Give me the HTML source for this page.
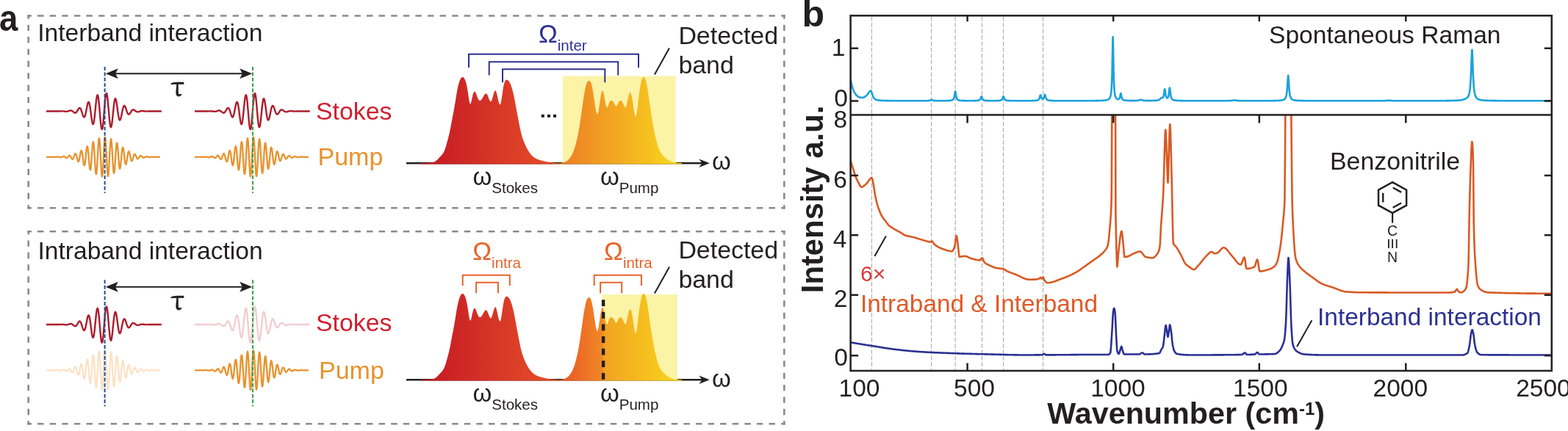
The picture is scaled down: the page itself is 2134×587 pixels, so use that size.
<!DOCTYPE html><html><head><meta charset="utf-8"><title>Figure</title><style>html,body{margin:0;padding:0;background:#fff;overflow:hidden}svg{display:block}text{font-family:'Liberation Sans', Arial, Helvetica, sans-serif}</style></head><body>
<svg width="2134" height="587" viewBox="0 0 2134 587">
<rect width="2134" height="587" fill="#fff"/>
<defs>
<linearGradient id="gRed" gradientUnits="userSpaceOnUse" x1="590" y1="0" x2="740" y2="0"><stop offset="0" stop-color="#c71c25"/><stop offset="1" stop-color="#e34a28"/></linearGradient>
<linearGradient id="gPump" gradientUnits="userSpaceOnUse" x1="770" y1="0" x2="915" y2="0"><stop offset="0" stop-color="#ee8125"/><stop offset="1" stop-color="#f8d31d"/></linearGradient>
<linearGradient id="gPump2" gradientUnits="userSpaceOnUse" x1="770" y1="0" x2="915" y2="0"><stop offset="0" stop-color="#eb5a27"/><stop offset="0.35" stop-color="#f08a25"/><stop offset="0.36" stop-color="#f2a222"/><stop offset="1" stop-color="#f8d11d"/></linearGradient>
<clipPath id="clipTop"><rect x="1157" y="21" width="956" height="135"/></clipPath>
<clipPath id="clipBot"><rect x="1157" y="156.5" width="956" height="349"/></clipPath>
</defs>
<text transform="translate(-1.1 41.7) scale(0.91 1)" font-size="50" font-weight="bold" fill="#231f20">a</text>
<line x1="37.43" y1="21.5" x2="1068.57" y2="21.5" stroke="#8a8a8a" stroke-width="2.55" stroke-dasharray="8.45 8.14" stroke-dashoffset="2.95"/>
<line x1="37.43" y1="283.3" x2="1068.57" y2="283.3" stroke="#8a8a8a" stroke-width="2.55" stroke-dasharray="8.45 8.14" stroke-dashoffset="2.95"/>
<line x1="38.7" y1="20.23" x2="38.7" y2="284.57" stroke="#8a8a8a" stroke-width="2.55" stroke-dasharray="8.33 8.03" stroke-dashoffset="2.83"/>
<line x1="1067.3" y1="20.23" x2="1067.3" y2="284.57" stroke="#8a8a8a" stroke-width="2.55" stroke-dasharray="8.33 8.03" stroke-dashoffset="2.83"/>
<line x1="37.43" y1="315.2" x2="1068.57" y2="315.2" stroke="#8a8a8a" stroke-width="2.55" stroke-dasharray="8.45 8.14" stroke-dashoffset="2.95"/>
<line x1="37.43" y1="577.3" x2="1068.57" y2="577.3" stroke="#8a8a8a" stroke-width="2.55" stroke-dasharray="8.45 8.14" stroke-dashoffset="2.95"/>
<line x1="38.7" y1="313.93" x2="38.7" y2="578.57" stroke="#8a8a8a" stroke-width="2.55" stroke-dasharray="8.34 8.04" stroke-dashoffset="2.84"/>
<line x1="1067.3" y1="313.93" x2="1067.3" y2="578.57" stroke="#8a8a8a" stroke-width="2.55" stroke-dasharray="8.34 8.04" stroke-dashoffset="2.84"/>
<text x="51.2" y="55.9" font-size="33.6" fill="#231f20">Interband interaction</text>
<text x="51.5" y="352.9" font-size="33.6" fill="#231f20">Intraband interaction</text>
<path d="M63 151.5 63.4 151.5 63.8 151.5 64.2 151.5 64.6 151.5 65 151.5 65.4 151.5 65.8 151.5 66.2 151.5 66.6 151.5 67 151.5 67.4 151.5 67.8 151.5 68.2 151.5 68.6 151.5 69 151.5 69.4 151.5 69.8 151.5 70.2 151.5 70.6 151.5 71 151.5 71.4 151.5 71.8 151.5 72.2 151.5 72.6 151.5 73 151.5 73.4 151.5 73.8 151.5 74.2 151.5 74.6 151.5 75 151.5 75.4 151.5 75.8 151.5 76.2 151.5 76.6 151.5 77 151.5 77.4 151.5 77.8 151.5 78.2 151.5 78.6 151.5 79 151.5 79.4 151.5 79.8 151.5 80.2 151.5 80.6 151.5 81 151.5 81.4 151.5 81.8 151.4 82.2 151.4 82.6 151.4 83 151.4 83.4 151.4 83.8 151.4 84.2 151.4 84.6 151.4 85 151.4 85.4 151.4 85.8 151.4 86.2 151.5 86.6 151.5 87 151.6 87.4 151.6 87.8 151.7 88.2 151.7 88.6 151.8 89 151.8 89.4 151.9 89.8 151.9 90.2 151.9 90.6 151.9 91 151.9 91.4 151.8 91.8 151.7 92.2 151.6 92.6 151.5 93 151.4 93.4 151.2 93.8 151.1 94.2 150.9 94.6 150.8 95 150.7 95.4 150.6 95.8 150.5 96.2 150.5 96.6 150.5 97 150.6 97.4 150.7 97.8 150.9 98.2 151.1 98.6 151.4 99 151.7 99.4 152 99.8 152.4 100.2 152.7 100.6 153 101 153.3 101.4 153.5 101.8 153.7 102.2 153.8 102.6 153.7 103 153.6 103.4 153.4 103.8 153 104.2 152.6 104.6 152 105 151.4 105.4 150.7 105.8 150 106.2 149.3 106.6 148.6 107 148 107.4 147.5 107.8 147.2 108.2 147 108.6 147 109 147.2 109.4 147.7 109.8 148.3 110.2 149.1 110.6 150.1 111 151.3 111.4 152.5 111.8 153.8 112.2 155.1 112.6 156.3 113 157.4 113.4 158.4 113.8 159 114.2 159.4 114.6 159.5 115 159.2 115.4 158.5 115.8 157.5 116.2 156.2 116.6 154.5 117 152.6 117.4 150.6 117.8 148.5 118.2 146.3 118.6 144.3 119 142.5 119.4 141 119.8 139.8 120.2 139.1 120.6 138.9 121 139.3 121.4 140.2 121.8 141.6 122.2 143.6 122.6 145.9 123 148.7 123.4 151.7 123.8 154.8 124.2 157.9 124.6 160.9 125 163.6 125.4 165.9 125.8 167.7 126.2 168.8 126.6 169.2 127 168.9 127.4 167.8 127.8 165.9 128.2 163.4 128.6 160.3 129 156.7 129.4 152.8 129.8 148.7 130.2 144.6 130.6 140.6 131 137.1 131.4 134 131.8 131.7 132.2 130.1 132.6 129.4 133 129.6 133.4 130.8 133.8 132.8 134.2 135.7 134.6 139.4 135 143.6 135.4 148.2 135.8 153 136.2 157.8 136.6 162.5 137 166.7 137.4 170.3 137.8 173.2 138.2 175.1 138.6 176.1 139 176.1 139.4 175 139.8 172.9 140.2 169.9 140.6 166.1 141 161.7 141.4 156.9 141.8 151.8 142.2 146.7 142.6 141.9 143 137.4 143.4 133.6 143.8 130.5 144.2 128.3 144.6 127.2 145 127 145.4 127.9 145.8 129.7 146.2 132.5 146.6 136 147 140.1 147.4 144.6 147.8 149.4 148.2 154.2 148.6 158.8 149 163 149.4 166.6 149.8 169.5 150.2 171.7 150.6 172.9 151 173.2 151.4 172.6 151.8 171.2 152.2 168.9 152.6 166 153 162.6 153.4 158.8 153.8 154.8 154.2 150.8 154.6 146.9 155 143.3 155.4 140.3 155.8 137.7 156.2 135.9 156.6 134.7 157 134.3 157.4 134.7 157.8 135.7 158.2 137.3 158.6 139.5 159 142.1 159.4 144.9 159.8 147.9 160.2 150.9 160.6 153.9 161 156.5 161.4 158.9 161.8 160.8 162.2 162.2 162.6 163.2 163 163.6 163.4 163.4 163.8 162.8 164.2 161.7 164.6 160.3 165 158.6 165.4 156.7 165.8 154.7 166.2 152.6 166.6 150.7 167 148.8 167.4 147.3 167.8 145.9 168.2 144.9 168.6 144.3 169 144 169.4 144 169.8 144.3 170.2 144.9 170.6 145.8 171 146.8 171.4 147.9 171.8 149.2 172.2 150.4 172.6 151.6 173 152.7 173.4 153.6 173.8 154.4 174.2 155 174.6 155.5 175 155.7 175.4 155.7 175.8 155.6 176.2 155.2 176.6 154.8 177 154.3 177.4 153.6 177.8 153 178.2 152.3 178.6 151.7 179 151.1 179.4 150.6 179.8 150.1 180.2 149.8 180.6 149.6 181 149.4 181.4 149.4 181.8 149.5 182.2 149.6 182.6 149.8 183 150.1 183.4 150.4 183.8 150.7 184.2 151 184.6 151.3 185 151.6 185.4 151.8 185.8 152.1 186.2 152.2 186.6 152.3 187 152.4 187.4 152.4 187.8 152.4 188.2 152.4 188.6 152.3 189 152.2 189.4 152 189.8 151.9 190.2 151.8 190.6 151.6 191 151.5 191.4 151.4 191.8 151.3 192.2 151.2 192.6 151.2 193 151.1 193.4 151.1 193.8 151.1 194.2 151.2 194.6 151.2 195 151.2 195.4 151.3 195.8 151.3 196.2 151.4 196.6 151.4 197 151.5 197.4 151.5 197.8 151.6 198.2 151.6 198.6 151.6 199 151.6 199.4 151.6 199.8 151.6 200.2 151.6 200.6 151.6 201 151.6 201.4 151.6 201.8 151.6 202.2 151.5 202.6 151.5 203 151.5 203.4 151.5 203.8 151.5 204.2 151.5 204.6 151.5 205 151.5 205.4 151.5 205.8 151.5 206.2 151.5 206.6 151.5 207 151.5 207.4 151.5 207.8 151.5 208.2 151.5 208.6 151.5 209 151.5 209.4 151.5 209.8 151.5 210.2 151.5 210.6 151.5 211 151.5 211.4 151.5 211.8 151.5 212.2 151.5 212.6 151.5 213 151.5 213.4 151.5 213.8 151.5 214.2 151.5 214.6 151.5 215 151.5 215.4 151.5 215.8 151.5 216.2 151.5 216.6 151.5 217 151.5 217.4 151.5 217.8 151.5 218.2 151.5 218.6 151.5 219 151.5 219.4 151.5 219.8 151.5" fill="none" stroke="#ab1c2c" stroke-width="2.4" stroke-linejoin="round"/>
<path d="M63 213.8 63.4 213.8 63.8 213.8 64.2 213.8 64.6 213.8 65 213.8 65.4 213.8 65.8 213.8 66.2 213.8 66.6 213.8 67 213.8 67.4 213.8 67.8 213.8 68.2 213.8 68.6 213.8 69 213.8 69.4 213.7 69.8 213.7 70.2 213.7 70.6 213.7 71 213.7 71.4 213.7 71.8 213.8 72.2 213.8 72.6 213.8 73 213.9 73.4 213.9 73.8 213.9 74.2 213.9 74.6 213.9 75 213.9 75.4 213.9 75.8 213.9 76.2 213.8 76.6 213.7 77 213.7 77.4 213.6 77.8 213.6 78.2 213.5 78.6 213.5 79 213.6 79.4 213.6 79.8 213.7 80.2 213.8 80.6 213.9 81 214 81.4 214.1 81.8 214.2 82.2 214.3 82.6 214.3 83 214.2 83.4 214.1 83.8 214 84.2 213.8 84.6 213.6 85 213.4 85.4 213.3 85.8 213.1 86.2 213 86.6 213 87 213.1 87.4 213.2 87.8 213.4 88.2 213.7 88.6 214 89 214.4 89.4 214.7 89.8 214.9 90.2 215.1 90.6 215.1 91 215 91.4 214.8 91.8 214.5 92.2 214 92.6 213.5 93 213 93.4 212.5 93.8 212.1 94.2 211.8 94.6 211.7 95 211.8 95.4 212.2 95.8 212.7 96.2 213.4 96.6 214.2 97 215 97.4 215.7 97.8 216.4 98.2 216.8 98.6 217 99 216.8 99.4 216.4 99.8 215.6 100.2 214.6 100.6 213.4 101 212.2 101.4 211.1 101.8 210.1 102.2 209.4 102.6 209.2 103 209.3 103.4 210 103.8 211 104.2 212.5 104.6 214.1 105 215.9 105.4 217.5 105.8 218.9 106.2 219.9 106.6 220.3 107 220.1 107.4 219.3 107.8 217.9 108.2 215.9 108.6 213.7 109 211.3 109.4 209 109.8 207 110.2 205.6 110.6 205 111 205.2 111.4 206.2 111.8 208.1 112.2 210.6 112.6 213.6 113 216.8 113.4 219.8 113.8 222.5 114.2 224.4 114.6 225.3 115 225.2 115.4 223.9 115.8 221.6 116.2 218.4 116.6 214.6 117 210.5 117.4 206.6 117.8 203.2 118.2 200.6 118.6 199.3 119 199.4 119.4 200.8 119.8 203.6 120.2 207.6 120.6 212.2 121 217.3 121.4 222.1 121.8 226.4 122.2 229.6 122.6 231.3 123 231.4 123.4 229.8 123.8 226.5 124.2 221.9 124.6 216.4 125 210.4 125.4 204.6 125.8 199.5 126.2 195.6 126.6 193.4 127 193.1 127.4 194.9 127.8 198.5 128.2 203.7 128.6 210 129 216.8 129.4 223.5 129.8 229.5 130.2 234 130.6 236.7 131 237.2 131.4 235.4 131.8 231.6 132.2 225.9 132.6 219 133 211.4 133.4 204 133.8 197.4 134.2 192.2 134.6 189.1 135 188.3 135.4 190 135.8 194 136.2 199.9 136.6 207.3 137 215.3 137.4 223.3 137.8 230.4 138.2 236 138.6 239.5 139 240.5 139.4 239 139.8 235 140.2 229 140.6 221.5 141 213.3 141.4 205.1 141.8 197.7 142.2 191.8 142.6 188.1 143 186.8 143.4 188.1 143.8 191.9 144.2 197.8 144.6 205.1 145 213.3 145.4 221.4 145.8 228.8 146.2 234.7 146.6 238.6 147 240 147.4 239 147.8 235.5 148.2 230 148.6 223.1 149 215.3 149.4 207.5 149.8 200.4 150.2 194.6 150.6 190.8 151 189.2 151.4 190 151.8 193.1 152.2 198 152.6 204.4 153 211.5 153.4 218.7 153.8 225.3 154.2 230.7 154.6 234.3 155 235.9 155.4 235.4 155.8 232.8 156.2 228.5 156.6 222.9 157 216.6 157.4 210.2 157.8 204.3 158.2 199.5 158.6 196.1 159 194.6 159.4 194.9 159.8 197 160.2 200.6 160.6 205.3 161 210.7 161.4 216.2 161.8 221.3 162.2 225.5 162.6 228.4 163 229.9 163.4 229.8 163.8 228.1 164.2 225.2 164.6 221.4 165 216.9 165.4 212.4 165.8 208.2 166.2 204.7 166.6 202.2 167 200.9 167.4 200.8 167.8 202 168.2 204.3 168.6 207.3 169 210.9 169.4 214.5 169.8 217.8 170.2 220.7 170.6 222.7 171 223.8 171.4 223.9 171.8 223.1 172.2 221.4 172.6 219.1 173 216.4 173.4 213.6 173.8 211 174.2 208.8 174.6 207.2 175 206.3 175.4 206.2 175.8 206.8 176.2 208 176.6 209.7 177 211.6 177.4 213.7 177.8 215.6 178.2 217.3 178.6 218.5 179 219.2 179.4 219.3 179.8 218.9 180.2 218.1 180.6 216.9 181 215.5 181.4 214.1 181.8 212.7 182.2 211.5 182.6 210.6 183 210.1 183.4 209.9 183.8 210.2 184.2 210.7 184.6 211.5 185 212.5 185.4 213.5 185.8 214.4 186.2 215.3 186.6 215.9 187 216.3 187.4 216.4 187.8 216.3 188.2 215.9 188.6 215.4 189 214.8 189.4 214.1 189.8 213.4 190.2 212.9 190.6 212.5 191 212.2 191.4 212.1 191.8 212.2 192.2 212.4 192.6 212.7 193 213.1 193.4 213.6 193.8 214 194.2 214.3 194.6 214.6 195 214.8 195.4 214.8 195.8 214.8 196.2 214.7 196.6 214.5 197 214.2 197.4 214 197.8 213.7 198.2 213.5 198.6 213.3 199 213.2 199.4 213.2 199.8 213.2 200.2 213.3 200.6 213.4 201 213.5 201.4 213.7 201.8 213.8 202.2 214 202.6 214.1 203 214.1 203.4 214.2 203.8 214.2 204.2 214.1 204.6 214.1 205 214 205.4 213.9 205.8 213.8 206.2 213.7 206.6 213.7 207 213.6 207.4 213.6 207.8 213.6 208.2 213.6 208.6 213.7 209 213.7 209.4 213.7 209.8 213.8 210.2 213.8 210.6 213.9 211 213.9 211.4 213.9 211.8 213.9 212.2 213.9 212.6 213.9 213 213.9 213.4 213.8 213.8 213.8 214.2 213.8 214.6 213.8 215 213.8 215.4 213.7 215.8 213.7 216.2 213.7 216.6 213.8 217 213.8 217.4 213.8 217.8 213.8" fill="none" stroke="#e8922c" stroke-width="2.3" stroke-linejoin="round"/>
<path d="M265 151.5 265.4 151.5 265.8 151.5 266.2 151.5 266.6 151.5 267 151.5 267.4 151.5 267.8 151.5 268.2 151.5 268.6 151.5 269 151.5 269.4 151.5 269.8 151.5 270.2 151.5 270.6 151.5 271 151.5 271.4 151.5 271.8 151.5 272.2 151.5 272.6 151.5 273 151.5 273.4 151.5 273.8 151.5 274.2 151.5 274.6 151.5 275 151.5 275.4 151.5 275.8 151.5 276.2 151.5 276.6 151.5 277 151.5 277.4 151.5 277.8 151.5 278.2 151.5 278.6 151.5 279 151.5 279.4 151.5 279.8 151.5 280.2 151.5 280.6 151.5 281 151.5 281.4 151.5 281.8 151.5 282.2 151.5 282.6 151.5 283 151.5 283.4 151.5 283.8 151.4 284.2 151.4 284.6 151.4 285 151.4 285.4 151.4 285.8 151.4 286.2 151.4 286.6 151.4 287 151.4 287.4 151.4 287.8 151.4 288.2 151.5 288.6 151.5 289 151.6 289.4 151.6 289.8 151.7 290.2 151.7 290.6 151.8 291 151.8 291.4 151.9 291.8 151.9 292.2 151.9 292.6 151.9 293 151.9 293.4 151.8 293.8 151.7 294.2 151.6 294.6 151.5 295 151.4 295.4 151.2 295.8 151.1 296.2 150.9 296.6 150.8 297 150.7 297.4 150.6 297.8 150.5 298.2 150.5 298.6 150.5 299 150.6 299.4 150.7 299.8 150.9 300.2 151.1 300.6 151.4 301 151.7 301.4 152 301.8 152.4 302.2 152.7 302.6 153 303 153.3 303.4 153.5 303.8 153.7 304.2 153.8 304.6 153.7 305 153.6 305.4 153.4 305.8 153 306.2 152.6 306.6 152 307 151.4 307.4 150.7 307.8 150 308.2 149.3 308.6 148.6 309 148 309.4 147.5 309.8 147.2 310.2 147 310.6 147 311 147.2 311.4 147.7 311.8 148.3 312.2 149.1 312.6 150.1 313 151.3 313.4 152.5 313.8 153.8 314.2 155.1 314.6 156.3 315 157.4 315.4 158.4 315.8 159 316.2 159.4 316.6 159.5 317 159.2 317.4 158.5 317.8 157.5 318.2 156.2 318.6 154.5 319 152.6 319.4 150.6 319.8 148.5 320.2 146.3 320.6 144.3 321 142.5 321.4 141 321.8 139.8 322.2 139.1 322.6 138.9 323 139.3 323.4 140.2 323.8 141.6 324.2 143.6 324.6 145.9 325 148.7 325.4 151.7 325.8 154.8 326.2 157.9 326.6 160.9 327 163.6 327.4 165.9 327.8 167.7 328.2 168.8 328.6 169.2 329 168.9 329.4 167.8 329.8 165.9 330.2 163.4 330.6 160.3 331 156.7 331.4 152.8 331.8 148.7 332.2 144.6 332.6 140.6 333 137.1 333.4 134 333.8 131.7 334.2 130.1 334.6 129.4 335 129.6 335.4 130.8 335.8 132.8 336.2 135.7 336.6 139.4 337 143.6 337.4 148.2 337.8 153 338.2 157.8 338.6 162.5 339 166.7 339.4 170.3 339.8 173.2 340.2 175.1 340.6 176.1 341 176.1 341.4 175 341.8 172.9 342.2 169.9 342.6 166.1 343 161.7 343.4 156.9 343.8 151.8 344.2 146.7 344.6 141.9 345 137.4 345.4 133.6 345.8 130.5 346.2 128.3 346.6 127.2 347 127 347.4 127.9 347.8 129.7 348.2 132.5 348.6 136 349 140.1 349.4 144.6 349.8 149.4 350.2 154.2 350.6 158.8 351 163 351.4 166.6 351.8 169.5 352.2 171.7 352.6 172.9 353 173.2 353.4 172.6 353.8 171.2 354.2 168.9 354.6 166 355 162.6 355.4 158.8 355.8 154.8 356.2 150.8 356.6 146.9 357 143.3 357.4 140.3 357.8 137.7 358.2 135.9 358.6 134.7 359 134.3 359.4 134.7 359.8 135.7 360.2 137.3 360.6 139.5 361 142.1 361.4 144.9 361.8 147.9 362.2 150.9 362.6 153.9 363 156.5 363.4 158.9 363.8 160.8 364.2 162.2 364.6 163.2 365 163.6 365.4 163.4 365.8 162.8 366.2 161.7 366.6 160.3 367 158.6 367.4 156.7 367.8 154.7 368.2 152.6 368.6 150.7 369 148.8 369.4 147.3 369.8 145.9 370.2 144.9 370.6 144.3 371 144 371.4 144 371.8 144.3 372.2 144.9 372.6 145.8 373 146.8 373.4 147.9 373.8 149.2 374.2 150.4 374.6 151.6 375 152.7 375.4 153.6 375.8 154.4 376.2 155 376.6 155.5 377 155.7 377.4 155.7 377.8 155.6 378.2 155.2 378.6 154.8 379 154.3 379.4 153.6 379.8 153 380.2 152.3 380.6 151.7 381 151.1 381.4 150.6 381.8 150.1 382.2 149.8 382.6 149.6 383 149.4 383.4 149.4 383.8 149.5 384.2 149.6 384.6 149.8 385 150.1 385.4 150.4 385.8 150.7 386.2 151 386.6 151.3 387 151.6 387.4 151.8 387.8 152.1 388.2 152.2 388.6 152.3 389 152.4 389.4 152.4 389.8 152.4 390.2 152.4 390.6 152.3 391 152.2 391.4 152 391.8 151.9 392.2 151.8 392.6 151.6 393 151.5 393.4 151.4 393.8 151.3 394.2 151.2 394.6 151.2 395 151.1 395.4 151.1 395.8 151.1 396.2 151.2 396.6 151.2 397 151.2 397.4 151.3 397.8 151.3 398.2 151.4 398.6 151.4 399 151.5 399.4 151.5 399.8 151.6 400.2 151.6 400.6 151.6 401 151.6 401.4 151.6 401.8 151.6 402.2 151.6 402.6 151.6 403 151.6 403.4 151.6 403.8 151.6 404.2 151.5 404.6 151.5 405 151.5 405.4 151.5 405.8 151.5 406.2 151.5 406.6 151.5 407 151.5 407.4 151.5 407.8 151.5 408.2 151.5 408.6 151.5 409 151.5 409.4 151.5 409.8 151.5 410.2 151.5 410.6 151.5 411 151.5 411.4 151.5 411.8 151.5 412.2 151.5 412.6 151.5 413 151.5 413.4 151.5 413.8 151.5 414.2 151.5 414.6 151.5 415 151.5 415.4 151.5 415.8 151.5 416.2 151.5 416.6 151.5 417 151.5 417.4 151.5 417.8 151.5 418.2 151.5 418.6 151.5 419 151.5 419.4 151.5 419.8 151.5 420.2 151.5 420.6 151.5 421 151.5 421.4 151.5 421.8 151.5" fill="none" stroke="#ab1c2c" stroke-width="2.4" stroke-linejoin="round"/>
<path d="M265 213.8 265.4 213.8 265.8 213.8 266.2 213.8 266.6 213.8 267 213.8 267.4 213.8 267.8 213.8 268.2 213.8 268.6 213.8 269 213.8 269.4 213.8 269.8 213.8 270.2 213.8 270.6 213.8 271 213.8 271.4 213.7 271.8 213.7 272.2 213.7 272.6 213.7 273 213.7 273.4 213.7 273.8 213.8 274.2 213.8 274.6 213.8 275 213.9 275.4 213.9 275.8 213.9 276.2 213.9 276.6 213.9 277 213.9 277.4 213.9 277.8 213.9 278.2 213.8 278.6 213.7 279 213.7 279.4 213.6 279.8 213.6 280.2 213.5 280.6 213.5 281 213.6 281.4 213.6 281.8 213.7 282.2 213.8 282.6 213.9 283 214 283.4 214.1 283.8 214.2 284.2 214.3 284.6 214.3 285 214.2 285.4 214.1 285.8 214 286.2 213.8 286.6 213.6 287 213.4 287.4 213.3 287.8 213.1 288.2 213 288.6 213 289 213.1 289.4 213.2 289.8 213.4 290.2 213.7 290.6 214 291 214.4 291.4 214.7 291.8 214.9 292.2 215.1 292.6 215.1 293 215 293.4 214.8 293.8 214.5 294.2 214 294.6 213.5 295 213 295.4 212.5 295.8 212.1 296.2 211.8 296.6 211.7 297 211.8 297.4 212.2 297.8 212.7 298.2 213.4 298.6 214.2 299 215 299.4 215.7 299.8 216.4 300.2 216.8 300.6 217 301 216.8 301.4 216.4 301.8 215.6 302.2 214.6 302.6 213.4 303 212.2 303.4 211.1 303.8 210.1 304.2 209.4 304.6 209.2 305 209.3 305.4 210 305.8 211 306.2 212.5 306.6 214.1 307 215.9 307.4 217.5 307.8 218.9 308.2 219.9 308.6 220.3 309 220.1 309.4 219.3 309.8 217.9 310.2 215.9 310.6 213.7 311 211.3 311.4 209 311.8 207 312.2 205.6 312.6 205 313 205.2 313.4 206.2 313.8 208.1 314.2 210.6 314.6 213.6 315 216.8 315.4 219.8 315.8 222.5 316.2 224.4 316.6 225.3 317 225.2 317.4 223.9 317.8 221.6 318.2 218.4 318.6 214.6 319 210.5 319.4 206.6 319.8 203.2 320.2 200.6 320.6 199.3 321 199.4 321.4 200.8 321.8 203.6 322.2 207.6 322.6 212.2 323 217.3 323.4 222.1 323.8 226.4 324.2 229.6 324.6 231.3 325 231.4 325.4 229.8 325.8 226.5 326.2 221.9 326.6 216.4 327 210.4 327.4 204.6 327.8 199.5 328.2 195.6 328.6 193.4 329 193.1 329.4 194.9 329.8 198.5 330.2 203.7 330.6 210 331 216.8 331.4 223.5 331.8 229.5 332.2 234 332.6 236.7 333 237.2 333.4 235.4 333.8 231.6 334.2 225.9 334.6 219 335 211.4 335.4 204 335.8 197.4 336.2 192.2 336.6 189.1 337 188.3 337.4 190 337.8 194 338.2 199.9 338.6 207.3 339 215.3 339.4 223.3 339.8 230.4 340.2 236 340.6 239.5 341 240.5 341.4 239 341.8 235 342.2 229 342.6 221.5 343 213.3 343.4 205.1 343.8 197.7 344.2 191.8 344.6 188.1 345 186.8 345.4 188.1 345.8 191.9 346.2 197.8 346.6 205.1 347 213.3 347.4 221.4 347.8 228.8 348.2 234.7 348.6 238.6 349 240 349.4 239 349.8 235.5 350.2 230 350.6 223.1 351 215.3 351.4 207.5 351.8 200.4 352.2 194.6 352.6 190.8 353 189.2 353.4 190 353.8 193.1 354.2 198 354.6 204.4 355 211.5 355.4 218.7 355.8 225.3 356.2 230.7 356.6 234.3 357 235.9 357.4 235.4 357.8 232.8 358.2 228.5 358.6 222.9 359 216.6 359.4 210.2 359.8 204.3 360.2 199.5 360.6 196.1 361 194.6 361.4 194.9 361.8 197 362.2 200.6 362.6 205.3 363 210.7 363.4 216.2 363.8 221.3 364.2 225.5 364.6 228.4 365 229.9 365.4 229.8 365.8 228.1 366.2 225.2 366.6 221.4 367 216.9 367.4 212.4 367.8 208.2 368.2 204.7 368.6 202.2 369 200.9 369.4 200.8 369.8 202 370.2 204.3 370.6 207.3 371 210.9 371.4 214.5 371.8 217.8 372.2 220.7 372.6 222.7 373 223.8 373.4 223.9 373.8 223.1 374.2 221.4 374.6 219.1 375 216.4 375.4 213.6 375.8 211 376.2 208.8 376.6 207.2 377 206.3 377.4 206.2 377.8 206.8 378.2 208 378.6 209.7 379 211.6 379.4 213.7 379.8 215.6 380.2 217.3 380.6 218.5 381 219.2 381.4 219.3 381.8 218.9 382.2 218.1 382.6 216.9 383 215.5 383.4 214.1 383.8 212.7 384.2 211.5 384.6 210.6 385 210.1 385.4 209.9 385.8 210.2 386.2 210.7 386.6 211.5 387 212.5 387.4 213.5 387.8 214.4 388.2 215.3 388.6 215.9 389 216.3 389.4 216.4 389.8 216.3 390.2 215.9 390.6 215.4 391 214.8 391.4 214.1 391.8 213.4 392.2 212.9 392.6 212.5 393 212.2 393.4 212.1 393.8 212.2 394.2 212.4 394.6 212.7 395 213.1 395.4 213.6 395.8 214 396.2 214.3 396.6 214.6 397 214.8 397.4 214.8 397.8 214.8 398.2 214.7 398.6 214.5 399 214.2 399.4 214 399.8 213.7 400.2 213.5 400.6 213.3 401 213.2 401.4 213.2 401.8 213.2 402.2 213.3 402.6 213.4 403 213.5 403.4 213.7 403.8 213.8 404.2 214 404.6 214.1 405 214.1 405.4 214.2 405.8 214.2 406.2 214.1 406.6 214.1 407 214 407.4 213.9 407.8 213.8 408.2 213.7 408.6 213.7 409 213.6 409.4 213.6 409.8 213.6 410.2 213.6 410.6 213.7 411 213.7 411.4 213.7 411.8 213.8 412.2 213.8 412.6 213.9 413 213.9 413.4 213.9 413.8 213.9 414.2 213.9 414.6 213.9 415 213.9 415.4 213.8 415.8 213.8 416.2 213.8 416.6 213.8 417 213.8 417.4 213.7 417.8 213.7 418.2 213.7 418.6 213.8 419 213.8 419.4 213.8 419.8 213.8" fill="none" stroke="#e8922c" stroke-width="2.3" stroke-linejoin="round"/>
<line x1="142.6" y1="91" x2="142.6" y2="263" stroke="#1f4b9b" stroke-width="2" stroke-dasharray="5 2.4"/>
<line x1="344" y1="91" x2="344" y2="263" stroke="#3b9e4b" stroke-width="2" stroke-dasharray="5 2.4"/>
<line x1="153.8" y1="100.3" x2="333.2" y2="100.3" stroke="#231f20" stroke-width="2"/>
<polygon points="143.8,100.3 160.8,93.3 157.1,100.3 160.8,107.3" fill="#231f20"/>
<polygon points="343.2,100.3 326.2,93.3 329.9,100.3 326.2,107.3" fill="#231f20"/>
<text x="232.2" y="131.1" font-size="37" fill="#231f20" stroke="#231f20" stroke-width="0.75" style="font-family:'Noto Serif CJK SC', 'Liberation Serif', serif">&#964;</text>
<path d="M63 442 63.4 442 63.8 442 64.2 442 64.6 442 65 442 65.4 442 65.8 442 66.2 442 66.6 442 67 442 67.4 442 67.8 442 68.2 442 68.6 442 69 442 69.4 442 69.8 442 70.2 442 70.6 442 71 442 71.4 442 71.8 442 72.2 442 72.6 442 73 442 73.4 442 73.8 442 74.2 442 74.6 442 75 442 75.4 442 75.8 442 76.2 442 76.6 442 77 442 77.4 442 77.8 442 78.2 442 78.6 442 79 442 79.4 442 79.8 442 80.2 442 80.6 442 81 442 81.4 442 81.8 441.9 82.2 441.9 82.6 441.9 83 441.9 83.4 441.9 83.8 441.9 84.2 441.9 84.6 441.9 85 441.9 85.4 441.9 85.8 441.9 86.2 442 86.6 442 87 442.1 87.4 442.1 87.8 442.2 88.2 442.2 88.6 442.3 89 442.3 89.4 442.4 89.8 442.4 90.2 442.4 90.6 442.4 91 442.4 91.4 442.3 91.8 442.2 92.2 442.1 92.6 442 93 441.9 93.4 441.7 93.8 441.6 94.2 441.4 94.6 441.3 95 441.2 95.4 441.1 95.8 441 96.2 441 96.6 441 97 441.1 97.4 441.2 97.8 441.4 98.2 441.6 98.6 441.9 99 442.2 99.4 442.5 99.8 442.9 100.2 443.2 100.6 443.5 101 443.8 101.4 444 101.8 444.2 102.2 444.3 102.6 444.2 103 444.1 103.4 443.9 103.8 443.5 104.2 443.1 104.6 442.5 105 441.9 105.4 441.2 105.8 440.5 106.2 439.8 106.6 439.1 107 438.5 107.4 438 107.8 437.7 108.2 437.5 108.6 437.5 109 437.7 109.4 438.2 109.8 438.8 110.2 439.6 110.6 440.6 111 441.8 111.4 443 111.8 444.3 112.2 445.6 112.6 446.8 113 447.9 113.4 448.9 113.8 449.5 114.2 449.9 114.6 450 115 449.7 115.4 449 115.8 448 116.2 446.7 116.6 445 117 443.1 117.4 441.1 117.8 439 118.2 436.8 118.6 434.8 119 433 119.4 431.5 119.8 430.3 120.2 429.6 120.6 429.4 121 429.8 121.4 430.7 121.8 432.1 122.2 434.1 122.6 436.4 123 439.2 123.4 442.2 123.8 445.3 124.2 448.4 124.6 451.4 125 454.1 125.4 456.4 125.8 458.2 126.2 459.3 126.6 459.7 127 459.4 127.4 458.3 127.8 456.4 128.2 453.9 128.6 450.8 129 447.2 129.4 443.3 129.8 439.2 130.2 435.1 130.6 431.1 131 427.6 131.4 424.5 131.8 422.2 132.2 420.6 132.6 419.9 133 420.1 133.4 421.3 133.8 423.3 134.2 426.2 134.6 429.9 135 434.1 135.4 438.7 135.8 443.5 136.2 448.3 136.6 453 137 457.2 137.4 460.8 137.8 463.7 138.2 465.6 138.6 466.6 139 466.6 139.4 465.5 139.8 463.4 140.2 460.4 140.6 456.6 141 452.2 141.4 447.4 141.8 442.3 142.2 437.2 142.6 432.4 143 427.9 143.4 424.1 143.8 421 144.2 418.8 144.6 417.7 145 417.5 145.4 418.4 145.8 420.2 146.2 423 146.6 426.5 147 430.6 147.4 435.1 147.8 439.9 148.2 444.7 148.6 449.3 149 453.5 149.4 457.1 149.8 460 150.2 462.2 150.6 463.4 151 463.7 151.4 463.1 151.8 461.7 152.2 459.4 152.6 456.5 153 453.1 153.4 449.3 153.8 445.3 154.2 441.3 154.6 437.4 155 433.8 155.4 430.8 155.8 428.2 156.2 426.4 156.6 425.2 157 424.8 157.4 425.2 157.8 426.2 158.2 427.8 158.6 430 159 432.6 159.4 435.4 159.8 438.4 160.2 441.4 160.6 444.4 161 447 161.4 449.4 161.8 451.3 162.2 452.7 162.6 453.7 163 454.1 163.4 453.9 163.8 453.3 164.2 452.2 164.6 450.8 165 449.1 165.4 447.2 165.8 445.2 166.2 443.1 166.6 441.2 167 439.3 167.4 437.8 167.8 436.4 168.2 435.4 168.6 434.8 169 434.5 169.4 434.5 169.8 434.8 170.2 435.4 170.6 436.3 171 437.3 171.4 438.4 171.8 439.7 172.2 440.9 172.6 442.1 173 443.2 173.4 444.1 173.8 444.9 174.2 445.5 174.6 446 175 446.2 175.4 446.2 175.8 446.1 176.2 445.7 176.6 445.3 177 444.8 177.4 444.1 177.8 443.5 178.2 442.8 178.6 442.2 179 441.6 179.4 441.1 179.8 440.6 180.2 440.3 180.6 440.1 181 439.9 181.4 439.9 181.8 440 182.2 440.1 182.6 440.3 183 440.6 183.4 440.9 183.8 441.2 184.2 441.5 184.6 441.8 185 442.1 185.4 442.3 185.8 442.6 186.2 442.7 186.6 442.8 187 442.9 187.4 442.9 187.8 442.9 188.2 442.9 188.6 442.8 189 442.7 189.4 442.5 189.8 442.4 190.2 442.3 190.6 442.1 191 442 191.4 441.9 191.8 441.8 192.2 441.7 192.6 441.7 193 441.6 193.4 441.6 193.8 441.6 194.2 441.7 194.6 441.7 195 441.7 195.4 441.8 195.8 441.8 196.2 441.9 196.6 441.9 197 442 197.4 442 197.8 442.1 198.2 442.1 198.6 442.1 199 442.1 199.4 442.1 199.8 442.1 200.2 442.1 200.6 442.1 201 442.1 201.4 442.1 201.8 442.1 202.2 442 202.6 442 203 442 203.4 442 203.8 442 204.2 442 204.6 442 205 442 205.4 442 205.8 442 206.2 442 206.6 442 207 442 207.4 442 207.8 442 208.2 442 208.6 442 209 442 209.4 442 209.8 442 210.2 442 210.6 442 211 442 211.4 442 211.8 442 212.2 442 212.6 442 213 442 213.4 442 213.8 442 214.2 442 214.6 442 215 442 215.4 442 215.8 442 216.2 442 216.6 442 217 442 217.4 442 217.8 442 218.2 442 218.6 442 219 442 219.4 442 219.8 442" fill="none" stroke="#ab1c2c" stroke-width="2.4" stroke-linejoin="round"/>
<path d="M63 504.3 63.4 504.3 63.8 504.3 64.2 504.3 64.6 504.3 65 504.3 65.4 504.3 65.8 504.3 66.2 504.3 66.6 504.3 67 504.3 67.4 504.3 67.8 504.3 68.2 504.3 68.6 504.3 69 504.3 69.4 504.2 69.8 504.2 70.2 504.2 70.6 504.2 71 504.2 71.4 504.2 71.8 504.3 72.2 504.3 72.6 504.3 73 504.4 73.4 504.4 73.8 504.4 74.2 504.4 74.6 504.4 75 504.4 75.4 504.4 75.8 504.4 76.2 504.3 76.6 504.2 77 504.2 77.4 504.1 77.8 504.1 78.2 504 78.6 504 79 504.1 79.4 504.1 79.8 504.2 80.2 504.3 80.6 504.4 81 504.5 81.4 504.6 81.8 504.7 82.2 504.8 82.6 504.8 83 504.7 83.4 504.6 83.8 504.5 84.2 504.3 84.6 504.1 85 503.9 85.4 503.8 85.8 503.6 86.2 503.5 86.6 503.5 87 503.6 87.4 503.7 87.8 503.9 88.2 504.2 88.6 504.5 89 504.9 89.4 505.2 89.8 505.4 90.2 505.6 90.6 505.6 91 505.5 91.4 505.3 91.8 505 92.2 504.5 92.6 504 93 503.5 93.4 503 93.8 502.6 94.2 502.3 94.6 502.2 95 502.3 95.4 502.7 95.8 503.2 96.2 503.9 96.6 504.7 97 505.5 97.4 506.2 97.8 506.9 98.2 507.3 98.6 507.5 99 507.3 99.4 506.9 99.8 506.1 100.2 505.1 100.6 503.9 101 502.7 101.4 501.6 101.8 500.6 102.2 499.9 102.6 499.7 103 499.8 103.4 500.5 103.8 501.5 104.2 503 104.6 504.6 105 506.4 105.4 508 105.8 509.4 106.2 510.4 106.6 510.8 107 510.6 107.4 509.8 107.8 508.4 108.2 506.4 108.6 504.2 109 501.8 109.4 499.5 109.8 497.5 110.2 496.1 110.6 495.5 111 495.7 111.4 496.7 111.8 498.6 112.2 501.1 112.6 504.1 113 507.3 113.4 510.3 113.8 513 114.2 514.9 114.6 515.8 115 515.7 115.4 514.4 115.8 512.1 116.2 508.9 116.6 505.1 117 501 117.4 497.1 117.8 493.7 118.2 491.1 118.6 489.8 119 489.9 119.4 491.3 119.8 494.1 120.2 498.1 120.6 502.7 121 507.8 121.4 512.6 121.8 516.9 122.2 520.1 122.6 521.8 123 521.9 123.4 520.3 123.8 517 124.2 512.4 124.6 506.9 125 500.9 125.4 495.1 125.8 490 126.2 486.1 126.6 483.9 127 483.6 127.4 485.4 127.8 489 128.2 494.2 128.6 500.5 129 507.3 129.4 514 129.8 520 130.2 524.5 130.6 527.2 131 527.7 131.4 525.9 131.8 522.1 132.2 516.4 132.6 509.5 133 501.9 133.4 494.5 133.8 487.9 134.2 482.7 134.6 479.6 135 478.8 135.4 480.5 135.8 484.5 136.2 490.4 136.6 497.8 137 505.8 137.4 513.8 137.8 520.9 138.2 526.5 138.6 530 139 531 139.4 529.5 139.8 525.5 140.2 519.5 140.6 512 141 503.8 141.4 495.6 141.8 488.2 142.2 482.3 142.6 478.6 143 477.3 143.4 478.6 143.8 482.4 144.2 488.3 144.6 495.6 145 503.8 145.4 511.9 145.8 519.3 146.2 525.2 146.6 529.1 147 530.5 147.4 529.5 147.8 526 148.2 520.5 148.6 513.6 149 505.8 149.4 498 149.8 490.9 150.2 485.1 150.6 481.3 151 479.7 151.4 480.5 151.8 483.6 152.2 488.5 152.6 494.9 153 502 153.4 509.2 153.8 515.8 154.2 521.2 154.6 524.8 155 526.4 155.4 525.9 155.8 523.3 156.2 519 156.6 513.4 157 507.1 157.4 500.7 157.8 494.8 158.2 490 158.6 486.6 159 485.1 159.4 485.4 159.8 487.5 160.2 491.1 160.6 495.8 161 501.2 161.4 506.7 161.8 511.8 162.2 516 162.6 518.9 163 520.4 163.4 520.3 163.8 518.6 164.2 515.7 164.6 511.9 165 507.4 165.4 502.9 165.8 498.7 166.2 495.2 166.6 492.7 167 491.4 167.4 491.3 167.8 492.5 168.2 494.8 168.6 497.8 169 501.4 169.4 505 169.8 508.3 170.2 511.2 170.6 513.2 171 514.3 171.4 514.4 171.8 513.6 172.2 511.9 172.6 509.6 173 506.9 173.4 504.1 173.8 501.5 174.2 499.3 174.6 497.7 175 496.8 175.4 496.7 175.8 497.3 176.2 498.5 176.6 500.2 177 502.1 177.4 504.2 177.8 506.1 178.2 507.8 178.6 509 179 509.7 179.4 509.8 179.8 509.4 180.2 508.6 180.6 507.4 181 506 181.4 504.6 181.8 503.2 182.2 502 182.6 501.1 183 500.6 183.4 500.4 183.8 500.7 184.2 501.2 184.6 502 185 503 185.4 504 185.8 504.9 186.2 505.8 186.6 506.4 187 506.8 187.4 506.9 187.8 506.8 188.2 506.4 188.6 505.9 189 505.3 189.4 504.6 189.8 503.9 190.2 503.4 190.6 503 191 502.7 191.4 502.6 191.8 502.7 192.2 502.9 192.6 503.2 193 503.6 193.4 504.1 193.8 504.5 194.2 504.8 194.6 505.1 195 505.3 195.4 505.3 195.8 505.3 196.2 505.2 196.6 505 197 504.7 197.4 504.5 197.8 504.2 198.2 504 198.6 503.8 199 503.7 199.4 503.7 199.8 503.7 200.2 503.8 200.6 503.9 201 504 201.4 504.2 201.8 504.3 202.2 504.5 202.6 504.6 203 504.6 203.4 504.7 203.8 504.7 204.2 504.6 204.6 504.6 205 504.5 205.4 504.4 205.8 504.3 206.2 504.2 206.6 504.2 207 504.1 207.4 504.1 207.8 504.1 208.2 504.1 208.6 504.2 209 504.2 209.4 504.2 209.8 504.3 210.2 504.3 210.6 504.4 211 504.4 211.4 504.4 211.8 504.4 212.2 504.4 212.6 504.4 213 504.4 213.4 504.3 213.8 504.3 214.2 504.3 214.6 504.3 215 504.3 215.4 504.2 215.8 504.2 216.2 504.2 216.6 504.3 217 504.3 217.4 504.3 217.8 504.3" fill="none" stroke="#fbe2c5" stroke-width="2.3" stroke-linejoin="round"/>
<path d="M265 442 265.4 442 265.8 442 266.2 442 266.6 442 267 442 267.4 442 267.8 442 268.2 442 268.6 442 269 442 269.4 442 269.8 442 270.2 442 270.6 442 271 442 271.4 442 271.8 442 272.2 442 272.6 442 273 442 273.4 442 273.8 442 274.2 442 274.6 442 275 442 275.4 442 275.8 442 276.2 442 276.6 442 277 442 277.4 442 277.8 442 278.2 442 278.6 442 279 442 279.4 442 279.8 442 280.2 442 280.6 442 281 442 281.4 442 281.8 442 282.2 442 282.6 442 283 442 283.4 442 283.8 441.9 284.2 441.9 284.6 441.9 285 441.9 285.4 441.9 285.8 441.9 286.2 441.9 286.6 441.9 287 441.9 287.4 441.9 287.8 441.9 288.2 442 288.6 442 289 442.1 289.4 442.1 289.8 442.2 290.2 442.2 290.6 442.3 291 442.3 291.4 442.4 291.8 442.4 292.2 442.4 292.6 442.4 293 442.4 293.4 442.3 293.8 442.2 294.2 442.1 294.6 442 295 441.9 295.4 441.7 295.8 441.6 296.2 441.4 296.6 441.3 297 441.2 297.4 441.1 297.8 441 298.2 441 298.6 441 299 441.1 299.4 441.2 299.8 441.4 300.2 441.6 300.6 441.9 301 442.2 301.4 442.5 301.8 442.9 302.2 443.2 302.6 443.5 303 443.8 303.4 444 303.8 444.2 304.2 444.3 304.6 444.2 305 444.1 305.4 443.9 305.8 443.5 306.2 443.1 306.6 442.5 307 441.9 307.4 441.2 307.8 440.5 308.2 439.8 308.6 439.1 309 438.5 309.4 438 309.8 437.7 310.2 437.5 310.6 437.5 311 437.7 311.4 438.2 311.8 438.8 312.2 439.6 312.6 440.6 313 441.8 313.4 443 313.8 444.3 314.2 445.6 314.6 446.8 315 447.9 315.4 448.9 315.8 449.5 316.2 449.9 316.6 450 317 449.7 317.4 449 317.8 448 318.2 446.7 318.6 445 319 443.1 319.4 441.1 319.8 439 320.2 436.8 320.6 434.8 321 433 321.4 431.5 321.8 430.3 322.2 429.6 322.6 429.4 323 429.8 323.4 430.7 323.8 432.1 324.2 434.1 324.6 436.4 325 439.2 325.4 442.2 325.8 445.3 326.2 448.4 326.6 451.4 327 454.1 327.4 456.4 327.8 458.2 328.2 459.3 328.6 459.7 329 459.4 329.4 458.3 329.8 456.4 330.2 453.9 330.6 450.8 331 447.2 331.4 443.3 331.8 439.2 332.2 435.1 332.6 431.1 333 427.6 333.4 424.5 333.8 422.2 334.2 420.6 334.6 419.9 335 420.1 335.4 421.3 335.8 423.3 336.2 426.2 336.6 429.9 337 434.1 337.4 438.7 337.8 443.5 338.2 448.3 338.6 453 339 457.2 339.4 460.8 339.8 463.7 340.2 465.6 340.6 466.6 341 466.6 341.4 465.5 341.8 463.4 342.2 460.4 342.6 456.6 343 452.2 343.4 447.4 343.8 442.3 344.2 437.2 344.6 432.4 345 427.9 345.4 424.1 345.8 421 346.2 418.8 346.6 417.7 347 417.5 347.4 418.4 347.8 420.2 348.2 423 348.6 426.5 349 430.6 349.4 435.1 349.8 439.9 350.2 444.7 350.6 449.3 351 453.5 351.4 457.1 351.8 460 352.2 462.2 352.6 463.4 353 463.7 353.4 463.1 353.8 461.7 354.2 459.4 354.6 456.5 355 453.1 355.4 449.3 355.8 445.3 356.2 441.3 356.6 437.4 357 433.8 357.4 430.8 357.8 428.2 358.2 426.4 358.6 425.2 359 424.8 359.4 425.2 359.8 426.2 360.2 427.8 360.6 430 361 432.6 361.4 435.4 361.8 438.4 362.2 441.4 362.6 444.4 363 447 363.4 449.4 363.8 451.3 364.2 452.7 364.6 453.7 365 454.1 365.4 453.9 365.8 453.3 366.2 452.2 366.6 450.8 367 449.1 367.4 447.2 367.8 445.2 368.2 443.1 368.6 441.2 369 439.3 369.4 437.8 369.8 436.4 370.2 435.4 370.6 434.8 371 434.5 371.4 434.5 371.8 434.8 372.2 435.4 372.6 436.3 373 437.3 373.4 438.4 373.8 439.7 374.2 440.9 374.6 442.1 375 443.2 375.4 444.1 375.8 444.9 376.2 445.5 376.6 446 377 446.2 377.4 446.2 377.8 446.1 378.2 445.7 378.6 445.3 379 444.8 379.4 444.1 379.8 443.5 380.2 442.8 380.6 442.2 381 441.6 381.4 441.1 381.8 440.6 382.2 440.3 382.6 440.1 383 439.9 383.4 439.9 383.8 440 384.2 440.1 384.6 440.3 385 440.6 385.4 440.9 385.8 441.2 386.2 441.5 386.6 441.8 387 442.1 387.4 442.3 387.8 442.6 388.2 442.7 388.6 442.8 389 442.9 389.4 442.9 389.8 442.9 390.2 442.9 390.6 442.8 391 442.7 391.4 442.5 391.8 442.4 392.2 442.3 392.6 442.1 393 442 393.4 441.9 393.8 441.8 394.2 441.7 394.6 441.7 395 441.6 395.4 441.6 395.8 441.6 396.2 441.7 396.6 441.7 397 441.7 397.4 441.8 397.8 441.8 398.2 441.9 398.6 441.9 399 442 399.4 442 399.8 442.1 400.2 442.1 400.6 442.1 401 442.1 401.4 442.1 401.8 442.1 402.2 442.1 402.6 442.1 403 442.1 403.4 442.1 403.8 442.1 404.2 442 404.6 442 405 442 405.4 442 405.8 442 406.2 442 406.6 442 407 442 407.4 442 407.8 442 408.2 442 408.6 442 409 442 409.4 442 409.8 442 410.2 442 410.6 442 411 442 411.4 442 411.8 442 412.2 442 412.6 442 413 442 413.4 442 413.8 442 414.2 442 414.6 442 415 442 415.4 442 415.8 442 416.2 442 416.6 442 417 442 417.4 442 417.8 442 418.2 442 418.6 442 419 442 419.4 442 419.8 442 420.2 442 420.6 442 421 442 421.4 442 421.8 442" fill="none" stroke="#f1cdd1" stroke-width="2.4" stroke-linejoin="round"/>
<path d="M265 504.3 265.4 504.3 265.8 504.3 266.2 504.3 266.6 504.3 267 504.3 267.4 504.3 267.8 504.3 268.2 504.3 268.6 504.3 269 504.3 269.4 504.3 269.8 504.3 270.2 504.3 270.6 504.3 271 504.3 271.4 504.2 271.8 504.2 272.2 504.2 272.6 504.2 273 504.2 273.4 504.2 273.8 504.3 274.2 504.3 274.6 504.3 275 504.4 275.4 504.4 275.8 504.4 276.2 504.4 276.6 504.4 277 504.4 277.4 504.4 277.8 504.4 278.2 504.3 278.6 504.2 279 504.2 279.4 504.1 279.8 504.1 280.2 504 280.6 504 281 504.1 281.4 504.1 281.8 504.2 282.2 504.3 282.6 504.4 283 504.5 283.4 504.6 283.8 504.7 284.2 504.8 284.6 504.8 285 504.7 285.4 504.6 285.8 504.5 286.2 504.3 286.6 504.1 287 503.9 287.4 503.8 287.8 503.6 288.2 503.5 288.6 503.5 289 503.6 289.4 503.7 289.8 503.9 290.2 504.2 290.6 504.5 291 504.9 291.4 505.2 291.8 505.4 292.2 505.6 292.6 505.6 293 505.5 293.4 505.3 293.8 505 294.2 504.5 294.6 504 295 503.5 295.4 503 295.8 502.6 296.2 502.3 296.6 502.2 297 502.3 297.4 502.7 297.8 503.2 298.2 503.9 298.6 504.7 299 505.5 299.4 506.2 299.8 506.9 300.2 507.3 300.6 507.5 301 507.3 301.4 506.9 301.8 506.1 302.2 505.1 302.6 503.9 303 502.7 303.4 501.6 303.8 500.6 304.2 499.9 304.6 499.7 305 499.8 305.4 500.5 305.8 501.5 306.2 503 306.6 504.6 307 506.4 307.4 508 307.8 509.4 308.2 510.4 308.6 510.8 309 510.6 309.4 509.8 309.8 508.4 310.2 506.4 310.6 504.2 311 501.8 311.4 499.5 311.8 497.5 312.2 496.1 312.6 495.5 313 495.7 313.4 496.7 313.8 498.6 314.2 501.1 314.6 504.1 315 507.3 315.4 510.3 315.8 513 316.2 514.9 316.6 515.8 317 515.7 317.4 514.4 317.8 512.1 318.2 508.9 318.6 505.1 319 501 319.4 497.1 319.8 493.7 320.2 491.1 320.6 489.8 321 489.9 321.4 491.3 321.8 494.1 322.2 498.1 322.6 502.7 323 507.8 323.4 512.6 323.8 516.9 324.2 520.1 324.6 521.8 325 521.9 325.4 520.3 325.8 517 326.2 512.4 326.6 506.9 327 500.9 327.4 495.1 327.8 490 328.2 486.1 328.6 483.9 329 483.6 329.4 485.4 329.8 489 330.2 494.2 330.6 500.5 331 507.3 331.4 514 331.8 520 332.2 524.5 332.6 527.2 333 527.7 333.4 525.9 333.8 522.1 334.2 516.4 334.6 509.5 335 501.9 335.4 494.5 335.8 487.9 336.2 482.7 336.6 479.6 337 478.8 337.4 480.5 337.8 484.5 338.2 490.4 338.6 497.8 339 505.8 339.4 513.8 339.8 520.9 340.2 526.5 340.6 530 341 531 341.4 529.5 341.8 525.5 342.2 519.5 342.6 512 343 503.8 343.4 495.6 343.8 488.2 344.2 482.3 344.6 478.6 345 477.3 345.4 478.6 345.8 482.4 346.2 488.3 346.6 495.6 347 503.8 347.4 511.9 347.8 519.3 348.2 525.2 348.6 529.1 349 530.5 349.4 529.5 349.8 526 350.2 520.5 350.6 513.6 351 505.8 351.4 498 351.8 490.9 352.2 485.1 352.6 481.3 353 479.7 353.4 480.5 353.8 483.6 354.2 488.5 354.6 494.9 355 502 355.4 509.2 355.8 515.8 356.2 521.2 356.6 524.8 357 526.4 357.4 525.9 357.8 523.3 358.2 519 358.6 513.4 359 507.1 359.4 500.7 359.8 494.8 360.2 490 360.6 486.6 361 485.1 361.4 485.4 361.8 487.5 362.2 491.1 362.6 495.8 363 501.2 363.4 506.7 363.8 511.8 364.2 516 364.6 518.9 365 520.4 365.4 520.3 365.8 518.6 366.2 515.7 366.6 511.9 367 507.4 367.4 502.9 367.8 498.7 368.2 495.2 368.6 492.7 369 491.4 369.4 491.3 369.8 492.5 370.2 494.8 370.6 497.8 371 501.4 371.4 505 371.8 508.3 372.2 511.2 372.6 513.2 373 514.3 373.4 514.4 373.8 513.6 374.2 511.9 374.6 509.6 375 506.9 375.4 504.1 375.8 501.5 376.2 499.3 376.6 497.7 377 496.8 377.4 496.7 377.8 497.3 378.2 498.5 378.6 500.2 379 502.1 379.4 504.2 379.8 506.1 380.2 507.8 380.6 509 381 509.7 381.4 509.8 381.8 509.4 382.2 508.6 382.6 507.4 383 506 383.4 504.6 383.8 503.2 384.2 502 384.6 501.1 385 500.6 385.4 500.4 385.8 500.7 386.2 501.2 386.6 502 387 503 387.4 504 387.8 504.9 388.2 505.8 388.6 506.4 389 506.8 389.4 506.9 389.8 506.8 390.2 506.4 390.6 505.9 391 505.3 391.4 504.6 391.8 503.9 392.2 503.4 392.6 503 393 502.7 393.4 502.6 393.8 502.7 394.2 502.9 394.6 503.2 395 503.6 395.4 504.1 395.8 504.5 396.2 504.8 396.6 505.1 397 505.3 397.4 505.3 397.8 505.3 398.2 505.2 398.6 505 399 504.7 399.4 504.5 399.8 504.2 400.2 504 400.6 503.8 401 503.7 401.4 503.7 401.8 503.7 402.2 503.8 402.6 503.9 403 504 403.4 504.2 403.8 504.3 404.2 504.5 404.6 504.6 405 504.6 405.4 504.7 405.8 504.7 406.2 504.6 406.6 504.6 407 504.5 407.4 504.4 407.8 504.3 408.2 504.2 408.6 504.2 409 504.1 409.4 504.1 409.8 504.1 410.2 504.1 410.6 504.2 411 504.2 411.4 504.2 411.8 504.3 412.2 504.3 412.6 504.4 413 504.4 413.4 504.4 413.8 504.4 414.2 504.4 414.6 504.4 415 504.4 415.4 504.3 415.8 504.3 416.2 504.3 416.6 504.3 417 504.3 417.4 504.2 417.8 504.2 418.2 504.2 418.6 504.3 419 504.3 419.4 504.3 419.8 504.3" fill="none" stroke="#e8922c" stroke-width="2.3" stroke-linejoin="round"/>
<line x1="142.6" y1="381.3" x2="142.6" y2="553.5" stroke="#1f4b9b" stroke-width="2" stroke-dasharray="5 2.4"/>
<line x1="344" y1="381.3" x2="344" y2="553.5" stroke="#3b9e4b" stroke-width="2" stroke-dasharray="5 2.4"/>
<line x1="153.8" y1="390.8" x2="333.2" y2="390.8" stroke="#231f20" stroke-width="2"/>
<polygon points="143.8,390.8 160.8,383.8 157.1,390.8 160.8,397.8" fill="#231f20"/>
<polygon points="343.2,390.8 326.2,383.8 329.9,390.8 326.2,397.8" fill="#231f20"/>
<text x="232.2" y="421.6" font-size="37" fill="#231f20" stroke="#231f20" stroke-width="0.75" style="font-family:'Noto Serif CJK SC', 'Liberation Serif', serif">&#964;</text>
<text x="430" y="163" font-size="33.8" fill="#d01f2e">Stokes</text>
<text x="432.5" y="225.3" font-size="34" fill="#e8922c">Pump</text>
<text x="430" y="450.9" font-size="33.8" fill="#d01f2e">Stokes</text>
<text x="434" y="515.6" font-size="34" fill="#e8922c">Pump</text>
<line x1="553" y1="222.2" x2="958" y2="222.2" stroke="#231f20" stroke-width="2.4"/>
<polygon points="965.8,222.2 951.2,216.4 955.6,222.2 951.2,228" fill="#231f20"/>
<rect x="766" y="103.6" width="153.6" height="118.8" fill="#fbf3a6"/>
<path d="M572 223.5 572 222.2 572.5 222.2 573 222.2 573.5 222.1 574 222.1 574.5 222.1 575 222.1 575.5 222 576 222 576.5 222 577 222 577.5 222 578 221.9 578.5 221.9 579 221.9 579.5 221.9 580 221.8 580.5 221.8 581 221.8 581.5 221.8 582 221.7 582.5 221.7 583 221.7 583.5 221.7 584 221.6 584.5 221.6 585 221.6 585.5 221.5 586 221.5 586.5 221.4 587 221.4 587.5 221.3 588 221.3 588.5 221.2 589 221 589.5 220.9 590 220.8 590.5 220.6 591 220.4 591.5 220.2 592 219.9 592.5 219.6 593 219.3 593.5 219 594 218.6 594.5 218.1 595 217.7 595.5 217.2 596 216.7 596.5 216.2 597 215.7 597.5 215.1 598 214.6 598.5 214 599 213.5 599.5 212.9 600 212.4 600.5 211.9 601 211.3 601.5 210.7 602 210.1 602.5 209.5 603 208.7 603.5 207.9 604 207 604.5 206 605 204.9 605.5 203.6 606 202.2 606.5 200.6 607 199 607.5 197.2 608 195.4 608.5 193.6 609 191.8 609.5 189.9 610 188 610.5 186.1 611 184 611.5 181.9 612 179.7 612.5 177.3 613 174.8 613.5 172.2 614 169.5 614.5 166.9 615 164.2 615.5 161.5 616 158.9 616.5 156.3 617 153.7 617.5 151.1 618 148.3 618.5 145.5 619 142.6 619.5 139.6 620 136.4 620.5 133.3 621 130.2 621.5 127.2 622 124.3 622.5 121.7 623 119.3 623.5 117.1 624 115.1 624.5 113.3 625 111.7 625.5 110.2 626 109 626.5 107.9 627 107 627.5 106.3 628 105.7 628.5 105.3 629 105.1 629.5 105 630 105 630.5 105.2 631 105.6 631.5 106.1 632 106.9 632.5 107.8 633 108.9 633.5 110.2 634 111.8 634.5 113.6 635 115.7 635.5 118.1 636 120.8 636.5 123.8 637 127.1 637.5 130.5 638 133.9 638.5 136.9 639 139.3 639.5 141 640 141.6 640.5 141.3 641 140.1 641.5 138.3 642 136.1 642.5 133.7 643 131.4 643.5 129.3 644 127.6 644.5 126.3 645 125.4 645.5 124.8 646 124.6 646.5 124.9 647 125.6 647.5 126.5 648 127.7 648.5 129.1 649 130.5 649.5 131.9 650 133.2 650.5 134.3 651 135.2 651.5 136 652 136.5 652.5 136.9 653 137.1 653.5 137.1 654 136.9 654.5 136.5 655 136 655.5 135.3 656 134.6 656.5 133.8 657 132.9 657.5 132 658 131.2 658.5 130.3 659 129.5 659.5 128.8 660 128.2 660.5 127.7 661 127.4 661.5 127.4 662 127.5 662.5 127.9 663 128.6 663.5 129.6 664 130.8 664.5 132 665 133.4 665.5 134.7 666 135.9 666.5 137 667 137.8 667.5 138.3 668 138.4 668.5 138 669 137.1 669.5 135.9 670 134.4 670.5 132.7 671 130.8 671.5 129 672 127.3 672.5 125.8 673 124.5 673.5 123.6 674 123.2 674.5 123.4 675 124.2 675.5 125.5 676 127.3 676.5 129.3 677 131.6 677.5 133.9 678 136.2 678.5 138.3 679 140.1 679.5 141.5 680 142.4 680.5 142.6 681 142.1 681.5 140.6 682 138.4 682.5 135.6 683 132.3 683.5 128.8 684 125.3 684.5 121.9 685 118.8 685.5 116.3 686 114.1 686.5 112.4 687 111.1 687.5 110.1 688 109.4 688.5 108.9 689 108.7 689.5 108.6 690 108.7 690.5 108.9 691 109.1 691.5 109.5 692 110 692.5 110.6 693 111.3 693.5 112.1 694 113 694.5 114.1 695 115.2 695.5 116.5 696 118 696.5 119.5 697 121.2 697.5 123 698 124.9 698.5 127 699 129.1 699.5 131.4 700 133.9 700.5 136.4 701 139 701.5 141.7 702 144.4 702.5 147.1 703 149.8 703.5 152.6 704 155.3 704.5 158 705 160.6 705.5 163.3 706 165.9 706.5 168.5 707 171 707.5 173.5 708 175.8 708.5 178.1 709 180.3 709.5 182.3 710 184.2 710.5 185.9 711 187.5 711.5 189 712 190.5 712.5 191.8 713 193.1 713.5 194.3 714 195.5 714.5 196.6 715 197.8 715.5 198.8 716 199.9 716.5 200.9 717 201.8 717.5 202.7 718 203.6 718.5 204.5 719 205.3 719.5 206.1 720 206.9 720.5 207.6 721 208.3 721.5 209 722 209.6 722.5 210.2 723 210.8 723.5 211.3 724 211.9 724.5 212.4 725 212.8 725.5 213.3 726 213.7 726.5 214.1 727 214.4 727.5 214.8 728 215.1 728.5 215.4 729 215.7 729.5 216 730 216.2 730.5 216.4 731 216.7 731.5 216.9 732 217.1 732.5 217.2 733 217.4 733.5 217.6 734 217.8 734.5 217.9 735 218.1 735.5 218.2 736 218.4 736.5 218.5 737 218.6 737.5 218.8 738 218.9 738.5 219 739 219.2 739.5 219.3 740 219.4 740.5 219.5 741 219.6 741.5 219.7 742 219.9 742.5 220 743 220.1 743.5 220.2 744 220.3 744.5 220.4 745 220.4 745.5 220.5 746 220.6 746.5 220.7 747 220.8 747.5 220.9 748 220.9 748.5 221 749 221.1 749.5 221.2 750 221.2 750.5 221.3 751 221.4 751.5 221.4 752 221.5 752.5 221.6 753 221.6 753.5 221.7 754 221.7 754.5 221.8 755 221.9 755.5 221.9 756 222 756.5 222 757 222.1 757.5 222.1 758 222.2 758 223.5Z" fill="url(#gRed)"/>
<path d="M752 223.5 752 222.2 752.5 222.2 753 222.2 753.5 222.2 754 222.2 754.5 222.2 755 222.2 755.5 222.2 756 222.2 756.5 222.2 757 222.2 757.5 222.2 758 222.2 758.5 222.2 759 222.2 759.5 222.2 760 222.2 760.5 222.2 761 222.2 761.5 222.2 762 222.2 762.5 222.1 763 222 763.5 222 764 221.9 764.5 221.8 765 221.7 765.5 221.6 766 221.5 766.5 221.3 767 221.2 767.5 221 768 220.9 768.5 220.7 769 220.5 769.5 220.3 770 220 770.5 219.8 771 219.5 771.5 219.2 772 218.8 772.5 218.5 773 218 773.5 217.6 774 217.1 774.5 216.6 775 216 775.5 215.4 776 214.7 776.5 214 777 213.2 777.5 212.4 778 211.5 778.5 210.6 779 209.5 779.5 208.4 780 207.3 780.5 206 781 204.7 781.5 203.3 782 201.8 782.5 200.2 783 198.5 783.5 196.7 784 194.8 784.5 192.8 785 190.8 785.5 188.6 786 186.2 786.5 183.8 787 181.3 787.5 178.6 788 175.8 788.5 172.9 789 169.8 789.5 166.6 790 163.3 790.5 159.9 791 156.3 791.5 152.7 792 149.1 792.5 145.5 793 141.9 793.5 138.4 794 135 794.5 131.8 795 128.7 795.5 125.9 796 123.2 796.5 120.8 797 118.6 797.5 116.7 798 115 798.5 113.6 799 112.4 799.5 111.5 800 110.8 800.5 110.3 801 110 801.5 109.9 802 110 802.5 110.3 803 110.7 803.5 111.4 804 112.3 804.5 113.6 805 115.1 805.5 117 806 119.3 806.5 121.8 807 124.7 807.5 127.7 808 131 808.5 134.3 809 137.6 809.5 141 810 144.3 810.5 147.4 811 150.1 811.5 152.5 812 154.3 812.5 155.4 813 155.7 813.5 155.1 814 153.6 814.5 151.2 815 148.3 815.5 145 816 141.5 816.5 138 817 134.7 817.5 131.6 818 128.9 818.5 126.7 819 125 819.5 124 820 123.6 820.5 124.1 821 125.3 821.5 127.2 822 129.5 822.5 132.2 823 135 823.5 137.8 824 140.5 824.5 142.8 825 144.8 825.5 146.2 826 146.8 826.5 146.6 827 145.8 827.5 144.6 828 143 828.5 141.4 829 140 829.5 138.9 830 138 830.5 137.4 831 137.1 831.5 137 832 137 832.5 137.1 833 137.3 833.5 137.6 834 138 834.5 138.6 835 139.2 835.5 140 836 140.9 836.5 141.9 837 142.8 837.5 143.6 838 144.2 838.5 144.5 839 144.5 839.5 144 840 143.2 840.5 142.2 841 141.1 841.5 140 842 139 842.5 138.2 843 137.6 843.5 137.2 844 137 844.5 136.9 845 137.1 845.5 137.3 846 137.8 846.5 138.3 847 139.1 847.5 139.9 848 141 848.5 142.2 849 143.4 849.5 144.6 850 145.6 850.5 146.3 851 146.5 851.5 146.2 852 145.3 852.5 143.8 853 141.9 853.5 139.7 854 137.4 854.5 135 855 132.7 855.5 130.7 856 128.9 856.5 127.5 857 126.5 857.5 126 858 126.1 858.5 126.9 859 128.2 859.5 130 860 132.3 860.5 135 861 138 861.5 141.3 862 144.7 862.5 148.1 863 151.2 863.5 154 864 156.3 864.5 157.8 865 158.5 865.5 158.1 866 156.7 866.5 154.3 867 151.2 867.5 147.5 868 143.5 868.5 139.2 869 135 869.5 130.9 870 127.1 870.5 123.5 871 120.1 871.5 117.1 872 114.4 872.5 112 873 110 873.5 108.3 874 107 874.5 106 875 105.4 875.5 105 876 104.9 876.5 105 877 105.4 877.5 106.1 878 107.1 878.5 108.4 879 109.9 879.5 111.8 880 114 880.5 116.5 881 119.3 881.5 122.4 882 125.6 882.5 129 883 132.5 883.5 136 884 139.6 884.5 143.1 885 146.6 885.5 150 886 153.4 886.5 156.7 887 159.9 887.5 163 888 166 888.5 168.9 889 171.7 889.5 174.4 890 177 890.5 179.5 891 181.9 891.5 184.2 892 186.4 892.5 188.5 893 190.5 893.5 192.4 894 194.3 894.5 196 895 197.6 895.5 199.1 896 200.6 896.5 201.9 897 203.2 897.5 204.3 898 205.4 898.5 206.4 899 207.3 899.5 208.1 900 208.9 900.5 209.6 901 210.3 901.5 210.9 902 211.5 902.5 212 903 212.5 903.5 213 904 213.5 904.5 214 905 214.4 905.5 214.9 906 215.3 906.5 215.7 907 216.2 907.5 216.6 908 217 908.5 217.3 909 217.7 909.5 218 910 218.3 910.5 218.6 911 218.9 911.5 219.1 912 219.4 912.5 219.6 913 219.8 913.5 220 914 220.2 914.5 220.3 915 220.5 915.5 220.6 916 220.8 916.5 220.9 917 221 917.5 221.1 918 221.2 918.5 221.3 919 221.4 919.5 221.5 920 221.6 920.5 221.7 921 221.7 921.5 221.8 922 221.8 922.5 221.9 923 221.9 923.5 222 924 222 924.5 222 925 222.1 925.5 222.1 926 222.1 926.5 222.1 927 222.2 927.5 222.2 928 222.2 928 223.5Z" fill="url(#gPump)"/>
<text x="643.5" y="251.6" font-size="33" fill="#231f20">&#969;<tspan font-size="20.5" dy="11">Stokes</tspan></text>
<text x="817" y="251.6" font-size="33" fill="#231f20">&#969;<tspan font-size="20.5" dy="11">Pump</tspan></text>
<text x="969" y="231" font-size="33" fill="#231f20">&#969;</text>
<text x="923.4" y="59.7" font-size="33.9" fill="#231f20">Detected</text>
<text x="923.4" y="99.9" font-size="33.9" fill="#231f20">band</text>
<line x1="890.9" y1="101.5" x2="910.9" y2="65.4" stroke="#231f20" stroke-width="2"/>
<rect x="736.8" y="155.9" width="4" height="4" fill="#231f20"/>
<rect x="744.9" y="155.9" width="4" height="4" fill="#231f20"/>
<rect x="753" y="155.9" width="4" height="4" fill="#231f20"/>
<polyline points="638,92 638,73.8 869,73.8 869,92" fill="none" stroke="#2e3192" stroke-width="2"/>
<polyline points="665.7,102.4 665.7,84.2 841.2,84.2 841.2,102.4" fill="none" stroke="#2e3192" stroke-width="2"/>
<polyline points="684,112.3 684,94.2 823.3,94.2 823.3,112.3" fill="none" stroke="#2e3192" stroke-width="2"/>
<text x="733" y="57.5" font-size="34.5" fill="#2e3192">&#937;<tspan font-size="20.5" dy="11.4">inter</tspan></text>
<line x1="553" y1="517.3" x2="958" y2="517.3" stroke="#231f20" stroke-width="2.4"/>
<polygon points="965.8,517.3 951.2,511.5 955.6,517.3 951.2,523.1" fill="#231f20"/>
<rect x="819.5" y="401.2" width="102.5" height="116.3" fill="#fbf3a6"/>
<path d="M572 518.6 572 517.3 572.5 517.3 573 517.3 573.5 517.2 574 517.2 574.5 517.2 575 517.2 575.5 517.1 576 517.1 576.5 517.1 577 517.1 577.5 517.1 578 517 578.5 517 579 517 579.5 517 580 516.9 580.5 516.9 581 516.9 581.5 516.9 582 516.8 582.5 516.8 583 516.8 583.5 516.8 584 516.7 584.5 516.7 585 516.7 585.5 516.6 586 516.6 586.5 516.5 587 516.5 587.5 516.4 588 516.4 588.5 516.3 589 516.1 589.5 516 590 515.9 590.5 515.7 591 515.5 591.5 515.3 592 515 592.5 514.7 593 514.4 593.5 514.1 594 513.7 594.5 513.2 595 512.8 595.5 512.3 596 511.8 596.5 511.3 597 510.8 597.5 510.2 598 509.7 598.5 509.1 599 508.6 599.5 508 600 507.5 600.5 507 601 506.4 601.5 505.8 602 505.2 602.5 504.6 603 503.8 603.5 503 604 502.1 604.5 501.1 605 500 605.5 498.7 606 497.3 606.5 495.7 607 494.1 607.5 492.3 608 490.5 608.5 488.7 609 486.9 609.5 485 610 483.1 610.5 481.2 611 479.1 611.5 477 612 474.8 612.5 472.4 613 469.9 613.5 467.3 614 464.6 614.5 462 615 459.3 615.5 456.6 616 454 616.5 451.4 617 448.8 617.5 446.2 618 443.4 618.5 440.6 619 437.7 619.5 434.7 620 431.5 620.5 428.4 621 425.3 621.5 422.3 622 419.4 622.5 416.8 623 414.4 623.5 412.2 624 410.2 624.5 408.4 625 406.8 625.5 405.3 626 404.1 626.5 403 627 402.1 627.5 401.4 628 400.8 628.5 400.4 629 400.2 629.5 400.1 630 400.1 630.5 400.3 631 400.7 631.5 401.2 632 402 632.5 402.9 633 404 633.5 405.3 634 406.9 634.5 408.7 635 410.8 635.5 413.2 636 415.9 636.5 418.9 637 422.2 637.5 425.6 638 429 638.5 432 639 434.4 639.5 436.1 640 436.7 640.5 436.4 641 435.2 641.5 433.4 642 431.2 642.5 428.8 643 426.5 643.5 424.4 644 422.7 644.5 421.4 645 420.5 645.5 419.9 646 419.7 646.5 420 647 420.7 647.5 421.6 648 422.8 648.5 424.2 649 425.6 649.5 427 650 428.3 650.5 429.4 651 430.3 651.5 431.1 652 431.6 652.5 432 653 432.2 653.5 432.2 654 432 654.5 431.6 655 431.1 655.5 430.4 656 429.7 656.5 428.9 657 428 657.5 427.1 658 426.3 658.5 425.4 659 424.6 659.5 423.9 660 423.3 660.5 422.8 661 422.5 661.5 422.5 662 422.6 662.5 423 663 423.7 663.5 424.7 664 425.9 664.5 427.1 665 428.5 665.5 429.8 666 431 666.5 432.1 667 432.9 667.5 433.4 668 433.5 668.5 433.1 669 432.2 669.5 431 670 429.5 670.5 427.8 671 425.9 671.5 424.1 672 422.4 672.5 420.9 673 419.6 673.5 418.7 674 418.3 674.5 418.5 675 419.3 675.5 420.6 676 422.4 676.5 424.4 677 426.7 677.5 429 678 431.3 678.5 433.4 679 435.2 679.5 436.6 680 437.5 680.5 437.7 681 437.2 681.5 435.7 682 433.5 682.5 430.7 683 427.4 683.5 423.9 684 420.4 684.5 417 685 413.9 685.5 411.4 686 409.2 686.5 407.5 687 406.2 687.5 405.2 688 404.5 688.5 404 689 403.8 689.5 403.7 690 403.8 690.5 404 691 404.2 691.5 404.6 692 405.1 692.5 405.7 693 406.4 693.5 407.2 694 408.1 694.5 409.2 695 410.3 695.5 411.6 696 413.1 696.5 414.6 697 416.3 697.5 418.1 698 420 698.5 422.1 699 424.2 699.5 426.5 700 429 700.5 431.5 701 434.1 701.5 436.8 702 439.5 702.5 442.2 703 444.9 703.5 447.7 704 450.4 704.5 453.1 705 455.7 705.5 458.4 706 461 706.5 463.6 707 466.1 707.5 468.6 708 470.9 708.5 473.2 709 475.4 709.5 477.4 710 479.3 710.5 481 711 482.6 711.5 484.1 712 485.6 712.5 486.9 713 488.2 713.5 489.4 714 490.6 714.5 491.7 715 492.9 715.5 493.9 716 495 716.5 496 717 496.9 717.5 497.8 718 498.7 718.5 499.6 719 500.4 719.5 501.2 720 502 720.5 502.7 721 503.4 721.5 504.1 722 504.7 722.5 505.3 723 505.9 723.5 506.4 724 507 724.5 507.5 725 507.9 725.5 508.4 726 508.8 726.5 509.2 727 509.5 727.5 509.9 728 510.2 728.5 510.5 729 510.8 729.5 511.1 730 511.3 730.5 511.5 731 511.8 731.5 512 732 512.2 732.5 512.3 733 512.5 733.5 512.7 734 512.9 734.5 513 735 513.2 735.5 513.3 736 513.5 736.5 513.6 737 513.7 737.5 513.9 738 514 738.5 514.1 739 514.3 739.5 514.4 740 514.5 740.5 514.6 741 514.7 741.5 514.8 742 515 742.5 515.1 743 515.2 743.5 515.3 744 515.4 744.5 515.5 745 515.5 745.5 515.6 746 515.7 746.5 515.8 747 515.9 747.5 516 748 516 748.5 516.1 749 516.2 749.5 516.3 750 516.3 750.5 516.4 751 516.5 751.5 516.5 752 516.6 752.5 516.7 753 516.7 753.5 516.8 754 516.8 754.5 516.9 755 517 755.5 517 756 517.1 756.5 517.1 757 517.2 757.5 517.2 758 517.3 758 518.6Z" fill="url(#gRed)"/>
<path d="M752 518.6 752 517.3 752.5 517.3 753 517.3 753.5 517.3 754 517.3 754.5 517.3 755 517.3 755.5 517.3 756 517.3 756.5 517.3 757 517.3 757.5 517.3 758 517.3 758.5 517.3 759 517.3 759.5 517.3 760 517.3 760.5 517.3 761 517.3 761.5 517.3 762 517.3 762.5 517.2 763 517.1 763.5 517.1 764 517 764.5 516.9 765 516.8 765.5 516.7 766 516.6 766.5 516.4 767 516.3 767.5 516.1 768 516 768.5 515.8 769 515.6 769.5 515.4 770 515.1 770.5 514.9 771 514.6 771.5 514.3 772 513.9 772.5 513.6 773 513.1 773.5 512.7 774 512.2 774.5 511.7 775 511.1 775.5 510.5 776 509.8 776.5 509.1 777 508.3 777.5 507.5 778 506.6 778.5 505.7 779 504.6 779.5 503.5 780 502.4 780.5 501.1 781 499.8 781.5 498.4 782 496.9 782.5 495.3 783 493.6 783.5 491.8 784 489.9 784.5 487.9 785 485.9 785.5 483.7 786 481.3 786.5 478.9 787 476.4 787.5 473.7 788 470.9 788.5 468 789 464.9 789.5 461.7 790 458.4 790.5 455 791 451.4 791.5 447.8 792 444.2 792.5 440.6 793 437 793.5 433.5 794 430.1 794.5 426.9 795 423.8 795.5 421 796 418.3 796.5 415.9 797 413.7 797.5 411.8 798 410.1 798.5 408.7 799 407.5 799.5 406.6 800 405.9 800.5 405.4 801 405.1 801.5 405 802 405.1 802.5 405.4 803 405.8 803.5 406.5 804 407.4 804.5 408.7 805 410.2 805.5 412.1 806 414.4 806.5 416.9 807 419.8 807.5 422.8 808 426.1 808.5 429.4 809 432.7 809.5 436.1 810 439.4 810.5 442.5 811 445.2 811.5 447.6 812 449.4 812.5 450.5 813 450.8 813.5 450.2 814 448.7 814.5 446.3 815 443.4 815.5 440.1 816 436.6 816.5 433.1 817 429.8 817.5 426.7 818 424 818.5 421.8 819 420.1 819.5 419.1 820 418.7 820.5 419.2 821 420.4 821.5 422.3 822 424.6 822.5 427.3 823 430.1 823.5 432.9 824 435.6 824.5 437.9 825 439.9 825.5 441.3 826 441.9 826.5 441.7 827 440.9 827.5 439.7 828 438.1 828.5 436.5 829 435.1 829.5 434 830 433.1 830.5 432.5 831 432.2 831.5 432.1 832 432.1 832.5 432.2 833 432.4 833.5 432.7 834 433.1 834.5 433.7 835 434.3 835.5 435.1 836 436 836.5 437 837 437.9 837.5 438.7 838 439.3 838.5 439.6 839 439.6 839.5 439.1 840 438.3 840.5 437.3 841 436.2 841.5 435.1 842 434.1 842.5 433.3 843 432.7 843.5 432.3 844 432.1 844.5 432 845 432.2 845.5 432.4 846 432.9 846.5 433.4 847 434.2 847.5 435 848 436.1 848.5 437.3 849 438.5 849.5 439.7 850 440.7 850.5 441.4 851 441.6 851.5 441.3 852 440.4 852.5 438.9 853 437 853.5 434.8 854 432.5 854.5 430.1 855 427.8 855.5 425.8 856 424 856.5 422.6 857 421.6 857.5 421.1 858 421.2 858.5 422 859 423.3 859.5 425.1 860 427.4 860.5 430.1 861 433.1 861.5 436.4 862 439.8 862.5 443.2 863 446.3 863.5 449.1 864 451.4 864.5 452.9 865 453.6 865.5 453.2 866 451.8 866.5 449.4 867 446.3 867.5 442.6 868 438.6 868.5 434.3 869 430.1 869.5 426 870 422.2 870.5 418.6 871 415.2 871.5 412.2 872 409.5 872.5 407.1 873 405.1 873.5 403.4 874 402.1 874.5 401.1 875 400.5 875.5 400.1 876 400 876.5 400.1 877 400.5 877.5 401.2 878 402.2 878.5 403.5 879 405 879.5 406.9 880 409.1 880.5 411.6 881 414.4 881.5 417.5 882 420.7 882.5 424.1 883 427.6 883.5 431.1 884 434.7 884.5 438.2 885 441.7 885.5 445.1 886 448.5 886.5 451.8 887 455 887.5 458.1 888 461.1 888.5 464 889 466.8 889.5 469.5 890 472.1 890.5 474.6 891 477 891.5 479.3 892 481.5 892.5 483.6 893 485.6 893.5 487.5 894 489.4 894.5 491.1 895 492.7 895.5 494.2 896 495.7 896.5 497 897 498.3 897.5 499.4 898 500.5 898.5 501.5 899 502.4 899.5 503.2 900 504 900.5 504.7 901 505.4 901.5 506 902 506.6 902.5 507.1 903 507.6 903.5 508.1 904 508.6 904.5 509.1 905 509.5 905.5 510 906 510.4 906.5 510.8 907 511.3 907.5 511.7 908 512.1 908.5 512.4 909 512.8 909.5 513.1 910 513.4 910.5 513.7 911 514 911.5 514.2 912 514.5 912.5 514.7 913 514.9 913.5 515.1 914 515.3 914.5 515.4 915 515.6 915.5 515.7 916 515.9 916.5 516 917 516.1 917.5 516.2 918 516.3 918.5 516.4 919 516.5 919.5 516.6 920 516.7 920.5 516.8 921 516.8 921.5 516.9 922 516.9 922.5 517 923 517 923.5 517.1 924 517.1 924.5 517.1 925 517.2 925.5 517.2 926 517.2 926.5 517.2 927 517.3 927.5 517.3 928 517.3 928 518.6Z" fill="url(#gPump2)"/>
<line x1="821.1" y1="401.2" x2="821.1" y2="517.3" stroke="#231f20" stroke-width="4.4" stroke-dasharray="8.8 7.8" stroke-dashoffset="9.5"/>
<text x="643.5" y="546.7" font-size="33" fill="#231f20">&#969;<tspan font-size="20.5" dy="11">Stokes</tspan></text>
<text x="817" y="546.7" font-size="33" fill="#231f20">&#969;<tspan font-size="20.5" dy="11">Pump</tspan></text>
<text x="969" y="526.6" font-size="33" fill="#231f20">&#969;</text>
<text x="923.4" y="351.6" font-size="33.9" fill="#231f20">Detected</text>
<text x="923.4" y="392.1" font-size="33.9" fill="#231f20">band</text>
<line x1="890.9" y1="399.6" x2="911" y2="363.4" stroke="#231f20" stroke-width="2"/>
<polyline points="629.7,389 629.7,374.8 693.8,374.8 693.8,389" fill="none" stroke="#e8632b" stroke-width="2"/>
<polyline points="648.1,399.2 648.1,384.7 677.9,384.7 677.9,399.2" fill="none" stroke="#e8632b" stroke-width="2"/>
<polyline points="808.7,389 808.7,374.8 872.9,374.8 872.9,389" fill="none" stroke="#e8632b" stroke-width="2"/>
<polyline points="817.1,399.2 817.1,384.7 846.2,384.7 846.2,399.2" fill="none" stroke="#e8632b" stroke-width="2"/>
<text x="643.3" y="353.5" font-size="34.5" fill="#e8632b">&#937;<tspan font-size="20.5" dy="11">intra</tspan></text>
<text x="822.1" y="353.5" font-size="34.5" fill="#e8632b">&#937;<tspan font-size="20.5" dy="11">intra</tspan></text>
<text x="1091.5" y="36" font-size="50" font-weight="bold" fill="#231f20">b</text>
<line x1="1186.4" y1="22.8" x2="1186.4" y2="503.5" stroke="#aaaaaa" stroke-width="1.1" stroke-dasharray="6 2.4"/>
<line x1="1267.6" y1="22.8" x2="1267.6" y2="503.5" stroke="#aaaaaa" stroke-width="1.1" stroke-dasharray="6 2.4"/>
<line x1="1300.1" y1="22.8" x2="1300.1" y2="503.5" stroke="#aaaaaa" stroke-width="1.1" stroke-dasharray="6 2.4"/>
<line x1="1336.4" y1="22.8" x2="1336.4" y2="503.5" stroke="#aaaaaa" stroke-width="1.1" stroke-dasharray="6 2.4"/>
<line x1="1365.6" y1="22.8" x2="1365.6" y2="503.5" stroke="#aaaaaa" stroke-width="1.1" stroke-dasharray="6 2.4"/>
<line x1="1419.6" y1="22.8" x2="1419.6" y2="503.5" stroke="#aaaaaa" stroke-width="1.1" stroke-dasharray="6 2.4"/>
<path d="M1157.6 108.7 1158 110.7 1158.4 112.5 1158.8 114.2 1159.2 115.7 1159.6 117.2 1160 118.5 1160.4 119.7 1160.8 120.9 1161.2 122 1161.6 123 1162 123.9 1162.4 124.7 1162.8 125.5 1163.2 126.3 1163.6 126.9 1164 127.6 1164.4 128.1 1164.8 128.7 1165.2 129.2 1165.6 129.6 1166 130 1166.4 130.4 1166.8 130.8 1167.2 131.1 1167.6 131.4 1168 131.6 1168.4 131.9 1168.8 132.1 1169.2 132.3 1169.6 132.4 1170 132.6 1170.4 132.7 1170.8 132.8 1171.2 132.9 1171.6 132.9 1172 133 1172.4 133 1172.8 133 1173.2 133 1173.6 133 1174 132.9 1174.4 132.8 1174.8 132.7 1175.2 132.6 1175.6 132.5 1176 132.3 1176.4 132.2 1176.8 132 1177.2 131.7 1177.6 131.5 1178 131.2 1178.4 130.8 1178.8 130.5 1179.2 130.1 1179.6 129.7 1180 129.2 1180.4 128.8 1180.8 128.2 1181.2 127.7 1181.6 127.2 1182 126.6 1182.4 126 1182.8 125.5 1183.2 125 1183.6 124.6 1184 124.2 1184.4 123.9 1184.8 123.7 1185.2 123.6 1185.3 123.6 1185.6 123.8 1186 124.6 1186.4 125.8 1186.8 127.2 1187.2 128.6 1187.6 129.9 1188 131 1188.4 131.9 1188.8 132.6 1189.2 133.3 1189.6 133.8 1190 134.2 1190.4 134.6 1190.8 134.9 1191.2 135.2 1191.6 135.4 1192 135.6 1192.4 135.8 1192.8 135.9 1193.2 136 1193.6 136.1 1194 136.2 1194.4 136.3 1194.8 136.4 1195.2 136.5 1195.6 136.5 1196 136.6 1196.4 136.6 1196.8 136.7 1197.2 136.7 1197.6 136.7 1198 136.8 1198.4 136.8 1198.8 136.8 1199.2 136.9 1199.6 136.9 1200 136.9 1200.4 136.9 1200.8 136.9 1201.2 137 1201.6 137 1202 137 1202.4 137 1202.8 137 1203.2 137 1203.6 137 1204 137.1 1204.4 137.1 1204.8 137.1 1205.2 137.1 1205.6 137.1 1206 137.1 1206.4 137.1 1206.8 137.1 1207.2 137.1 1207.6 137.1 1208 137.1 1208.4 137.1 1208.8 137.1 1209.2 137.1 1209.6 137.1 1210 137.2 1210.4 137.2 1210.8 137.2 1211.2 137.2 1211.6 137.2 1212 137.2 1212.4 137.2 1212.8 137.2 1213.2 137.2 1213.6 137.2 1214 137.2 1214.4 137.2 1214.8 137.2 1215.2 137.2 1215.6 137.2 1216 137.2 1216.4 137.2 1216.8 137.2 1217.2 137.2 1217.6 137.2 1218 137.2 1218.4 137.2 1218.8 137.2 1219.2 137.2 1219.6 137.2 1220 137.2 1220.4 137.2 1220.8 137.2 1221.2 137.2 1221.6 137.2 1222 137.2 1222.4 137.2 1222.8 137.2 1223.2 137.2 1223.6 137.2 1224 137.2 1224.4 137.2 1224.8 137.2 1225.2 137.2 1225.6 137.2 1226 137.2 1226.4 137.2 1226.8 137.2 1227.2 137.2 1227.6 137.2 1228 137.2 1228.4 137.2 1228.8 137.2 1229.2 137.2 1229.6 137.2 1230 137.2 1230.4 137.2 1230.8 137.2 1231.2 137.2 1231.6 137.2 1232 137.3 1232.4 137.3 1232.8 137.3 1233.2 137.3 1233.6 137.3 1234 137.3 1234.4 137.3 1234.8 137.3 1235.2 137.3 1235.6 137.3 1236 137.3 1236.4 137.3 1236.8 137.3 1237.2 137.3 1237.6 137.3 1238 137.3 1238.4 137.3 1238.8 137.3 1239.2 137.3 1239.6 137.3 1240 137.3 1240.4 137.3 1240.8 137.3 1241.2 137.3 1241.6 137.3 1242 137.3 1242.4 137.3 1242.8 137.3 1243.2 137.3 1243.6 137.3 1244 137.3 1244.4 137.3 1244.8 137.3 1245.2 137.3 1245.6 137.3 1246 137.3 1246.4 137.3 1246.8 137.3 1247.2 137.3 1247.6 137.3 1248 137.3 1248.4 137.3 1248.8 137.3 1249.2 137.3 1249.6 137.3 1250 137.3 1250.4 137.3 1250.8 137.3 1251.2 137.3 1251.6 137.3 1252 137.3 1252.4 137.3 1252.8 137.3 1253.2 137.3 1253.6 137.3 1254 137.2 1254.4 137.2 1254.8 137.2 1255.2 137.2 1255.6 137.2 1256 137.2 1256.4 137.2 1256.8 137.2 1257.2 137.2 1257.6 137.2 1258 137.2 1258.4 137.2 1258.8 137.2 1259.2 137.2 1259.6 137.2 1260 137.2 1260.4 137.2 1260.8 137.2 1261.2 137.2 1261.6 137.2 1262 137.2 1262.4 137.2 1262.8 137.1 1263.2 137.1 1263.6 137.1 1264 137 1264.4 137 1264.8 136.9 1265.2 136.8 1265.6 136.7 1266 136.6 1266.4 136.3 1266.8 136.1 1267.2 135.9 1267.6 135.8 1267.6 135.8 1268 135.9 1268.4 136.1 1268.8 136.3 1269.2 136.6 1269.6 136.7 1270 136.8 1270.4 136.9 1270.8 137 1271.2 137 1271.6 137.1 1272 137.1 1272.4 137.1 1272.8 137.1 1273.2 137.2 1273.6 137.2 1274 137.2 1274.4 137.2 1274.8 137.2 1275.2 137.2 1275.6 137.2 1276 137.2 1276.4 137.2 1276.8 137.2 1277.2 137.2 1277.6 137.2 1278 137.2 1278.4 137.2 1278.8 137.2 1279.2 137.2 1279.6 137.2 1280 137.2 1280.4 137.2 1280.8 137.2 1281.2 137.2 1281.6 137.2 1282 137.2 1282.4 137.2 1282.8 137.2 1283.2 137.2 1283.6 137.2 1284 137.2 1284.4 137.2 1284.8 137.2 1285.2 137.2 1285.6 137.2 1286 137.2 1286.4 137.2 1286.8 137.2 1287.2 137.2 1287.6 137.2 1288 137.1 1288.4 137.1 1288.8 137.1 1289.2 137.1 1289.6 137.1 1290 137.1 1290.4 137.1 1290.8 137.1 1291.2 137 1291.6 137 1292 137 1292.4 137 1292.8 136.9 1293.2 136.9 1293.6 136.8 1294 136.8 1294.4 136.7 1294.8 136.6 1295.2 136.5 1295.6 136.4 1296 136.2 1296.4 136 1296.8 135.8 1297.2 135.4 1297.6 134.8 1298 134.1 1298.4 133 1298.8 131.3 1299.2 129 1299.6 126.2 1300 124.4 1300.1 124.3 1300.4 125 1300.8 127.6 1301.2 130.2 1301.6 132.2 1302 133.6 1302.4 134.5 1302.8 135.1 1303.2 135.6 1303.6 135.9 1304 136.1 1304.4 136.3 1304.8 136.5 1305.2 136.6 1305.6 136.7 1306 136.8 1306.4 136.8 1306.8 136.9 1307.2 136.9 1307.6 136.9 1308 137 1308.4 137 1308.8 137 1309.2 137 1309.6 137.1 1310 137.1 1310.4 137.1 1310.8 137.1 1311.2 137.1 1311.6 137.1 1312 137.1 1312.4 137.1 1312.8 137.1 1313.2 137.2 1313.6 137.2 1314 137.2 1314.4 137.2 1314.8 137.2 1315.2 137.2 1315.6 137.2 1316 137.2 1316.4 137.2 1316.8 137.2 1317.2 137.2 1317.6 137.2 1318 137.2 1318.4 137.2 1318.8 137.2 1319.2 137.2 1319.6 137.2 1320 137.2 1320.4 137.2 1320.8 137.2 1321.2 137.2 1321.6 137.2 1322 137.2 1322.4 137.2 1322.8 137.2 1323.2 137.2 1323.6 137.2 1324 137.2 1324.4 137.2 1324.8 137.2 1325.2 137.2 1325.6 137.2 1326 137.1 1326.4 137.1 1326.8 137.1 1327.2 137.1 1327.6 137.1 1328 137.1 1328.4 137.1 1328.8 137.1 1329.2 137 1329.6 137 1330 137 1330.4 136.9 1330.8 136.9 1331.2 136.8 1331.6 136.7 1332 136.6 1332.4 136.5 1332.8 136.3 1333.2 136.1 1333.6 135.7 1334 135.2 1334.4 134.5 1334.8 133.5 1335.2 132.3 1335.6 131.4 1335.8 131.3 1336 131.4 1336.4 132.3 1336.8 133.5 1337.2 134.5 1337.6 135.2 1338 135.7 1338.4 136.1 1338.8 136.3 1339.2 136.5 1339.6 136.6 1340 136.7 1340.4 136.8 1340.8 136.9 1341.2 136.9 1341.6 137 1342 137 1342.4 137 1342.8 137.1 1343.2 137.1 1343.6 137.1 1344 137.1 1344.4 137.1 1344.8 137.1 1345.2 137.1 1345.6 137.1 1346 137.2 1346.4 137.2 1346.8 137.2 1347.2 137.2 1347.6 137.2 1348 137.2 1348.4 137.2 1348.8 137.2 1349.2 137.2 1349.6 137.2 1350 137.2 1350.4 137.2 1350.8 137.2 1351.2 137.2 1351.6 137.2 1352 137.2 1352.4 137.2 1352.8 137.2 1353.2 137.2 1353.6 137.2 1354 137.2 1354.4 137.2 1354.8 137.2 1355.2 137.2 1355.6 137.2 1356 137.1 1356.4 137.1 1356.8 137.1 1357.2 137.1 1357.6 137.1 1358 137.1 1358.4 137.1 1358.8 137 1359.2 137 1359.6 137 1360 137 1360.4 136.9 1360.8 136.9 1361.2 136.8 1361.6 136.7 1362 136.6 1362.4 136.4 1362.8 136.2 1363.2 135.9 1363.6 135.5 1364 134.9 1364.4 134 1364.8 132.9 1365.2 131.8 1365.6 131.3 1365.6 131.3 1366 131.8 1366.4 132.9 1366.8 134 1367.2 134.9 1367.6 135.5 1368 135.9 1368.4 136.2 1368.8 136.4 1369.2 136.6 1369.6 136.7 1370 136.8 1370.4 136.9 1370.8 136.9 1371.2 137 1371.6 137 1372 137 1372.4 137.1 1372.8 137.1 1373.2 137.1 1373.6 137.1 1374 137.1 1374.4 137.1 1374.8 137.1 1375.2 137.2 1375.6 137.2 1376 137.2 1376.4 137.2 1376.8 137.2 1377.2 137.2 1377.6 137.2 1378 137.2 1378.4 137.2 1378.8 137.2 1379.2 137.2 1379.6 137.2 1380 137.2 1380.4 137.2 1380.8 137.2 1381.2 137.2 1381.6 137.2 1382 137.2 1382.4 137.2 1382.8 137.2 1383.2 137.2 1383.6 137.2 1384 137.2 1384.4 137.2 1384.8 137.2 1385.2 137.2 1385.6 137.2 1386 137.2 1386.4 137.2 1386.8 137.2 1387.2 137.2 1387.6 137.2 1388 137.2 1388.4 137.2 1388.8 137.2 1389.2 137.2 1389.6 137.2 1390 137.2 1390.4 137.2 1390.8 137.2 1391.2 137.2 1391.6 137.2 1392 137.2 1392.4 137.2 1392.8 137.2 1393.2 137.2 1393.6 137.2 1394 137.2 1394.4 137.2 1394.8 137.2 1395.2 137.2 1395.6 137.2 1396 137.2 1396.4 137.2 1396.8 137.2 1397.2 137.2 1397.6 137.2 1398 137.2 1398.4 137.2 1398.8 137.2 1399.2 137.2 1399.6 137.2 1400 137.2 1400.4 137.2 1400.8 137.2 1401.2 137.2 1401.6 137.2 1402 137.2 1402.4 137.2 1402.8 137.2 1403.2 137.2 1403.6 137.2 1404 137.2 1404.4 137.1 1404.8 137.1 1405.2 137.1 1405.6 137.1 1406 137.1 1406.4 137.1 1406.8 137.1 1407.2 137.1 1407.6 137 1408 137 1408.4 137 1408.8 137 1409.2 136.9 1409.6 136.9 1410 136.9 1410.4 136.8 1410.8 136.7 1411.2 136.7 1411.6 136.6 1412 136.5 1412.4 136.3 1412.8 136.1 1413.2 135.9 1413.6 135.5 1414 135 1414.4 134.3 1414.8 133.3 1415.2 131.9 1415.6 130.4 1416 129.5 1416.1 129.4 1416.4 129.8 1416.8 131 1417.2 132.4 1417.6 133.4 1418 134.2 1418.4 134.6 1418.8 134.8 1419.2 134.8 1419.6 134.7 1420 134.3 1420.4 133.7 1420.8 132.7 1421.2 131.4 1421.6 129.9 1422 129 1422.1 128.9 1422.4 129.4 1422.8 130.8 1423.2 132.4 1423.6 133.6 1424 134.5 1424.4 135.2 1424.8 135.6 1425.2 135.9 1425.6 136.2 1426 136.4 1426.4 136.5 1426.8 136.6 1427.2 136.7 1427.6 136.8 1428 136.8 1428.4 136.9 1428.8 136.9 1429.2 136.9 1429.6 137 1430 137 1430.4 137 1430.8 137 1431.2 137.1 1431.6 137.1 1432 137.1 1432.4 137.1 1432.8 137.1 1433.2 137.1 1433.6 137.1 1434 137.1 1434.4 137.2 1434.8 137.2 1435.2 137.2 1435.6 137.2 1436 137.2 1436.4 137.2 1436.8 137.2 1437.2 137.2 1437.6 137.2 1438 137.2 1438.4 137.2 1438.8 137.2 1439.2 137.2 1439.6 137.2 1440 137.2 1440.4 137.2 1440.8 137.2 1441.2 137.2 1441.6 137.2 1442 137.2 1442.4 137.2 1442.8 137.2 1443.2 137.2 1443.6 137.2 1444 137.2 1444.4 137.2 1444.8 137.2 1445.2 137.2 1445.6 137.2 1446 137.2 1446.4 137.2 1446.8 137.2 1447.2 137.2 1447.6 137.2 1448 137.2 1448.4 137.2 1448.8 137.2 1449.2 137.2 1449.6 137.2 1450 137.2 1450.4 137.2 1450.8 137.2 1451.2 137.2 1451.6 137.2 1452 137.2 1452.4 137.2 1452.8 137.2 1453.2 137.2 1453.6 137.2 1454 137.2 1454.4 137.2 1454.8 137.2 1455.2 137.2 1455.6 137.2 1456 137.2 1456.4 137.2 1456.8 137.2 1457.2 137.2 1457.6 137.2 1458 137.2 1458.4 137.2 1458.8 137.2 1459.2 137.2 1459.6 137.2 1460 137.2 1460.4 137.2 1460.8 137.2 1461.2 137.2 1461.6 137.2 1462 137.2 1462.4 137.2 1462.8 137.2 1463.2 137.2 1463.6 137.2 1464 137.2 1464.4 137.2 1464.8 137.2 1465.2 137.2 1465.6 137.2 1466 137.2 1466.4 137.2 1466.8 137.2 1467.2 137.2 1467.6 137.2 1468 137.2 1468.4 137.2 1468.8 137.2 1469.2 137.2 1469.6 137.2 1470 137.2 1470.4 137.2 1470.8 137.2 1471.2 137.2 1471.6 137.2 1472 137.2 1472.4 137.2 1472.8 137.2 1473.2 137.2 1473.6 137.2 1474 137.2 1474.4 137.2 1474.8 137.2 1475.2 137.2 1475.6 137.2 1476 137.2 1476.4 137.2 1476.8 137.2 1477.2 137.2 1477.6 137.2 1478 137.2 1478.4 137.2 1478.8 137.2 1479.2 137.2 1479.6 137.2 1480 137.2 1480.4 137.2 1480.8 137.2 1481.2 137.2 1481.6 137.2 1482 137.2 1482.4 137.2 1482.8 137.2 1483.2 137.2 1483.6 137.2 1484 137.2 1484.4 137.2 1484.8 137.2 1485.2 137.2 1485.6 137.2 1486 137.2 1486.4 137.2 1486.8 137.2 1487.2 137.2 1487.6 137.2 1488 137.2 1488.4 137.2 1488.8 137.2 1489.2 137.2 1489.6 137.2 1490 137.2 1490.4 137.2 1490.8 137.1 1491.2 137.1 1491.6 137.1 1492 137.1 1492.4 137.1 1492.8 137.1 1493.2 137.1 1493.6 137.1 1494 137.1 1494.4 137.1 1494.8 137.1 1495.2 137.1 1495.6 137.1 1496 137.1 1496.4 137.1 1496.8 137 1497.2 137 1497.6 137 1498 137 1498.4 137 1498.8 137 1499.2 137 1499.6 137 1500 136.9 1500.4 136.9 1500.8 136.9 1501.2 136.9 1501.6 136.8 1502 136.8 1502.4 136.8 1502.8 136.8 1503.2 136.7 1503.6 136.7 1504 136.6 1504.4 136.6 1504.8 136.5 1505.2 136.5 1505.6 136.4 1506 136.3 1506.4 136.2 1506.8 136.1 1507.2 136 1507.6 135.8 1508 135.7 1508.4 135.4 1508.8 135.2 1509.2 134.9 1509.6 134.5 1510 134 1510.4 133.4 1510.8 132.6 1511.2 131.5 1511.6 130 1512 127.9 1512.4 124.7 1512.8 119.8 1513.2 111.8 1513.6 98.3 1514 77 1514.4 54.3 1514.6 50.2 1514.8 54.3 1515.2 76.9 1515.6 98.2 1516 111.7 1516.4 119.7 1516.8 124.7 1517.2 127.8 1517.6 129.9 1518 131.4 1518.4 132.4 1518.8 133.2 1519.2 133.8 1519.6 134.2 1520 134.5 1520.4 134.8 1520.8 135 1521.2 135.1 1521.6 135.1 1522 135.1 1522.4 135 1522.8 134.8 1523.2 134.4 1523.6 133.8 1524 132.9 1524.4 131.3 1524.8 129.3 1525.2 127.5 1525.4 127.2 1525.6 127.5 1526 129.4 1526.4 131.6 1526.8 133.2 1527.2 134.2 1527.6 135 1528 135.4 1528.4 135.8 1528.8 136 1529.2 136.2 1529.6 136.3 1530 136.5 1530.4 136.5 1530.8 136.6 1531.2 136.7 1531.6 136.7 1532 136.8 1532.4 136.8 1532.8 136.8 1533.2 136.9 1533.6 136.9 1534 136.9 1534.4 136.9 1534.8 137 1535.2 137 1535.6 137 1536 137 1536.4 137 1536.8 137 1537.2 137 1537.6 137 1538 137 1538.4 137 1538.8 137.1 1539.2 137.1 1539.6 137.1 1540 137.1 1540.4 137.1 1540.8 137.1 1541.2 137.1 1541.6 137.1 1542 137.1 1542.4 137.1 1542.8 137.1 1543.2 137.1 1543.6 137.1 1544 137.1 1544.4 137.1 1544.8 137.1 1545.2 137.1 1545.6 137 1546 137 1546.4 137 1546.8 137 1547.2 137 1547.6 137 1548 136.9 1548.4 136.9 1548.8 136.8 1549.2 136.8 1549.6 136.7 1550 136.6 1550.4 136.5 1550.8 136.3 1551.2 136.2 1551.6 136 1552 135.8 1552.4 135.7 1552.6 135.7 1552.8 135.7 1553.2 135.8 1553.6 136 1554 136.2 1554.4 136.3 1554.8 136.5 1555.2 136.6 1555.6 136.7 1556 136.8 1556.4 136.9 1556.8 136.9 1557.2 136.9 1557.6 137 1558 137 1558.4 137 1558.8 137 1559.2 137 1559.6 137.1 1560 137.1 1560.4 137.1 1560.8 137.1 1561.2 137.1 1561.6 137.1 1562 137.1 1562.4 137.1 1562.8 137.1 1563.2 137.1 1563.6 137.1 1564 137.1 1564.4 137.1 1564.8 137.1 1565.2 137.1 1565.6 137.1 1566 137.1 1566.4 137.1 1566.8 137.1 1567.2 137.1 1567.6 137.1 1568 137 1568.4 137 1568.8 137 1569.2 137 1569.6 137 1570 137 1570.4 137 1570.8 137 1571.2 137 1571.6 136.9 1572 136.9 1572.4 136.9 1572.8 136.9 1573.2 136.8 1573.6 136.8 1574 136.8 1574.4 136.7 1574.8 136.6 1575.2 136.6 1575.6 136.5 1576 136.4 1576.4 136.3 1576.8 136.2 1577.2 136 1577.6 135.8 1578 135.6 1578.4 135.3 1578.8 134.9 1579.2 134.4 1579.6 134 1580 133.5 1580.4 133.2 1580.5 133.2 1580.8 133.1 1581.2 133.1 1581.6 133.2 1582 133.3 1582.4 133.1 1582.8 132.7 1583.2 131.9 1583.6 130.6 1584 128.6 1584.4 125.8 1584.8 122.8 1585.2 121.3 1585.2 121.3 1585.6 122.8 1586 125.9 1586.4 128.7 1586.8 130.7 1587.2 132 1587.6 132.8 1588 133.3 1588.4 133.5 1588.8 133.4 1589.2 133.1 1589.6 132.5 1590 131.4 1590.4 129.8 1590.8 127.3 1591.2 123.9 1591.6 120.7 1591.9 119.7 1592 119.9 1592.4 122.3 1592.8 126 1593.2 129.1 1593.6 131.3 1594 132.8 1594.4 133.8 1594.8 134.5 1595.2 135 1595.6 135.4 1596 135.7 1596.4 135.9 1596.8 136.1 1597.2 136.3 1597.6 136.4 1598 136.5 1598.4 136.6 1598.8 136.6 1599.2 136.7 1599.6 136.7 1600 136.8 1600.4 136.8 1600.8 136.9 1601.2 136.9 1601.6 136.9 1602 136.9 1602.4 137 1602.8 137 1603.2 137 1603.6 137 1604 137 1604.4 137 1604.8 137.1 1605.2 137.1 1605.6 137.1 1606 137.1 1606.4 137.1 1606.8 137.1 1607.2 137.1 1607.6 137.1 1608 137.1 1608.4 137.1 1608.8 137.1 1609.2 137.1 1609.6 137.2 1610 137.2 1610.4 137.2 1610.8 137.2 1611.2 137.2 1611.6 137.2 1612 137.2 1612.4 137.2 1612.8 137.2 1613.2 137.2 1613.6 137.2 1614 137.2 1614.4 137.2 1614.8 137.2 1615.2 137.2 1615.6 137.2 1616 137.2 1616.4 137.2 1616.8 137.2 1617.2 137.2 1617.6 137.2 1618 137.2 1618.4 137.2 1618.8 137.2 1619.2 137.2 1619.6 137.2 1620 137.2 1620.4 137.2 1620.8 137.2 1621.2 137.2 1621.6 137.2 1622 137.2 1622.4 137.2 1622.8 137.2 1623.2 137.2 1623.6 137.2 1624 137.2 1624.4 137.2 1624.8 137.2 1625.2 137.2 1625.6 137.2 1626 137.2 1626.4 137.2 1626.8 137.2 1627.2 137.2 1627.6 137.2 1628 137.2 1628.4 137.2 1628.8 137.2 1629.2 137.2 1629.6 137.3 1630 137.3 1630.4 137.3 1630.8 137.3 1631.2 137.3 1631.6 137.3 1632 137.3 1632.4 137.3 1632.8 137.3 1633.2 137.3 1633.6 137.3 1634 137.3 1634.4 137.3 1634.8 137.3 1635.2 137.3 1635.6 137.3 1636 137.3 1636.4 137.3 1636.8 137.3 1637.2 137.3 1637.6 137.3 1638 137.3 1638.4 137.3 1638.8 137.3 1639.2 137.3 1639.6 137.3 1640 137.3 1640.4 137.3 1640.8 137.3 1641.2 137.3 1641.6 137.3 1642 137.3 1642.4 137.3 1642.8 137.3 1643.2 137.3 1643.6 137.3 1644 137.3 1644.4 137.3 1644.8 137.3 1645.2 137.3 1645.6 137.3 1646 137.3 1646.4 137.3 1646.8 137.3 1647.2 137.3 1647.6 137.3 1648 137.3 1648.4 137.3 1648.8 137.3 1649.2 137.3 1649.6 137.3 1650 137.3 1650.4 137.3 1650.8 137.3 1651.2 137.3 1651.6 137.3 1652 137.3 1652.4 137.3 1652.8 137.3 1653.2 137.3 1653.6 137.3 1654 137.3 1654.4 137.3 1654.8 137.3 1655.2 137.3 1655.6 137.3 1656 137.3 1656.4 137.3 1656.8 137.3 1657.2 137.3 1657.6 137.3 1658 137.3 1658.4 137.3 1658.8 137.3 1659.2 137.3 1659.6 137.3 1660 137.3 1660.4 137.3 1660.8 137.3 1661.2 137.3 1661.6 137.3 1662 137.3 1662.4 137.3 1662.8 137.3 1663.2 137.3 1663.6 137.2 1664 137.2 1664.4 137.2 1664.8 137.2 1665.2 137.2 1665.6 137.2 1666 137.2 1666.4 137.2 1666.8 137.2 1667.2 137.2 1667.6 137.2 1668 137.2 1668.4 137.2 1668.8 137.2 1669.2 137.2 1669.6 137.2 1670 137.2 1670.4 137.2 1670.8 137.2 1671.2 137.2 1671.6 137.2 1672 137.2 1672.4 137.2 1672.8 137.2 1673.2 137.1 1673.6 137.1 1674 137.1 1674.4 137.1 1674.8 137.1 1675.2 137.1 1675.6 137 1676 137 1676.4 136.9 1676.8 136.9 1677.2 136.8 1677.6 136.8 1678 136.7 1678.4 136.7 1678.8 136.6 1679.2 136.5 1679.6 136.5 1680 136.5 1680 136.5 1680.4 136.5 1680.8 136.5 1681.2 136.6 1681.6 136.7 1682 136.7 1682.4 136.8 1682.8 136.8 1683.2 136.9 1683.6 136.9 1684 137 1684.4 137 1684.8 137.1 1685.2 137.1 1685.6 137.1 1686 137.1 1686.4 137.1 1686.8 137.1 1687.2 137.2 1687.6 137.2 1688 137.2 1688.4 137.2 1688.8 137.2 1689.2 137.2 1689.6 137.2 1690 137.2 1690.4 137.2 1690.8 137.2 1691.2 137.2 1691.6 137.2 1692 137.2 1692.4 137.2 1692.8 137.2 1693.2 137.2 1693.6 137.2 1694 137.2 1694.4 137.2 1694.8 137.2 1695.2 137.2 1695.6 137.2 1696 137.2 1696.4 137.2 1696.8 137.2 1697.2 137.2 1697.6 137.2 1698 137.2 1698.4 137.2 1698.8 137.3 1699.2 137.3 1699.6 137.3 1700 137.3 1700.4 137.3 1700.8 137.3 1701.2 137.3 1701.6 137.3 1702 137.3 1702.4 137.3 1702.8 137.3 1703.2 137.3 1703.6 137.3 1704 137.3 1704.4 137.3 1704.8 137.3 1705.2 137.3 1705.6 137.3 1706 137.3 1706.4 137.3 1706.8 137.3 1707.2 137.3 1707.6 137.3 1708 137.3 1708.4 137.3 1708.8 137.3 1709.2 137.3 1709.6 137.3 1710 137.3 1710.4 137.3 1710.8 137.3 1711.2 137.3 1711.6 137.3 1712 137.2 1712.4 137.2 1712.8 137.2 1713.2 137.2 1713.6 137.2 1714 137.2 1714.4 137.2 1714.8 137.2 1715.2 137.2 1715.6 137.2 1716 137.2 1716.4 137.2 1716.8 137.2 1717.2 137.2 1717.6 137.2 1718 137.2 1718.4 137.2 1718.8 137.2 1719.2 137.2 1719.6 137.2 1720 137.2 1720.4 137.2 1720.8 137.2 1721.2 137.2 1721.6 137.2 1722 137.2 1722.4 137.2 1722.8 137.2 1723.2 137.2 1723.6 137.2 1724 137.2 1724.4 137.2 1724.8 137.2 1725.2 137.2 1725.6 137.2 1726 137.2 1726.4 137.2 1726.8 137.2 1727.2 137.2 1727.6 137.2 1728 137.2 1728.4 137.2 1728.8 137.2 1729.2 137.2 1729.6 137.2 1730 137.2 1730.4 137.2 1730.8 137.2 1731.2 137.2 1731.6 137.2 1732 137.2 1732.4 137.2 1732.8 137.2 1733.2 137.1 1733.6 137.1 1734 137.1 1734.4 137.1 1734.8 137.1 1735.2 137.1 1735.6 137.1 1736 137.1 1736.4 137.1 1736.8 137.1 1737.2 137.1 1737.6 137.1 1738 137 1738.4 137 1738.8 137 1739.2 137 1739.6 137 1740 137 1740.4 136.9 1740.8 136.9 1741.2 136.9 1741.6 136.9 1742 136.8 1742.4 136.8 1742.8 136.8 1743.2 136.7 1743.6 136.7 1744 136.6 1744.4 136.6 1744.8 136.5 1745.2 136.4 1745.6 136.3 1746 136.2 1746.4 136.1 1746.8 135.9 1747.2 135.7 1747.6 135.5 1748 135.3 1748.4 134.9 1748.8 134.5 1749.2 134 1749.6 133.3 1750 132.4 1750.4 131.2 1750.8 129.5 1751.2 127.1 1751.6 123.6 1752 118.7 1752.4 112.3 1752.8 105.9 1753.2 102.9 1753.2 102.9 1753.6 105.9 1754 112.3 1754.4 118.7 1754.8 123.6 1755.2 127.1 1755.6 129.5 1756 131.2 1756.4 132.4 1756.8 133.3 1757.2 134 1757.6 134.5 1758 134.9 1758.4 135.3 1758.8 135.5 1759.2 135.7 1759.6 135.9 1760 136.1 1760.4 136.2 1760.8 136.3 1761.2 136.4 1761.6 136.5 1762 136.6 1762.4 136.6 1762.8 136.7 1763.2 136.7 1763.6 136.8 1764 136.8 1764.4 136.8 1764.8 136.9 1765.2 136.9 1765.6 136.9 1766 136.9 1766.4 137 1766.8 137 1767.2 137 1767.6 137 1768 137 1768.4 137 1768.8 137.1 1769.2 137.1 1769.6 137.1 1770 137.1 1770.4 137.1 1770.8 137.1 1771.2 137.1 1771.6 137.1 1772 137.1 1772.4 137.1 1772.8 137.1 1773.2 137.1 1773.6 137.2 1774 137.2 1774.4 137.2 1774.8 137.2 1775.2 137.2 1775.6 137.2 1776 137.2 1776.4 137.2 1776.8 137.2 1777.2 137.2 1777.6 137.2 1778 137.2 1778.4 137.2 1778.8 137.2 1779.2 137.2 1779.6 137.2 1780 137.2 1780.4 137.2 1780.8 137.2 1781.2 137.2 1781.6 137.2 1782 137.2 1782.4 137.2 1782.8 137.2 1783.2 137.2 1783.6 137.2 1784 137.2 1784.4 137.2 1784.8 137.2 1785.2 137.2 1785.6 137.2 1786 137.2 1786.4 137.2 1786.8 137.2 1787.2 137.2 1787.6 137.2 1788 137.2 1788.4 137.2 1788.8 137.2 1789.2 137.2 1789.6 137.2 1790 137.2 1790.4 137.2 1790.8 137.3 1791.2 137.3 1791.6 137.3 1792 137.3 1792.4 137.3 1792.8 137.3 1793.2 137.3 1793.6 137.3 1794 137.3 1794.4 137.3 1794.8 137.3 1795.2 137.3 1795.6 137.3 1796 137.3 1796.4 137.3 1796.8 137.3 1797.2 137.3 1797.6 137.3 1798 137.3 1798.4 137.3 1798.8 137.3 1799.2 137.3 1799.6 137.3 1800 137.3 1800.4 137.3 1800.8 137.3 1801.2 137.3 1801.6 137.3 1802 137.3 1802.4 137.3 1802.8 137.3 1803.2 137.3 1803.6 137.3 1804 137.3 1804.4 137.3 1804.8 137.3 1805.2 137.3 1805.6 137.3 1806 137.3 1806.4 137.3 1806.8 137.3 1807.2 137.3 1807.6 137.3 1808 137.3 1808.4 137.3 1808.8 137.3 1809.2 137.3 1809.6 137.3 1810 137.3 1810.4 137.3 1810.8 137.3 1811.2 137.3 1811.6 137.3 1812 137.3 1812.4 137.3 1812.8 137.3 1813.2 137.3 1813.6 137.3 1814 137.3 1814.4 137.3 1814.8 137.3 1815.2 137.3 1815.6 137.3 1816 137.3 1816.4 137.3 1816.8 137.3 1817.2 137.3 1817.6 137.3 1818 137.3 1818.4 137.3 1818.8 137.3 1819.2 137.3 1819.6 137.3 1820 137.3 1820.4 137.3 1820.8 137.3 1821.2 137.3 1821.6 137.3 1822 137.3 1822.4 137.3 1822.8 137.3 1823.2 137.3 1823.6 137.3 1824 137.3 1824.4 137.3 1824.8 137.3 1825.2 137.3 1825.6 137.3 1826 137.3 1826.4 137.3 1826.8 137.3 1827.2 137.3 1827.6 137.3 1828 137.3 1828.4 137.3 1828.8 137.3 1829.2 137.3 1829.6 137.3 1830 137.3 1830.4 137.3 1830.8 137.3 1831.2 137.3 1831.6 137.3 1832 137.3 1832.4 137.3 1832.8 137.3 1833.2 137.3 1833.6 137.3 1834 137.3 1834.4 137.3 1834.8 137.3 1835.2 137.3 1835.6 137.3 1836 137.3 1836.4 137.3 1836.8 137.3 1837.2 137.3 1837.6 137.3 1838 137.3 1838.4 137.3 1838.8 137.3 1839.2 137.3 1839.6 137.3 1840 137.3 1840.4 137.3 1840.8 137.3 1841.2 137.3 1841.6 137.3 1842 137.3 1842.4 137.3 1842.8 137.3 1843.2 137.3 1843.6 137.3 1844 137.3 1844.4 137.3 1844.8 137.3 1845.2 137.3 1845.6 137.3 1846 137.3 1846.4 137.3 1846.8 137.3 1847.2 137.3 1847.6 137.3 1848 137.3 1848.4 137.3 1848.8 137.3 1849.2 137.3 1849.6 137.3 1850 137.3 1850.4 137.3 1850.8 137.3 1851.2 137.3 1851.6 137.3 1852 137.3 1852.4 137.3 1852.8 137.3 1853.2 137.3 1853.6 137.3 1854 137.3 1854.4 137.3 1854.8 137.3 1855.2 137.3 1855.6 137.3 1856 137.3 1856.4 137.3 1856.8 137.3 1857.2 137.3 1857.6 137.3 1858 137.3 1858.4 137.3 1858.8 137.3 1859.2 137.3 1859.6 137.3 1860 137.3 1860.4 137.3 1860.8 137.3 1861.2 137.3 1861.6 137.3 1862 137.3 1862.4 137.3 1862.8 137.3 1863.2 137.3 1863.6 137.3 1864 137.3 1864.4 137.3 1864.8 137.3 1865.2 137.3 1865.6 137.3 1866 137.3 1866.4 137.3 1866.8 137.3 1867.2 137.3 1867.6 137.3 1868 137.3 1868.4 137.3 1868.8 137.3 1869.2 137.3 1869.6 137.3 1870 137.3 1870.4 137.3 1870.8 137.3 1871.2 137.3 1871.6 137.3 1872 137.3 1872.4 137.3 1872.8 137.3 1873.2 137.3 1873.6 137.3 1874 137.3 1874.4 137.3 1874.8 137.3 1875.2 137.3 1875.6 137.3 1876 137.3 1876.4 137.3 1876.8 137.3 1877.2 137.3 1877.6 137.3 1878 137.3 1878.4 137.3 1878.8 137.2 1879.2 137.2 1879.6 137.2 1880 137.2 1880.4 137.2 1880.8 137.2 1881.2 137.2 1881.6 137.2 1882 137.2 1882.4 137.2 1882.8 137.2 1883.2 137.2 1883.6 137.2 1884 137.2 1884.4 137.2 1884.8 137.2 1885.2 137.1 1885.6 137.1 1886 137.1 1886.4 137.1 1886.8 137 1887.2 137 1887.6 137 1888 136.9 1888.4 136.9 1888.8 136.9 1889.2 136.8 1889.6 136.8 1890 136.8 1890 136.8 1890.4 136.8 1890.8 136.8 1891.2 136.9 1891.6 136.9 1892 136.9 1892.4 137 1892.8 137 1893.2 137 1893.6 137.1 1894 137.1 1894.4 137.1 1894.8 137.1 1895.2 137.2 1895.6 137.2 1896 137.2 1896.4 137.2 1896.8 137.2 1897.2 137.2 1897.6 137.2 1898 137.2 1898.4 137.2 1898.8 137.2 1899.2 137.2 1899.6 137.2 1900 137.2 1900.4 137.2 1900.8 137.2 1901.2 137.2 1901.6 137.2 1902 137.2 1902.4 137.3 1902.8 137.3 1903.2 137.3 1903.6 137.3 1904 137.3 1904.4 137.3 1904.8 137.3 1905.2 137.3 1905.6 137.3 1906 137.3 1906.4 137.3 1906.8 137.3 1907.2 137.3 1907.6 137.3 1908 137.3 1908.4 137.3 1908.8 137.3 1909.2 137.3 1909.6 137.3 1910 137.3 1910.4 137.3 1910.8 137.3 1911.2 137.3 1911.6 137.3 1912 137.3 1912.4 137.3 1912.8 137.3 1913.2 137.3 1913.6 137.3 1914 137.3 1914.4 137.3 1914.8 137.3 1915.2 137.3 1915.6 137.3 1916 137.3 1916.4 137.3 1916.8 137.3 1917.2 137.3 1917.6 137.3 1918 137.3 1918.4 137.3 1918.8 137.3 1919.2 137.3 1919.6 137.3 1920 137.3 1920.4 137.3 1920.8 137.3 1921.2 137.3 1921.6 137.3 1922 137.3 1922.4 137.3 1922.8 137.3 1923.2 137.3 1923.6 137.3 1924 137.3 1924.4 137.3 1924.8 137.3 1925.2 137.3 1925.6 137.3 1926 137.3 1926.4 137.3 1926.8 137.3 1927.2 137.3 1927.6 137.3 1928 137.3 1928.4 137.3 1928.8 137.3 1929.2 137.3 1929.6 137.3 1930 137.3 1930.4 137.3 1930.8 137.3 1931.2 137.3 1931.6 137.3 1932 137.3 1932.4 137.3 1932.8 137.3 1933.2 137.3 1933.6 137.3 1934 137.3 1934.4 137.3 1934.8 137.3 1935.2 137.3 1935.6 137.3 1936 137.3 1936.4 137.3 1936.8 137.3 1937.2 137.3 1937.6 137.3 1938 137.3 1938.4 137.3 1938.8 137.3 1939.2 137.3 1939.6 137.3 1940 137.3 1940.4 137.3 1940.8 137.2 1941.2 137.2 1941.6 137.2 1942 137.2 1942.4 137.2 1942.8 137.2 1943.2 137.2 1943.6 137.2 1944 137.2 1944.4 137.2 1944.8 137.2 1945.2 137.2 1945.6 137.2 1946 137.2 1946.4 137.2 1946.8 137.2 1947.2 137.2 1947.6 137.2 1948 137.2 1948.4 137.2 1948.8 137.2 1949.2 137.2 1949.6 137.2 1950 137.2 1950.4 137.2 1950.8 137.2 1951.2 137.2 1951.6 137.2 1952 137.2 1952.4 137.2 1952.8 137.2 1953.2 137.2 1953.6 137.2 1954 137.2 1954.4 137.2 1954.8 137.2 1955.2 137.2 1955.6 137.2 1956 137.2 1956.4 137.2 1956.8 137.2 1957.2 137.2 1957.6 137.2 1958 137.2 1958.4 137.2 1958.8 137.2 1959.2 137.2 1959.6 137.2 1960 137.2 1960.4 137.2 1960.8 137.2 1961.2 137.2 1961.6 137.2 1962 137.2 1962.4 137.2 1962.8 137.2 1963.2 137.2 1963.6 137.2 1964 137.2 1964.4 137.2 1964.8 137.2 1965.2 137.2 1965.6 137.2 1966 137.2 1966.4 137.2 1966.8 137.2 1967.2 137.2 1967.6 137.2 1968 137.2 1968.4 137.1 1968.8 137.1 1969.2 137.1 1969.6 137.1 1970 137.1 1970.4 137.1 1970.8 137.1 1971.2 137.1 1971.6 137.1 1972 137.1 1972.4 137.1 1972.8 137.1 1973.2 137.1 1973.6 137.1 1974 137.1 1974.4 137.1 1974.8 137.1 1975.2 137.1 1975.6 137.1 1976 137 1976.4 137 1976.8 137 1977.2 137 1977.6 137 1978 137 1978.4 137 1978.8 137 1979.2 137 1979.6 137 1980 136.9 1980.4 136.9 1980.8 136.9 1981.2 136.9 1981.6 136.9 1982 136.9 1982.4 136.9 1982.8 136.8 1983.2 136.8 1983.6 136.8 1984 136.8 1984.4 136.7 1984.8 136.7 1985.2 136.7 1985.6 136.7 1986 136.6 1986.4 136.6 1986.8 136.5 1987.2 136.5 1987.6 136.5 1988 136.4 1988.4 136.3 1988.8 136.3 1989.2 136.2 1989.6 136.1 1990 136 1990.4 136 1990.8 135.9 1991.2 135.7 1991.6 135.6 1992 135.5 1992.4 135.3 1992.8 135.2 1993.2 135 1993.6 134.8 1994 134.6 1994.4 134.4 1994.8 134.3 1995 134.2 1995.2 134.1 1995.6 133.8 1996 133.6 1996.4 133.4 1996.8 133.1 1997.2 132.7 1997.6 132.2 1998 131.7 1998.4 131 1998.8 130.1 1999.2 129 1999.6 127.5 2000 125.6 2000.4 123.1 2000.8 119.6 2001.2 115 2001.6 108.6 2002 100 2002.4 89 2002.8 77.3 2003.2 68.9 2003.4 67.7 2003.6 68.9 2004 77.3 2004.4 89.1 2004.8 100.1 2005.2 108.7 2005.6 115.1 2006 119.9 2006.4 123.3 2006.8 125.9 2007.2 127.8 2007.6 129.4 2008 130.5 2008.4 131.5 2008.8 132.2 2009.2 132.9 2009.6 133.4 2010 133.8 2010.4 134.2 2010.8 134.5 2011.2 134.8 2011.6 135 2012 135.2 2012.4 135.4 2012.8 135.5 2013.2 135.7 2013.6 135.8 2014 135.9 2014.4 136 2014.8 136.1 2015.2 136.2 2015.6 136.2 2016 136.3 2016.4 136.4 2016.8 136.4 2017.2 136.5 2017.6 136.5 2018 136.5 2018.4 136.6 2018.8 136.6 2019.2 136.7 2019.6 136.7 2020 136.7 2020.4 136.7 2020.8 136.8 2021.2 136.8 2021.6 136.8 2022 136.8 2022.4 136.8 2022.8 136.9 2023.2 136.9 2023.6 136.9 2024 136.9 2024.4 136.9 2024.8 136.9 2025.2 137 2025.6 137 2026 137 2026.4 137 2026.8 137 2027.2 137 2027.6 137 2028 137 2028.4 137 2028.8 137 2029.2 137.1 2029.6 137.1 2030 137.1 2030.4 137.1 2030.8 137.1 2031.2 137.1 2031.6 137.1 2032 137.1 2032.4 137.1 2032.8 137.1 2033.2 137.1 2033.6 137.1 2034 137.1 2034.4 137.1 2034.8 137.1 2035.2 137.1 2035.6 137.1 2036 137.1 2036.4 137.1 2036.8 137.1 2037.2 137.2 2037.6 137.2 2038 137.2 2038.4 137.2 2038.8 137.2 2039.2 137.2 2039.6 137.2 2040 137.2 2040.4 137.2 2040.8 137.2 2041.2 137.2 2041.6 137.2 2042 137.2 2042.4 137.2 2042.8 137.2 2043.2 137.2 2043.6 137.2 2044 137.2 2044.4 137.2 2044.8 137.2 2045.2 137.2 2045.6 137.2 2046 137.2 2046.4 137.2 2046.8 137.2 2047.2 137.2 2047.6 137.2 2048 137.2 2048.4 137.2 2048.8 137.2 2049.2 137.2 2049.6 137.2 2050 137.2 2050.4 137.2 2050.8 137.2 2051.2 137.2 2051.6 137.2 2052 137.2 2052.4 137.2 2052.8 137.2 2053.2 137.2 2053.6 137.2 2054 137.2 2054.4 137.2 2054.8 137.2 2055.2 137.2 2055.6 137.2 2056 137.2 2056.4 137.2 2056.8 137.2 2057.2 137.2 2057.6 137.2 2058 137.2 2058.4 137.2 2058.8 137.2 2059.2 137.2 2059.6 137.2 2060 137.2 2060.4 137.2 2060.8 137.2 2061.2 137.2 2061.6 137.2 2062 137.2 2062.4 137.3 2062.8 137.3 2063.2 137.3 2063.6 137.3 2064 137.3 2064.4 137.3 2064.8 137.3 2065.2 137.3 2065.6 137.3 2066 137.3 2066.4 137.3 2066.8 137.3 2067.2 137.3 2067.6 137.3 2068 137.3 2068.4 137.3 2068.8 137.3 2069.2 137.3 2069.6 137.3 2070 137.3 2070.4 137.3 2070.8 137.3 2071.2 137.3 2071.6 137.3 2072 137.3 2072.4 137.3 2072.8 137.3 2073.2 137.3 2073.6 137.3 2074 137.3 2074.4 137.3 2074.8 137.3 2075.2 137.3 2075.6 137.3 2076 137.3 2076.4 137.3 2076.8 137.3 2077.2 137.3 2077.6 137.3 2078 137.3 2078.4 137.3 2078.8 137.3 2079.2 137.3 2079.6 137.3 2080 137.3 2080.4 137.3 2080.8 137.3 2081.2 137.3 2081.6 137.3 2082 137.3 2082.4 137.3 2082.8 137.3 2083.2 137.3 2083.6 137.3 2084 137.3 2084.4 137.3 2084.8 137.3 2085.2 137.3 2085.6 137.3 2086 137.3 2086.4 137.3 2086.8 137.3 2087.2 137.3 2087.6 137.3 2088 137.3 2088.4 137.3 2088.8 137.3 2089.2 137.3 2089.6 137.3 2090 137.3 2090.4 137.3 2090.8 137.3 2091.2 137.3 2091.6 137.3 2092 137.3 2092.4 137.3 2092.8 137.3 2093.2 137.3 2093.6 137.3 2094 137.3 2094.4 137.3 2094.8 137.3 2095.2 137.3 2095.6 137.3 2096 137.3 2096.4 137.3 2096.8 137.3 2097.2 137.3 2097.6 137.3 2098 137.3 2098.4 137.3 2098.8 137.3 2099.2 137.3 2099.6 137.3 2100 137.3 2100.4 137.3 2100.8 137.3 2101.2 137.3 2101.6 137.3 2102 137.3 2102.4 137.3 2102.8 137.3 2103.2 137.3 2103.6 137.3 2104 137.3 2104.4 137.3 2104.8 137.3 2105.2 137.3 2105.6 137.3 2106 137.3 2106.4 137.3 2106.8 137.3 2107.2 137.3 2107.6 137.3 2108 137.3 2108.4 137.3 2108.8 137.3 2109.2 137.3 2109.6 137.3 2110 137.3 2110.4 137.3 2110.8 137.3 2111.2 137.3 2111.6 137.3" fill="none" stroke="#1ba1de" stroke-width="2.6" stroke-linejoin="round" clip-path="url(#clipTop)"/>
<path d="M1157.3 218.1 1157.7 219.3 1158.1 220.6 1158.5 221.8 1158.9 223 1159.3 224.3 1159.7 225.5 1160.1 226.8 1160.5 228 1160.9 229.3 1161.3 230.6 1161.7 231.9 1162.1 233.3 1162.5 234.6 1162.9 235.9 1163.3 237.1 1163.7 238.3 1164.1 239.4 1164.5 240.5 1164.9 241.5 1165.3 242.4 1165.7 243.3 1166.1 244.2 1166.5 245.1 1166.9 245.9 1167.3 246.7 1167.7 247.4 1168 248 1168.5 249 1168.9 249.8 1169.3 250.6 1169.7 251.4 1170.1 252.2 1170.5 252.9 1170.9 253.6 1171.3 254.1 1171.7 254.5 1172.1 254.8 1172.5 254.9 1172.9 254.9 1173.3 254.7 1173.7 254.6 1174.1 254.3 1174.5 254.1 1174.9 253.8 1175.3 253.5 1175.7 253.2 1176 253 1176.5 252.6 1176.9 252.3 1177.3 252 1177.7 251.6 1178.1 251.2 1178.5 250.8 1178.9 250.4 1179.3 250 1179.7 249.6 1180.1 249.1 1180.3 248.9 1180.5 248.7 1180.9 248.1 1181.3 247.6 1181.7 247 1182.1 246.4 1182.5 245.8 1182.9 245.2 1183.3 244.7 1183.5 244.5 1183.7 244.3 1184.1 243.8 1184.5 243.3 1184.9 242.9 1185.3 242.5 1185.7 242.2 1186.1 242 1186.3 242 1186.5 242.1 1186.9 242.9 1187.3 244.3 1187.7 246.1 1188.1 248.1 1188.5 250 1188.9 252.1 1189.3 254.6 1189.7 257.3 1190.1 260 1190.5 262.7 1190.9 265 1191.3 267.1 1191.7 269.1 1192.1 271.1 1192.5 272.9 1192.9 274.6 1193.3 276.3 1193.5 277 1193.7 277.7 1194.1 279.1 1194.5 280.4 1194.9 281.6 1195.3 282.7 1195.7 283.8 1196.1 284.9 1196.4 285.7 1196.9 287 1197.3 288 1197.7 289 1198.1 290 1198.5 290.9 1198.9 291.8 1199.3 292.7 1199.7 293.5 1200 294 1200.5 294.9 1200.9 295.5 1201.3 296.1 1201.7 296.7 1202.1 297.3 1202.5 297.8 1202.9 298.4 1203.3 298.9 1203.7 299.4 1204.1 299.9 1204.5 300.4 1204.9 300.9 1205.3 301.4 1205.6 301.8 1206.1 302.5 1206.5 303 1206.9 303.5 1207.3 304.1 1207.7 304.6 1208.1 305.1 1208.5 305.6 1208.9 306.1 1209.3 306.5 1209.7 306.9 1210 307.2 1210.5 307.6 1210.9 308 1211.3 308.3 1211.7 308.6 1212.1 308.9 1212.5 309.2 1212.9 309.4 1213.3 309.7 1213.7 309.9 1214.1 310.2 1214.5 310.4 1214.9 310.7 1215.3 310.9 1215.7 311.2 1216.1 311.4 1216.5 311.6 1216.9 311.9 1217.1 312 1217.3 312.1 1217.7 312.4 1218.1 312.6 1218.5 312.8 1218.9 313.1 1219.3 313.3 1219.7 313.5 1220.1 313.7 1220.5 313.9 1220.9 314.1 1221.3 314.3 1221.7 314.6 1222.1 314.8 1222.5 315 1222.9 315.2 1223.3 315.4 1223.7 315.6 1224.1 315.8 1224.5 316.1 1224.9 316.3 1225.3 316.5 1225.7 316.7 1226.1 317 1226.5 317.2 1226.9 317.5 1227.3 317.7 1227.7 318 1228.1 318.3 1228.5 318.6 1228.9 318.9 1229.3 319.2 1229.7 319.4 1230.1 319.7 1230.5 319.9 1230.9 320.1 1231.3 320.3 1231.7 320.4 1232.1 320.6 1232.5 320.7 1232.9 320.8 1233.3 320.9 1233.7 321.1 1234.1 321.2 1234.5 321.3 1234.9 321.4 1235.3 321.5 1235.7 321.5 1236.1 321.6 1236.5 321.7 1236.9 321.8 1237.3 321.9 1237.7 321.9 1238.1 322 1238.5 322.1 1238.9 322.2 1239.3 322.3 1239.7 322.3 1240.1 322.4 1240.5 322.5 1240.9 322.6 1241.3 322.7 1241.7 322.7 1242.1 322.8 1242.5 322.9 1242.9 323 1243.2 323.1 1243.7 323.2 1244.1 323.3 1244.5 323.5 1244.9 323.6 1245.3 323.7 1245.7 323.8 1246.1 323.9 1246.5 324 1246.9 324.2 1247.3 324.3 1247.7 324.4 1248.1 324.5 1248.5 324.6 1248.9 324.8 1249.3 324.9 1249.7 325 1250.1 325.2 1250.5 325.3 1250.9 325.4 1251.3 325.5 1251.7 325.7 1252.1 325.8 1252.5 325.9 1252.9 326 1253.3 326.2 1253.7 326.3 1254.1 326.4 1254.5 326.5 1254.9 326.7 1255.3 326.8 1255.7 326.9 1256.1 327 1256.5 327.2 1256.9 327.3 1257.3 327.4 1257.7 327.5 1258.1 327.6 1258.5 327.7 1258.9 327.8 1259.3 327.9 1259.7 328 1259.9 328.1 1260.1 328.2 1260.5 328.3 1260.9 328.4 1261.3 328.5 1261.7 328.6 1262.1 328.7 1262.5 328.9 1262.9 329 1263.3 329.1 1263.7 329.2 1264.1 329.3 1264.5 329.4 1264.9 329.4 1265.3 329.5 1265.7 329.5 1266 329.5 1266.5 329.4 1266.9 329.1 1267.3 328.9 1267.7 328.6 1268.1 328.5 1268.5 328.6 1268.9 328.8 1269.3 329.3 1269.7 329.9 1270.1 330.5 1270.5 331.2 1270.9 331.8 1271.3 332.4 1271.7 332.8 1272.1 333.1 1272.5 333.4 1272.9 333.8 1273.3 334 1273.7 334.3 1274.1 334.6 1274.5 334.9 1274.9 335.1 1275.3 335.4 1275.7 335.6 1276.1 335.9 1276.5 336.1 1276.9 336.3 1277.3 336.6 1277.7 336.8 1278.1 337 1278.5 337.2 1278.9 337.4 1279.3 337.6 1279.7 337.7 1280.1 337.9 1280.5 338.1 1280.9 338.3 1281.3 338.4 1281.7 338.6 1282.1 338.7 1282.5 338.9 1282.9 339 1283.3 339.2 1283.7 339.3 1284.1 339.4 1284.5 339.6 1284.9 339.7 1285.3 339.8 1285.7 340 1286.1 340.1 1286.5 340.3 1286.9 340.4 1287.3 340.5 1287.7 340.7 1288.1 340.8 1288.5 340.9 1288.9 341 1289.3 341.1 1289.7 341.3 1290.1 341.4 1290.5 341.5 1290.9 341.6 1291.3 341.7 1291.7 341.8 1292.1 341.8 1292.5 341.9 1292.9 342 1293.3 342 1293.7 342.1 1294.1 342.1 1294.5 342.2 1294.9 342.2 1295.3 342.2 1295.6 342.2 1296.1 342 1296.5 341.7 1296.9 341.2 1297.3 340.5 1297.7 339.7 1298.1 338.7 1298.5 337.7 1298.9 336.6 1299.2 335.8 1299.7 333.2 1300.1 330.1 1300.5 326.7 1300.9 323.6 1301.3 321.5 1301.6 321 1302.1 322.1 1302.5 324.3 1302.9 327.2 1303.3 330.4 1303.7 333.7 1304 336 1304.5 340.6 1304.9 344.8 1305.3 348.2 1305.7 349.6 1306.1 349.6 1306.5 349.6 1306.9 349.6 1307.3 349.5 1307.7 349.5 1308.1 349.4 1308.5 349.4 1308.9 349.3 1309.3 349.3 1309.7 349.2 1310.1 349.2 1310.5 349.1 1310.9 349.1 1311.3 349 1311.7 349 1312.1 349 1312.5 348.9 1312.9 348.9 1313.3 348.9 1313.5 348.9 1313.7 348.9 1314.1 348.9 1314.5 349 1314.9 349.1 1315.3 349.2 1315.7 349.3 1316.1 349.5 1316.5 349.6 1316.9 349.8 1317.3 350 1317.7 350.2 1318.1 350.4 1318.5 350.6 1318.9 350.8 1319.3 351 1319.7 351.2 1320.1 351.3 1320.5 351.5 1320.9 351.7 1321.3 351.8 1321.7 351.9 1321.9 352 1322.1 352.1 1322.5 352.2 1322.9 352.3 1323.3 352.4 1323.7 352.5 1324.1 352.6 1324.5 352.7 1324.9 352.8 1325.3 352.9 1325.7 353 1326.1 353.2 1326.5 353.3 1326.9 353.4 1327.3 353.5 1327.7 353.6 1328.1 353.7 1328.5 353.7 1328.9 353.8 1329.3 353.9 1329.7 354 1330.1 354.1 1330.5 354.1 1330.9 354.2 1331.3 354.2 1331.7 354.3 1332.1 354.3 1332.5 354.4 1332.9 354.4 1333.3 354.4 1333.7 354.4 1334.1 354.3 1334.5 353.9 1334.9 353.3 1335.3 352.7 1335.7 352.1 1336.1 351.6 1336.5 351.3 1336.9 351.4 1337.3 351.9 1337.7 352.8 1338.1 353.7 1338.5 354.8 1338.9 355.8 1339.3 356.6 1339.7 357.2 1340.1 357.6 1340.5 357.9 1340.9 358.2 1341.3 358.5 1341.7 358.8 1342.1 359.1 1342.5 359.3 1342.9 359.6 1343.3 359.8 1343.7 360 1344.1 360.2 1344.5 360.4 1344.9 360.6 1345.3 360.8 1345.7 360.9 1346.1 361.1 1346.5 361.3 1346.9 361.5 1347.3 361.6 1347.7 361.8 1348.1 362 1348.5 362.2 1348.9 362.4 1349.3 362.6 1349.7 362.8 1350.1 363 1350.5 363.1 1350.9 363.3 1351.3 363.5 1351.7 363.7 1352.1 363.8 1352.5 364 1352.9 364.2 1353.3 364.3 1353.7 364.4 1354.1 364.6 1354.5 364.7 1354.9 364.8 1355.3 364.9 1355.7 364.9 1356.1 365 1356.5 365.1 1356.9 365.2 1357.3 365.2 1357.7 365.3 1358.1 365.3 1358.5 365.4 1358.9 365.4 1359.3 365.5 1359.7 365.5 1360.1 365.5 1360.5 365.6 1360.9 365.6 1361.3 365.7 1361.7 365.7 1362.1 365.8 1362.5 365.8 1362.9 365.9 1363.3 365.9 1363.7 366 1364.1 366.1 1364.5 366.1 1364.9 366.2 1365.3 366.3 1365.7 366.4 1366.1 366.5 1366.5 366.6 1366.9 366.8 1367.3 367.1 1367.7 367.4 1368.1 367.7 1368.5 368 1368.9 368.3 1369.3 368.6 1369.7 368.8 1370 369 1370.5 369.2 1370.9 369.4 1371.3 369.6 1371.7 369.8 1372.1 370 1372.5 370.2 1372.9 370.3 1373.3 370.5 1373.7 370.7 1374.1 370.8 1374.5 371 1374.9 371.1 1375.3 371.3 1375.7 371.4 1376.1 371.6 1376.5 371.7 1376.9 371.9 1377.3 372 1377.7 372.2 1378.1 372.3 1378.5 372.5 1378.9 372.6 1379.3 372.7 1379.7 372.9 1380.1 373 1380.5 373.2 1380.9 373.3 1381.3 373.5 1381.7 373.6 1382.1 373.8 1382.5 373.9 1382.9 374.1 1383.3 374.2 1383.7 374.4 1384.1 374.6 1384.5 374.8 1384.9 375 1385.3 375.1 1385.7 375.3 1386.1 375.5 1386.5 375.7 1386.9 375.9 1387.3 376.1 1387.7 376.3 1388.1 376.5 1388.5 376.7 1388.9 376.9 1389.3 377.1 1389.7 377.3 1390.1 377.5 1390.5 377.7 1390.9 377.9 1391.3 378.1 1391.7 378.3 1392.1 378.5 1392.5 378.6 1392.9 378.8 1393.3 379 1393.7 379.1 1394.1 379.3 1394.5 379.4 1394.9 379.6 1395.3 379.7 1395.7 379.9 1396.1 380 1396.5 380.1 1396.9 380.2 1397.3 380.3 1397.7 380.4 1398.1 380.5 1398.5 380.5 1398.9 380.6 1399.3 380.6 1399.7 380.7 1400.1 380.7 1400.5 380.7 1400.9 380.7 1401.3 380.7 1401.7 380.7 1402.1 380.7 1402.5 380.7 1402.9 380.7 1403.3 380.7 1403.7 380.7 1404.1 380.7 1404.5 380.7 1404.9 380.7 1405.3 380.7 1405.7 380.6 1406.1 380.6 1406.5 380.6 1406.9 380.6 1407.3 380.6 1407.7 380.6 1408.1 380.6 1408.5 380.6 1408.9 380.5 1409.3 380.5 1409.7 380.5 1410 380.5 1410.5 380.5 1410.9 380.4 1411.3 380.4 1411.7 380.3 1412.1 380.2 1412.5 380.1 1412.9 380 1413.3 379.9 1413.7 379.7 1414.1 379.6 1414.3 379.5 1414.5 379.4 1414.9 379 1415.3 378.5 1415.7 378.1 1416 378 1416.5 378.2 1416.9 378.6 1417.3 379.1 1417.7 379.4 1418 379.5 1418.5 379 1418.9 378.2 1419.3 377.6 1419.5 377.5 1419.7 377.6 1420.1 378.3 1420.5 379.4 1420.9 380.7 1421.3 381.7 1421.5 382 1421.7 382.2 1422.1 382.7 1422.5 383.2 1422.9 383.6 1423.3 384 1423.7 384.3 1424.1 384.7 1424.5 384.9 1424.9 385.1 1425.3 385.2 1425.7 385.3 1426.1 385.3 1426.5 385.3 1426.9 385.3 1427.3 385.2 1427.7 385.2 1428.1 385.1 1428.5 385 1428.9 385 1429.3 384.9 1429.7 384.8 1430.1 384.7 1430.5 384.6 1430.9 384.5 1431.3 384.4 1431.7 384.3 1432.1 384.2 1432.5 384.1 1432.9 384 1433.3 383.9 1433.7 383.8 1434.1 383.7 1434.5 383.6 1434.9 383.5 1435.3 383.3 1435.7 383.2 1436.1 383 1436.5 382.9 1436.9 382.7 1437.3 382.6 1437.7 382.4 1438.1 382.2 1438.5 382.1 1438.9 381.9 1439.3 381.7 1439.7 381.6 1440.1 381.4 1440.5 381.2 1440.9 381.1 1441.3 380.9 1441.7 380.8 1441.9 380.7 1442.1 380.6 1442.5 380.5 1442.9 380.3 1443.3 380.2 1443.7 380 1444.1 379.9 1444.5 379.7 1444.9 379.6 1445.3 379.5 1445.7 379.3 1446.1 379.2 1446.5 379 1446.9 378.9 1447.3 378.7 1447.7 378.6 1448.1 378.4 1448.5 378.3 1448.9 378.1 1449.3 378 1449.7 377.8 1450.1 377.7 1450.5 377.5 1450.9 377.4 1451.3 377.2 1451.7 377 1452.1 376.9 1452.5 376.7 1452.9 376.5 1453.3 376.4 1453.7 376.2 1454.1 376 1454.5 375.8 1454.9 375.7 1455.3 375.5 1455.7 375.3 1456.1 375.1 1456.5 374.9 1456.9 374.8 1457.3 374.6 1457.7 374.4 1458.1 374.2 1458.5 374 1458.9 373.8 1459.3 373.6 1459.7 373.4 1460.1 373.2 1460.5 373 1460.9 372.8 1461.3 372.6 1461.7 372.4 1462.1 372.2 1462.5 371.9 1462.9 371.7 1463.3 371.5 1463.7 371.3 1464.1 371.1 1464.5 370.8 1464.9 370.6 1465.3 370.4 1465.7 370.1 1466.1 369.9 1466.5 369.6 1466.9 369.4 1467.3 369.1 1467.7 368.9 1468.1 368.6 1468.5 368.3 1468.9 368.1 1469.3 367.8 1469.7 367.5 1470.1 367.2 1470.5 366.9 1470.9 366.7 1471.3 366.4 1471.7 366.1 1472.1 365.8 1472.5 365.5 1472.9 365.2 1473.3 364.9 1473.7 364.6 1474.1 364.3 1474.5 364.1 1474.9 363.8 1475.3 363.5 1475.7 363.2 1476 363 1476.5 362.6 1476.9 362.4 1477.3 362.1 1477.7 361.8 1478.1 361.5 1478.5 361.2 1478.9 361 1479.3 360.7 1479.7 360.4 1480.1 360.1 1480.5 359.8 1480.9 359.5 1481.3 359.2 1481.7 359 1482.1 358.7 1482.5 358.4 1482.9 358.1 1483.3 357.8 1483.7 357.5 1484.1 357.2 1484.5 356.9 1484.9 356.7 1485.3 356.4 1485.7 356.1 1486.1 355.8 1486.5 355.5 1486.9 355.2 1487.3 354.9 1487.7 354.6 1487.9 354.5 1488.1 354.4 1488.5 354.1 1488.9 353.8 1489.3 353.5 1489.7 353.3 1490.1 353 1490.5 352.7 1490.9 352.4 1491.3 352.2 1491.7 351.9 1492.1 351.6 1492.5 351.4 1492.9 351.1 1493.3 350.8 1493.7 350.5 1494.1 350.2 1494.5 350 1494.9 349.7 1495.3 349.4 1495.7 349.1 1496.1 348.7 1496.5 348.4 1496.9 348.1 1497.3 347.7 1497.7 347.4 1498.1 347.1 1498.5 346.7 1498.9 346.4 1499.3 346 1499.7 345.7 1500.1 345.3 1500.5 344.9 1500.9 344.5 1501.3 344.1 1501.7 343.7 1502.1 343.3 1502.5 342.8 1502.9 342.3 1503.3 341.8 1503.7 341.3 1504.1 340.8 1504.5 340.3 1504.9 339.7 1505.3 339.2 1505.7 338.6 1506.1 337.9 1506.5 337.1 1506.9 336.2 1507.3 335.2 1507.7 334 1508.1 332.4 1508.5 329.6 1508.9 326.2 1509.3 322.3 1509.7 318.3 1510.1 314.3 1510.5 310 1510.9 305.2 1511.2 301 1511.7 294.2 1512.1 287.5 1512.5 277.5 1512.7 270.4 1512.9 245.6 1513.3 158.9 1513.5 140 1513.7 140 1514.1 140 1514.5 140 1514.9 140 1515.3 140 1515.7 140 1516.1 140 1516.5 140 1516.9 140 1517.3 140 1517.7 140 1518 140 1518.4 290.8 1518.9 317.7 1519.3 333.6 1519.7 349.2 1520.1 360.3 1520.4 363.3 1520.9 360.7 1521.3 356 1521.7 350.3 1522.1 344.9 1522.4 341.8 1522.9 337.5 1523.3 333.9 1523.7 330.3 1524.1 326.9 1524.5 323.7 1524.9 320.8 1525.3 318.4 1525.7 316.5 1526.1 315.3 1526.5 314.9 1526.9 316 1527.3 318.7 1527.7 322.5 1528.1 326.7 1528.5 330.7 1528.9 334.6 1529.3 339.3 1529.7 344.1 1530.1 347.9 1530.5 349.9 1530.9 350 1531.3 350 1531.7 349.9 1532.1 349.9 1532.5 349.8 1532.9 349.7 1533.3 349.7 1533.7 349.6 1534.1 349.5 1534.5 349.4 1534.9 349.3 1535.3 349.1 1535.7 349 1536.1 348.8 1536.5 348.6 1536.9 348.4 1537.3 348.2 1537.7 348 1538.1 347.8 1538.5 347.6 1538.9 347.4 1539.3 347.2 1539.7 346.9 1540.1 346.7 1540.5 346.5 1540.9 346.3 1541.3 346.1 1541.7 345.9 1542.1 345.7 1542.5 345.5 1542.9 345.3 1543.3 345.2 1543.7 345 1544.1 344.9 1544.5 344.7 1544.9 344.5 1545.3 344.3 1545.7 344.1 1546.1 344 1546.5 343.8 1546.9 343.6 1547.3 343.5 1547.7 343.3 1548.1 343.2 1548.5 343 1548.9 342.9 1549.3 342.8 1549.7 342.7 1550.1 342.6 1550.5 342.6 1550.9 342.5 1551.3 342.5 1551.5 342.5 1551.7 342.5 1552.1 342.6 1552.5 342.8 1552.9 343.1 1553.3 343.4 1553.7 343.8 1554.1 344.3 1554.5 344.8 1554.9 345.3 1555.3 345.9 1555.7 346.4 1556.1 347 1556.5 347.5 1556.9 348 1557.3 348.5 1557.7 348.9 1558.1 349.3 1558.5 349.6 1558.9 349.8 1559.2 349.9 1559.7 350 1560.1 350.1 1560.5 350.2 1560.9 350.3 1561.3 350.4 1561.7 350.5 1562.1 350.6 1562.5 350.7 1562.9 350.8 1563.3 350.8 1563.7 350.9 1564.1 351 1564.5 351 1564.9 351.1 1565.3 351.1 1565.7 351.2 1566.1 351.2 1566.5 351.2 1566.9 351.3 1567.3 351.3 1567.7 351.3 1568.1 351.3 1568.4 351.3 1568.9 351.3 1569.3 351.2 1569.7 351 1570.1 350.8 1570.5 350.6 1570.9 350.3 1571.3 350 1571.7 349.7 1572.1 349.3 1572.5 348.9 1572.9 348.4 1573.3 348 1573.7 347.5 1574.1 347 1574.5 346.4 1574.9 345.9 1575.3 345.3 1575.7 344.7 1576.1 344 1576.5 343.2 1576.9 342.2 1577.3 341 1577.7 339.6 1578.1 337.9 1578.5 335.8 1578.9 331 1579.3 323 1579.7 314.4 1579.9 310.8 1580.1 307.7 1580.5 301.9 1580.9 296.6 1581.3 291.5 1581.7 286.4 1582.1 281 1582.5 275.1 1582.9 268.5 1583.1 264.9 1583.3 260.6 1583.7 249.3 1584.1 235.5 1584.5 220.7 1584.9 206.1 1585.3 193.1 1585.7 183.1 1586.1 177.5 1586.3 176.7 1586.5 177.7 1586.9 184.6 1587.3 195.4 1587.7 207.3 1588 215 1588.5 228.8 1588.9 240.1 1589.3 247.7 1589.5 248.8 1589.7 247.1 1590.1 235.5 1590.5 218.7 1590.9 203 1591.3 191 1591.7 178.8 1592.1 170.5 1592.3 169.3 1592.5 170.3 1592.9 177.5 1593.3 190 1593.7 205.6 1594.1 222.4 1594.5 238.3 1594.9 253.9 1595.3 273.2 1595.7 293.5 1596.1 312 1596.5 325.6 1596.9 331.5 1597.3 332.4 1597.7 333.1 1598.1 333.7 1598.5 334.1 1598.9 334.5 1599.3 334.8 1599.7 335.1 1600.1 335.5 1600.5 336 1600.9 336.5 1601.3 337.1 1601.7 337.7 1602.1 338.3 1602.5 339 1602.9 339.6 1603.3 340.3 1603.7 341 1604.1 341.7 1604.5 342.4 1604.9 343.1 1605.3 343.8 1605.7 344.5 1606.1 345.2 1606.5 346 1606.9 346.7 1607.3 347.4 1607.7 348.2 1608.1 349 1608.5 349.8 1608.9 350.7 1609.3 351.5 1609.7 352.4 1610.1 353.3 1610.5 354.2 1610.9 355.1 1611.3 355.9 1611.7 356.7 1612.1 357.4 1612.5 358 1612.9 358.6 1613.2 359 1613.7 359.6 1614.1 360 1614.5 360.4 1614.9 360.7 1615.3 361.1 1615.7 361.4 1616.1 361.7 1616.5 362 1616.9 362.3 1617.3 362.6 1617.7 362.9 1618.1 363.2 1618.5 363.4 1618.9 363.7 1619.3 364 1619.7 364.3 1620.1 364.6 1620.5 364.9 1620.9 365.2 1621.3 365.5 1621.7 365.8 1622.1 366.1 1622.5 366.3 1622.9 366.6 1623.3 366.7 1623.7 366.9 1624.1 367 1624.5 367.1 1624.8 367.1 1625.3 367 1625.7 366.9 1626.1 366.7 1626.5 366.4 1626.9 366 1627.3 365.7 1627.7 365.2 1628.1 364.8 1628.5 364.3 1628.9 363.8 1629.3 363.4 1629.7 362.9 1630.1 362.4 1630.5 362 1630.9 361.6 1631.3 361.2 1631.7 360.7 1632.1 360.3 1632.5 359.8 1632.9 359.3 1633.3 358.9 1633.7 358.4 1634.1 357.9 1634.5 357.4 1634.9 356.8 1635.3 356.3 1635.7 355.8 1636.1 355.3 1636.5 354.8 1636.9 354.3 1637.3 353.8 1637.7 353.2 1638.1 352.7 1638.5 352.2 1638.9 351.8 1639.3 351.3 1639.7 350.8 1640.1 350.4 1640.5 349.9 1640.9 349.5 1641.3 349.1 1641.7 348.7 1641.9 348.5 1642.1 348.3 1642.5 347.9 1642.9 347.5 1643.3 347.1 1643.7 346.6 1644.1 346.2 1644.5 345.8 1644.9 345.4 1645.3 345 1645.7 344.6 1646.1 344.3 1646.5 343.9 1646.9 343.7 1647.3 343.4 1647.7 343.2 1648.1 343.1 1648.5 343 1648.8 343 1649.3 343.1 1649.7 343.2 1650.1 343.4 1650.5 343.7 1650.9 344 1651.3 344.3 1651.7 344.6 1652.1 344.9 1652.5 345.1 1652.9 345.2 1653.3 345.3 1653.7 345.3 1654.1 345.2 1654.5 345.2 1654.9 345.1 1655.3 345 1655.7 344.8 1656.1 344.7 1656.5 344.6 1656.7 344.5 1656.9 344.4 1657.3 344.2 1657.7 344 1658.1 343.6 1658.5 343.3 1658.9 342.9 1659.3 342.5 1659.7 342 1660.1 341.5 1660.5 341.1 1660.9 340.6 1661.3 340.1 1661.7 339.7 1662.1 339.2 1662.5 338.8 1662.9 338.4 1663.3 338.1 1663.7 337.8 1664.1 337.5 1664.5 337.4 1664.9 337.2 1665.3 337.2 1665.7 337.2 1666.1 337.3 1666.5 337.4 1666.9 337.6 1667.3 337.8 1667.7 338.1 1668.1 338.4 1668.5 338.7 1668.9 339.1 1669.3 339.5 1669.7 339.9 1670.1 340.4 1670.5 340.8 1670.9 341.3 1671.3 341.8 1671.7 342.3 1672.1 342.8 1672.5 343.4 1672.9 343.9 1673.3 344.4 1673.7 345 1674.1 345.5 1674.5 346 1674.9 346.5 1675.3 347 1675.7 347.5 1676.1 347.9 1676.5 348.4 1676.9 348.8 1677.3 349.2 1677.7 349.7 1678.1 350.1 1678.5 350.6 1678.9 351.1 1679.3 351.6 1679.7 352.1 1680.1 352.6 1680.5 353.2 1680.9 353.7 1681.3 354.2 1681.7 354.8 1682.1 355.3 1682.5 355.8 1682.9 356.3 1683.3 356.8 1683.7 357.2 1684.1 357.7 1684.5 358.1 1684.9 358.5 1685.3 358.9 1685.7 359.2 1686.1 359.5 1686.5 359.8 1686.9 360 1687.3 360.2 1687.7 360.3 1688.1 360.4 1688.5 360.4 1688.9 360.2 1689.3 359.7 1689.7 359 1690.1 358.1 1690.5 357 1690.9 355.9 1691.3 354.7 1691.7 353.6 1692.1 352.6 1692.5 351.7 1692.9 351 1693.3 350.6 1693.6 350.5 1694.1 351.7 1694.5 354.1 1694.9 357.1 1695.3 360.2 1695.7 363.1 1696.1 365.2 1696.5 366 1696.9 366 1697.3 366 1697.7 366 1698.1 365.9 1698.5 365.9 1698.9 365.9 1699.3 365.8 1699.7 365.8 1700.1 365.7 1700.5 365.7 1700.9 365.6 1701.3 365.5 1701.7 365.4 1702.1 365.3 1702.5 365.2 1702.9 365.1 1703.3 365 1703.7 364.8 1704.1 364.7 1704.5 364.6 1704.9 364.4 1705.3 364.2 1705.7 364.1 1706.1 363.9 1706.5 363.7 1706.9 363.5 1707.3 363.3 1707.7 362.8 1708.1 361.9 1708.5 360.7 1708.9 359.3 1709.3 357.8 1709.7 356.3 1710.1 355.1 1710.5 354.1 1710.9 353.6 1711.1 353.5 1711.3 353.7 1711.7 354.7 1712.1 356.7 1712.5 359.1 1712.9 361.8 1713.3 364.5 1713.7 366.9 1714.1 368.6 1714.5 369.5 1714.9 369.5 1715.3 369.5 1715.7 369.5 1716.1 369.4 1716.5 369.4 1716.9 369.4 1717.3 369.3 1717.7 369.3 1718.1 369.2 1718.5 369.1 1718.9 369.1 1719.3 369 1719.7 368.9 1720.1 368.8 1720.5 368.7 1720.9 368.6 1721.3 368.5 1721.7 368.4 1722.1 368.3 1722.5 368.2 1722.9 368.1 1723.3 368 1723.7 367.9 1724.1 367.7 1724.5 367.6 1724.9 367.5 1725.3 367.4 1725.7 367.3 1726.1 367.1 1726.5 367 1726.9 366.9 1727.3 366.7 1727.7 366.6 1728.1 366.5 1728.5 366.3 1728.9 366.2 1729.3 366 1729.7 365.8 1730.1 365.6 1730.5 365.4 1730.9 365.2 1731.3 365 1731.7 364.8 1732.1 364.5 1732.5 364.3 1732.9 364 1733.3 363.7 1733.7 363.4 1734.1 363.1 1734.5 362.8 1734.9 362.4 1735.3 362 1735.7 361.5 1736.1 360.9 1736.5 360.2 1736.9 359.5 1737.3 358.6 1737.7 357.7 1738 357 1738.5 355.6 1738.9 354.3 1739.3 352.8 1739.7 351.1 1740.1 349.3 1740.5 347.3 1740.9 345.3 1741.3 343.1 1741.7 340.8 1742.1 338.4 1742.5 335.9 1742.9 333.1 1743.3 330.1 1743.7 326.8 1744.1 323.3 1744.5 319.6 1744.9 315.8 1745.3 311.7 1745.7 307.5 1746.1 303.2 1746.3 301 1746.5 298.9 1746.9 295.1 1747.3 291.2 1747.7 286.2 1748.1 279.3 1748.4 272.4 1748.9 218.2 1749.3 159.2 1749.6 140 1750.1 140 1750.5 140 1750.9 140 1751.3 140 1751.7 140 1752.1 140 1752.5 140 1752.9 140 1753.3 140 1753.7 140 1754.1 140 1754.5 140 1754.9 140 1755.3 140 1755.7 140 1756.1 140 1756.5 140 1756.9 140 1757.3 155.8 1757.7 192.7 1758.1 235 1758.5 267.3 1758.9 282.5 1759.3 294.4 1759.7 304.1 1760.1 312.3 1760.5 319.3 1760.9 325.9 1761.3 332.1 1761.7 337.8 1762.1 342.7 1762.5 346.7 1762.9 349.5 1763.3 351.3 1763.7 352.8 1764.1 354.2 1764.5 355.4 1764.9 356.5 1765.3 357.4 1765.7 358.3 1766.1 359.1 1766.5 359.8 1766.9 360.4 1767.3 361 1767.6 361.5 1768.1 362.2 1768.5 362.8 1768.9 363.3 1769.3 363.8 1769.7 364.3 1770.1 364.7 1770.5 365.2 1770.9 365.6 1771.3 366 1771.7 366.4 1772.1 366.7 1772.5 367.1 1772.9 367.5 1773.3 367.8 1773.7 368.1 1774.1 368.5 1774.5 368.8 1774.9 369.1 1775.3 369.5 1775.7 369.8 1776.1 370.1 1776.5 370.4 1776.8 370.7 1777.3 371.1 1777.7 371.5 1778.1 371.8 1778.5 372.1 1778.9 372.4 1779.3 372.7 1779.7 373 1780.1 373.4 1780.5 373.7 1780.9 374 1781.3 374.2 1781.7 374.5 1782.1 374.8 1782.5 375.1 1782.9 375.4 1783.3 375.7 1783.7 376 1784.1 376.3 1784.5 376.5 1784.9 376.8 1785.3 377.1 1785.7 377.4 1786 377.6 1786.5 378 1786.9 378.2 1787.3 378.5 1787.7 378.8 1788.1 379.1 1788.5 379.4 1788.9 379.7 1789.3 380 1789.7 380.3 1790.1 380.6 1790.5 380.9 1790.9 381.2 1791.3 381.5 1791.7 381.8 1792.1 382.1 1792.5 382.4 1792.9 382.7 1793.3 382.9 1793.7 383.2 1794.1 383.5 1794.5 383.8 1794.9 384 1795.3 384.3 1795.7 384.6 1796.1 384.8 1796.5 385 1796.9 385.3 1797.3 385.5 1797.7 385.7 1798.1 386 1798.5 386.2 1798.9 386.4 1799.3 386.6 1799.7 386.8 1800.1 386.9 1800.5 387.1 1800.9 387.3 1801.3 387.4 1801.7 387.6 1802.1 387.7 1802.5 387.9 1802.9 388 1803.3 388.2 1803.7 388.3 1804.1 388.5 1804.5 388.6 1804.9 388.7 1805.3 388.9 1805.7 389 1806.1 389.1 1806.5 389.2 1806.9 389.4 1807.3 389.5 1807.7 389.6 1808.1 389.7 1808.5 389.8 1808.9 390 1809.3 390.1 1809.7 390.2 1810.1 390.3 1810.5 390.4 1810.9 390.6 1811.3 390.7 1811.7 390.8 1812.1 390.9 1812.5 391 1812.9 391.2 1813.3 391.3 1813.6 391.4 1814.1 391.6 1814.5 391.7 1814.9 391.8 1815.3 392 1815.7 392.1 1816.1 392.3 1816.5 392.5 1816.9 392.6 1817.3 392.8 1817.7 392.9 1818.1 393.1 1818.5 393.3 1818.9 393.4 1819.3 393.6 1819.7 393.7 1820.1 393.9 1820.5 394.1 1820.9 394.2 1821.3 394.4 1821.7 394.6 1822.1 394.7 1822.5 394.9 1822.9 395 1823.3 395.2 1823.7 395.3 1824.1 395.5 1824.5 395.6 1824.9 395.8 1825.3 395.9 1825.7 396 1826.1 396.2 1826.5 396.3 1826.9 396.4 1827.3 396.5 1827.7 396.6 1828.1 396.7 1828.5 396.8 1828.9 396.9 1829.3 397 1829.7 397.1 1830.1 397.2 1830.5 397.2 1830.9 397.3 1831.3 397.3 1831.7 397.4 1832 397.4 1832.5 397.4 1832.9 397.5 1833.3 397.5 1833.7 397.5 1834.1 397.5 1834.5 397.6 1834.9 397.6 1835.3 397.6 1835.7 397.6 1836.1 397.7 1836.5 397.7 1836.9 397.7 1837.3 397.7 1837.7 397.8 1838.1 397.8 1838.5 397.8 1838.9 397.8 1839.3 397.8 1839.7 397.9 1840.1 397.9 1840.5 397.9 1840.9 397.9 1841.3 397.9 1841.7 398 1842.1 398 1842.5 398 1842.9 398 1843.3 398 1843.7 398 1844.1 398.1 1844.5 398.1 1844.9 398.1 1845.3 398.1 1845.7 398.1 1846.1 398.1 1846.5 398.1 1846.9 398.2 1847.3 398.2 1847.7 398.2 1848.1 398.2 1848.5 398.2 1848.9 398.2 1849.3 398.2 1849.7 398.2 1850.1 398.2 1850.5 398.2 1850.9 398.3 1851.3 398.3 1851.7 398.3 1852.1 398.3 1852.5 398.3 1852.9 398.3 1853.3 398.3 1853.7 398.3 1854.1 398.3 1854.5 398.3 1854.9 398.3 1855.3 398.3 1855.7 398.3 1856.1 398.3 1856.5 398.3 1856.9 398.3 1857.3 398.3 1857.7 398.3 1858.1 398.3 1858.5 398.3 1858.9 398.3 1859.3 398.3 1859.7 398.3 1860.1 398.3 1860.5 398.3 1860.9 398.3 1861.3 398.3 1861.7 398.3 1862.1 398.3 1862.5 398.3 1862.9 398.3 1863.3 398.3 1863.7 398.4 1864.1 398.4 1864.5 398.4 1864.9 398.4 1865.3 398.4 1865.7 398.4 1866.1 398.4 1866.5 398.4 1866.9 398.4 1867.3 398.4 1867.7 398.4 1868.1 398.4 1868.5 398.4 1868.9 398.4 1869.3 398.4 1869.7 398.4 1870.1 398.4 1870.5 398.4 1870.9 398.4 1871.3 398.4 1871.7 398.4 1872.1 398.4 1872.5 398.4 1872.9 398.4 1873.3 398.4 1873.7 398.4 1874.1 398.4 1874.5 398.4 1874.9 398.4 1875.3 398.4 1875.7 398.4 1876.1 398.4 1876.5 398.4 1876.9 398.4 1877.3 398.4 1877.7 398.4 1878.1 398.4 1878.5 398.4 1878.9 398.4 1879.3 398.4 1879.7 398.4 1880.1 398.4 1880.5 398.4 1880.9 398.4 1881.3 398.4 1881.7 398.4 1882.1 398.4 1882.5 398.4 1882.9 398.4 1883.3 398.4 1883.7 398.4 1884.1 398.4 1884.5 398.4 1884.9 398.4 1885.3 398.4 1885.7 398.4 1886.1 398.4 1886.5 398.4 1886.9 398.4 1887.3 398.4 1887.7 398.4 1888.1 398.5 1888.5 398.5 1888.9 398.5 1889.3 398.5 1889.7 398.5 1890.1 398.5 1890.5 398.5 1890.9 398.5 1891.3 398.5 1891.7 398.5 1892.1 398.5 1892.5 398.5 1892.9 398.5 1893.3 398.5 1893.7 398.5 1894.1 398.5 1894.5 398.5 1894.9 398.5 1895.3 398.5 1895.7 398.5 1896.1 398.5 1896.5 398.5 1896.9 398.5 1897.3 398.5 1897.7 398.5 1898.1 398.5 1898.5 398.5 1898.9 398.5 1899.3 398.5 1899.7 398.5 1900.1 398.5 1900.5 398.5 1900.9 398.5 1901.3 398.5 1901.7 398.5 1902.1 398.5 1902.5 398.5 1902.9 398.5 1903.3 398.5 1903.7 398.5 1904.1 398.5 1904.5 398.5 1904.9 398.5 1905.3 398.5 1905.7 398.5 1906.1 398.5 1906.5 398.5 1906.9 398.5 1907.3 398.5 1907.7 398.5 1908.1 398.5 1908.5 398.5 1908.9 398.5 1909.3 398.5 1909.7 398.5 1910.1 398.5 1910.5 398.5 1910.9 398.5 1911.3 398.5 1911.7 398.5 1912.1 398.5 1912.5 398.5 1912.9 398.5 1913.3 398.5 1913.7 398.5 1914.1 398.5 1914.5 398.5 1914.9 398.5 1915.3 398.5 1915.7 398.5 1916.1 398.5 1916.5 398.5 1916.9 398.5 1917.3 398.5 1917.7 398.5 1918.1 398.5 1918.5 398.5 1918.9 398.5 1919.3 398.5 1919.7 398.5 1920.1 398.5 1920.5 398.5 1920.9 398.5 1921.3 398.5 1921.7 398.5 1922.1 398.5 1922.5 398.5 1922.9 398.5 1923.3 398.5 1923.7 398.5 1923.9 398.5 1924.1 398.5 1924.5 398.5 1924.9 398.5 1925.3 398.5 1925.7 398.5 1926.1 398.5 1926.5 398.5 1926.9 398.5 1927.3 398.5 1927.7 398.5 1928.1 398.5 1928.5 398.5 1928.9 398.5 1929.3 398.5 1929.7 398.5 1930.1 398.5 1930.5 398.5 1930.9 398.5 1931.3 398.5 1931.7 398.5 1932.1 398.5 1932.5 398.5 1932.9 398.5 1933.3 398.5 1933.7 398.5 1934.1 398.5 1934.5 398.5 1934.9 398.5 1935.3 398.5 1935.7 398.5 1936.1 398.5 1936.5 398.5 1936.9 398.5 1937.3 398.5 1937.7 398.5 1938.1 398.5 1938.5 398.5 1938.9 398.5 1939.3 398.5 1939.7 398.5 1940.1 398.5 1940.5 398.5 1940.9 398.5 1941.3 398.5 1941.7 398.5 1942.1 398.5 1942.5 398.5 1942.9 398.5 1943.3 398.5 1943.7 398.5 1944.1 398.5 1944.5 398.5 1944.9 398.5 1945.3 398.5 1945.7 398.5 1946.1 398.5 1946.5 398.5 1946.9 398.5 1947.3 398.5 1947.7 398.5 1948.1 398.5 1948.5 398.5 1948.9 398.5 1949.3 398.5 1949.7 398.5 1950.1 398.5 1950.5 398.5 1950.9 398.5 1951.3 398.5 1951.7 398.5 1952.1 398.5 1952.5 398.5 1952.9 398.5 1953.3 398.5 1953.7 398.5 1954.1 398.5 1954.5 398.5 1954.9 398.5 1955.3 398.5 1955.7 398.5 1956.1 398.5 1956.5 398.5 1956.9 398.5 1957.3 398.5 1957.7 398.5 1958.1 398.5 1958.5 398.5 1958.9 398.5 1959.3 398.5 1959.7 398.5 1960.1 398.5 1960.5 398.5 1960.9 398.5 1961.3 398.5 1961.7 398.5 1962.1 398.5 1962.5 398.5 1962.9 398.5 1963.3 398.5 1963.7 398.5 1964.1 398.5 1964.5 398.5 1964.9 398.5 1965.3 398.5 1965.7 398.5 1966.1 398.5 1966.5 398.5 1966.9 398.5 1967.3 398.5 1967.7 398.5 1968.1 398.5 1968.5 398.5 1968.9 398.5 1969.3 398.5 1969.7 398.5 1969.9 398.5 1970.1 398.5 1970.5 398.5 1970.9 398.5 1971.3 398.5 1971.7 398.5 1972.1 398.5 1972.5 398.4 1972.9 398.4 1973.3 398.4 1973.7 398.4 1974.1 398.4 1974.5 398.3 1974.9 398.3 1975.3 398.2 1975.7 398.2 1976.1 398.2 1976.5 398.1 1976.9 398.1 1977.3 398 1977.7 397.9 1978.1 397.9 1978.5 397.8 1978.9 397.7 1979.3 397.6 1979.7 397.6 1980 397.5 1980.5 397.1 1980.9 396.5 1981.3 395.7 1981.7 394.9 1982.1 394.3 1982.5 393.8 1982.8 393.7 1983.3 394 1983.7 394.6 1984.1 395.3 1984.5 396.1 1984.9 396.8 1985.3 397.4 1985.5 397.5 1985.7 397.6 1986.1 397.8 1986.5 397.9 1986.9 398.1 1987.3 398.2 1987.7 398.3 1988.1 398.3 1988.3 398.3 1988.5 398.3 1988.9 398.3 1989.3 398.2 1989.7 398.1 1990.1 397.9 1990.5 397.7 1990.9 397.5 1991.3 397.3 1991.7 397 1992.1 396.6 1992.5 396.2 1992.9 395.8 1993.3 395.4 1993.7 394.9 1994.1 394.3 1994.5 393.8 1994.9 393.2 1995.3 392.3 1995.7 390.9 1996.1 388.7 1996.5 385.9 1996.9 382.3 1997.3 377.9 1997.7 372.8 1998.1 366.8 1998.5 360 1998.9 343.9 1999.3 317.6 1999.7 292.6 2000.1 275.5 2000.5 260.4 2000.9 247 2001.3 235.2 2001.5 230 2001.7 224.8 2002.1 214.2 2002.5 204.3 2002.9 196.7 2003.3 193 2003.7 193.8 2004.1 198.2 2004.5 205.9 2004.9 216.8 2005.3 251.2 2005.7 300 2006.1 317.1 2006.5 330.5 2006.9 341 2007.3 349.2 2007.7 355.8 2008 360 2008.5 366.5 2008.9 371.4 2009.3 375.8 2009.7 379.7 2010.1 383 2010.5 385.7 2010.9 387.8 2011.3 389.1 2011.7 390 2012.1 390.8 2012.5 391.4 2012.9 392.1 2013.3 392.6 2013.7 393.1 2014.1 393.5 2014.5 393.9 2014.9 394.2 2015.3 394.5 2015.7 394.8 2016 395 2016.5 395.3 2016.9 395.5 2017.3 395.8 2017.7 396 2018.1 396.2 2018.5 396.4 2018.9 396.6 2019.3 396.8 2019.7 397 2020.1 397.1 2020.5 397.3 2020.9 397.4 2021.3 397.6 2021.7 397.7 2022.1 397.8 2022.5 397.9 2022.9 398 2023.3 398.1 2023.7 398.2 2024.1 398.2 2024.5 398.3 2024.9 398.3 2025.3 398.3 2025.7 398.3 2026.1 398.3 2026.5 398.4 2026.9 398.4 2027.3 398.4 2027.7 398.4 2028.1 398.4 2028.5 398.4 2028.9 398.5 2029.3 398.5 2029.7 398.5 2030.1 398.5 2030.5 398.5 2030.9 398.5 2031.3 398.5 2031.7 398.6 2032.1 398.6 2032.5 398.6 2032.9 398.6 2033.3 398.6 2033.7 398.6 2034.1 398.6 2034.5 398.7 2034.9 398.7 2035.3 398.7 2035.7 398.7 2036.1 398.7 2036.5 398.7 2036.9 398.7 2037.3 398.7 2037.7 398.8 2038.1 398.8 2038.5 398.8 2038.9 398.8 2039.3 398.8 2039.7 398.8 2040.1 398.8 2040.5 398.8 2040.9 398.9 2041.3 398.9 2041.7 398.9 2042.1 398.9 2042.5 398.9 2042.9 398.9 2043.3 398.9 2043.7 398.9 2044.1 399 2044.5 399 2044.9 399 2045.3 399 2045.7 399 2046.1 399 2046.5 399 2046.9 399 2047.3 399 2047.7 399 2048.1 399.1 2048.5 399.1 2048.9 399.1 2049.3 399.1 2049.7 399.1 2050.1 399.1 2050.5 399.1 2050.9 399.1 2051.3 399.1 2051.7 399.1 2052.1 399.2 2052.5 399.2 2052.9 399.2 2053.3 399.2 2053.7 399.2 2054.1 399.2 2054.5 399.2 2054.9 399.2 2055.3 399.2 2055.7 399.2 2056.1 399.2 2056.5 399.2 2056.9 399.3 2057.3 399.3 2057.7 399.3 2058.1 399.3 2058.5 399.3 2058.9 399.3 2059.3 399.3 2059.7 399.3 2060.1 399.3 2060.5 399.3 2060.9 399.3 2061.3 399.3 2061.7 399.3 2062.1 399.3 2062.5 399.4 2062.9 399.4 2063.3 399.4 2063.7 399.4 2064.1 399.4 2064.5 399.4 2064.9 399.4 2065.3 399.4 2065.7 399.4 2066.1 399.4 2066.5 399.4 2066.9 399.4 2067.3 399.4 2067.7 399.4 2068.1 399.4 2068.5 399.4 2068.9 399.5 2069.3 399.5 2069.7 399.5 2070.1 399.5 2070.5 399.5 2070.9 399.5 2071.3 399.5 2071.7 399.5 2072.1 399.5 2072.5 399.5 2072.9 399.5 2073.3 399.5 2073.7 399.5 2074.1 399.5 2074.5 399.5 2074.9 399.5 2075.3 399.5 2075.7 399.5 2076.1 399.5 2076.5 399.5 2076.9 399.5 2077.3 399.6 2077.7 399.6 2078.1 399.6 2078.5 399.6 2078.9 399.6 2079.3 399.6 2079.7 399.6 2080.1 399.6 2080.5 399.6 2080.9 399.6 2081.3 399.6 2081.7 399.6 2082.1 399.6 2082.5 399.6 2082.9 399.6 2083.3 399.6 2083.7 399.6 2084.1 399.6 2084.5 399.6 2084.9 399.6 2085.3 399.6 2085.7 399.6 2086.1 399.6 2086.5 399.6 2086.9 399.6 2087.3 399.6 2087.7 399.6 2088.1 399.6 2088.5 399.6 2088.9 399.6 2089.3 399.6 2089.7 399.6 2090.1 399.6 2090.5 399.7 2090.9 399.7 2091.3 399.7 2091.7 399.7 2092.1 399.7 2092.5 399.7 2092.9 399.7 2093.3 399.7 2093.7 399.7 2094.1 399.7 2094.5 399.7 2094.9 399.7 2095.3 399.7 2095.7 399.7 2096.1 399.7 2096.5 399.7 2096.9 399.7 2097.3 399.7 2097.7 399.7 2098.1 399.7 2098.5 399.7 2098.9 399.7 2099.3 399.7 2099.7 399.7 2100.1 399.7 2100.5 399.7 2100.9 399.7 2101.3 399.7 2101.7 399.7 2102.1 399.7 2102.5 399.7 2102.9 399.7 2103.3 399.7 2103.7 399.7 2104.1 399.7 2104.5 399.7 2104.9 399.7 2105.3 399.7 2105.7 399.7 2106.1 399.7 2106.5 399.7 2106.9 399.7 2107.3 399.7 2107.7 399.7 2108.1 399.7 2108.5 399.7 2108.9 399.7 2109.3 399.7 2109.7 399.7 2110.1 399.7 2110.5 399.7 2110.9 399.7 2111.3 399.7 2111.7 399.7" fill="none" stroke="#d85a24" stroke-width="2.6" stroke-linejoin="round" clip-path="url(#clipBot)"/>
<path d="M1157.4 466.3 1157.8 466.4 1158.2 466.4 1158.6 466.5 1159 466.6 1159.4 466.6 1159.8 466.7 1160.2 466.8 1160.6 466.8 1161 466.9 1161.4 467 1161.8 467 1162.2 467.1 1162.6 467.2 1163 467.2 1163.4 467.3 1163.8 467.4 1164.2 467.4 1164.6 467.5 1165 467.6 1165.4 467.6 1165.8 467.7 1166.2 467.8 1166.6 467.8 1167 467.9 1167.4 468 1167.8 468 1168.2 468.1 1168.6 468.2 1169 468.2 1169.4 468.3 1169.8 468.4 1170.2 468.4 1170.6 468.5 1171 468.6 1171.4 468.6 1171.8 468.7 1172.2 468.8 1172.6 468.8 1173 468.9 1173.4 468.9 1173.8 469 1174.2 469.1 1174.6 469.1 1175 469.2 1175.4 469.3 1175.8 469.3 1176.2 469.4 1176.6 469.5 1177 469.5 1177.4 469.6 1177.8 469.7 1178.2 469.7 1178.6 469.8 1179 469.8 1179.4 469.9 1179.8 470 1180.2 470 1180.6 470.1 1181 470.2 1181.4 470.2 1181.8 470.3 1182.2 470.4 1182.6 470.4 1183 470.5 1183.4 470.5 1183.8 470.6 1184.2 470.7 1184.6 470.7 1185 470.8 1185.4 470.9 1185.8 470.9 1186.2 471 1186.6 471.1 1186.9 471.1 1187.4 471.2 1187.8 471.2 1188.2 471.3 1188.6 471.4 1189 471.4 1189.4 471.5 1189.8 471.6 1190.2 471.6 1190.6 471.7 1191 471.8 1191.4 471.8 1191.8 471.9 1192.2 471.9 1192.6 472 1193 472.1 1193.4 472.1 1193.8 472.2 1194.2 472.3 1194.6 472.3 1195 472.4 1195.4 472.5 1195.8 472.5 1196.2 472.6 1196.6 472.7 1197 472.7 1197.4 472.8 1197.8 472.9 1198.2 472.9 1198.6 473 1199 473 1199.4 473.1 1199.8 473.2 1200.2 473.2 1200.6 473.3 1201 473.4 1201.4 473.4 1201.8 473.5 1202.2 473.6 1202.6 473.6 1203 473.7 1203.4 473.7 1203.8 473.8 1204.2 473.9 1204.6 473.9 1205 474 1205.4 474.1 1205.8 474.1 1206.2 474.2 1206.6 474.2 1207 474.3 1207.4 474.4 1207.8 474.4 1208.2 474.5 1208.6 474.5 1209 474.6 1209.4 474.7 1209.8 474.7 1210.2 474.8 1210.6 474.8 1211 474.9 1211.4 474.9 1211.8 475 1212.2 475.1 1212.6 475.1 1213 475.2 1213.4 475.2 1213.8 475.3 1214.2 475.3 1214.6 475.4 1215 475.4 1215.4 475.5 1215.8 475.5 1216.2 475.6 1216.6 475.6 1217 475.7 1217.4 475.7 1217.8 475.8 1218.2 475.8 1218.6 475.9 1219 475.9 1219.4 476 1219.8 476 1220.2 476.1 1220.6 476.1 1221 476.2 1221.4 476.2 1221.8 476.3 1222.2 476.3 1222.6 476.4 1223 476.4 1223.4 476.4 1223.8 476.5 1224.2 476.5 1224.6 476.6 1225 476.6 1225.4 476.7 1225.8 476.7 1226.2 476.8 1226.6 476.8 1227 476.9 1227.4 476.9 1227.8 476.9 1228.2 477 1228.6 477 1229 477.1 1229.4 477.1 1229.8 477.2 1230.2 477.2 1230.6 477.2 1231 477.3 1231.4 477.3 1231.8 477.4 1232.2 477.4 1232.6 477.5 1233 477.5 1233.4 477.5 1233.8 477.6 1234.2 477.6 1234.6 477.7 1235 477.7 1235.4 477.7 1235.8 477.8 1236.2 477.8 1236.6 477.8 1237 477.9 1237.4 477.9 1237.8 478 1238.2 478 1238.6 478 1239 478.1 1239.4 478.1 1239.8 478.1 1240.2 478.2 1240.6 478.2 1241 478.3 1241.4 478.3 1241.8 478.3 1242.2 478.4 1242.6 478.4 1243 478.4 1243.4 478.5 1243.8 478.5 1244.2 478.5 1244.6 478.6 1245 478.6 1245.4 478.6 1245.8 478.7 1246.2 478.7 1246.6 478.7 1247 478.7 1247.4 478.8 1247.8 478.8 1248.2 478.8 1248.6 478.9 1249 478.9 1249.4 478.9 1249.8 478.9 1250.2 479 1250.6 479 1251 479 1251.4 479.1 1251.8 479.1 1252.2 479.1 1252.6 479.1 1253 479.2 1253.4 479.2 1253.8 479.2 1254.2 479.2 1254.6 479.3 1255 479.3 1255.4 479.3 1255.8 479.3 1256.2 479.3 1256.6 479.4 1257 479.4 1257.4 479.4 1257.8 479.4 1258.2 479.5 1258.6 479.5 1259 479.5 1259.4 479.5 1259.8 479.6 1260.2 479.6 1260.6 479.6 1261 479.6 1261.4 479.6 1261.8 479.7 1262.2 479.7 1262.6 479.7 1263 479.7 1263.4 479.7 1263.8 479.8 1264.2 479.8 1264.6 479.8 1265 479.8 1265.4 479.8 1265.8 479.9 1266.2 479.9 1266.6 479.9 1267 479.9 1267.4 479.9 1267.8 480 1268.2 480 1268.6 480 1269 480 1269.4 480 1269.8 480.1 1270.2 480.1 1270.6 480.1 1271 480.1 1271.4 480.1 1271.8 480.1 1272.2 480.2 1272.6 480.2 1273 480.2 1273.4 480.2 1273.8 480.2 1274.2 480.3 1274.6 480.3 1275 480.3 1275.4 480.3 1275.8 480.3 1276.2 480.3 1276.6 480.4 1277 480.4 1277.4 480.4 1277.8 480.4 1278.2 480.4 1278.6 480.4 1279 480.5 1279.4 480.5 1279.8 480.5 1280.2 480.5 1280.6 480.5 1281 480.5 1281.4 480.6 1281.8 480.6 1282.2 480.6 1282.5 480.6 1283 480.6 1283.4 480.6 1283.8 480.7 1284.2 480.7 1284.6 480.7 1285 480.7 1285.4 480.7 1285.8 480.7 1286.2 480.7 1286.6 480.8 1287 480.8 1287.4 480.8 1287.8 480.8 1288.2 480.8 1288.6 480.8 1289 480.9 1289.4 480.9 1289.8 480.9 1290.2 480.9 1290.6 480.9 1291 480.9 1291.4 480.9 1291.8 481 1292.2 481 1292.6 481 1293 481 1293.4 481 1293.8 481 1294.2 481 1294.6 481.1 1295 481.1 1295.4 481.1 1295.8 481.1 1296.2 481.1 1296.6 481.1 1297 481.1 1297.4 481.2 1297.8 481.2 1298.2 481.2 1298.6 481.2 1299 481.2 1299.4 481.2 1299.8 481.2 1300.2 481.3 1300.6 481.3 1301 481.3 1301.4 481.3 1301.8 481.3 1302.2 481.3 1302.6 481.3 1303 481.4 1303.4 481.4 1303.8 481.4 1304.2 481.4 1304.6 481.4 1305 481.4 1305.4 481.4 1305.8 481.4 1306.2 481.5 1306.6 481.5 1307 481.5 1307.4 481.5 1307.8 481.5 1308.2 481.5 1308.6 481.5 1309 481.5 1309.4 481.6 1309.8 481.6 1310.2 481.6 1310.6 481.6 1311 481.6 1311.4 481.6 1311.8 481.6 1312.2 481.6 1312.6 481.7 1313 481.7 1313.4 481.7 1313.8 481.7 1314.2 481.7 1314.6 481.7 1315 481.7 1315.4 481.7 1315.8 481.7 1316.2 481.8 1316.6 481.8 1317 481.8 1317.4 481.8 1317.8 481.8 1318.2 481.8 1318.6 481.8 1319 481.8 1319.4 481.8 1319.8 481.9 1320.2 481.9 1320.6 481.9 1321 481.9 1321.4 481.9 1321.8 481.9 1322.2 481.9 1322.6 481.9 1323 481.9 1323.4 482 1323.8 482 1324.2 482 1324.6 482 1325 482 1325.4 482 1325.8 482 1326.2 482 1326.6 482 1327 482 1327.4 482.1 1327.8 482.1 1328.2 482.1 1328.6 482.1 1329 482.1 1329.4 482.1 1329.8 482.1 1330.2 482.1 1330.6 482.1 1331 482.1 1331.4 482.2 1331.8 482.2 1332.2 482.2 1332.6 482.2 1333 482.2 1333.4 482.2 1333.8 482.2 1334.2 482.2 1334.6 482.2 1335 482.2 1335.4 482.2 1335.8 482.3 1336.2 482.3 1336.6 482.3 1337 482.3 1337.4 482.3 1337.8 482.3 1338.2 482.3 1338.6 482.3 1339 482.3 1339.4 482.3 1339.8 482.4 1340.2 482.4 1340.6 482.4 1341 482.4 1341.4 482.4 1341.8 482.4 1342.2 482.4 1342.6 482.4 1343 482.4 1343.4 482.4 1343.8 482.4 1344.2 482.5 1344.6 482.5 1345 482.5 1345.4 482.5 1345.8 482.5 1346.2 482.5 1346.6 482.5 1347 482.5 1347.4 482.5 1347.8 482.5 1348.2 482.5 1348.6 482.6 1349 482.6 1349.4 482.6 1349.8 482.6 1350.2 482.6 1350.6 482.6 1351 482.6 1351.4 482.6 1351.8 482.6 1352.2 482.6 1352.6 482.7 1353 482.7 1353.4 482.7 1353.8 482.7 1354.2 482.7 1354.6 482.7 1355 482.7 1355.4 482.7 1355.8 482.7 1356.2 482.8 1356.6 482.8 1357 482.8 1357.4 482.8 1357.8 482.8 1358.2 482.8 1358.6 482.8 1359 482.8 1359.4 482.8 1359.8 482.9 1360.2 482.9 1360.6 482.9 1361 482.9 1361.4 482.9 1361.8 482.9 1362.2 482.9 1362.6 482.9 1363 482.9 1363.4 483 1363.8 483 1364.2 483 1364.6 483 1365 483 1365.4 483 1365.8 483 1366.2 483 1366.6 483 1367 483.1 1367.4 483.1 1367.8 483.1 1368.2 483.1 1368.6 483.1 1369 483.1 1369.4 483.1 1369.8 483.1 1370.2 483.1 1370.6 483.1 1371 483.2 1371.4 483.2 1371.8 483.2 1372.2 483.2 1372.6 483.2 1373 483.2 1373.4 483.2 1373.8 483.2 1374.2 483.2 1374.6 483.2 1375 483.3 1375.4 483.3 1375.8 483.3 1376.2 483.3 1376.6 483.3 1377 483.3 1377.4 483.3 1377.8 483.3 1378.2 483.3 1378.6 483.3 1379 483.3 1379.4 483.3 1379.8 483.4 1380.2 483.4 1380.6 483.4 1381 483.4 1381.4 483.4 1381.8 483.4 1382.2 483.4 1382.6 483.4 1383 483.4 1383.4 483.4 1383.8 483.4 1384.2 483.4 1384.6 483.4 1385 483.4 1385.4 483.4 1385.8 483.4 1386.2 483.5 1386.6 483.5 1387 483.5 1387.4 483.5 1387.8 483.5 1388.2 483.5 1388.6 483.5 1389 483.5 1389.4 483.5 1389.8 483.5 1390.2 483.5 1390.6 483.5 1391 483.5 1391.4 483.5 1391.8 483.5 1392.2 483.5 1392.6 483.5 1393 483.5 1393.4 483.5 1393.8 483.5 1394 483.5 1394.2 483.5 1394.6 483.5 1395 483.5 1395.4 483.5 1395.8 483.5 1396.2 483.5 1396.6 483.5 1397 483.5 1397.4 483.5 1397.8 483.5 1398.2 483.5 1398.6 483.5 1399 483.5 1399.4 483.5 1399.8 483.5 1400.2 483.5 1400.6 483.5 1401 483.5 1401.4 483.5 1401.8 483.5 1402.2 483.5 1402.6 483.5 1403 483.5 1403.4 483.5 1403.8 483.5 1404.2 483.5 1404.6 483.5 1405 483.5 1405.4 483.5 1405.8 483.5 1406.2 483.5 1406.6 483.5 1407 483.5 1407.4 483.5 1407.8 483.5 1408.2 483.4 1408.6 483.4 1409 483.4 1409.4 483.4 1409.8 483.4 1410.2 483.4 1410.6 483.4 1411 483.4 1411.4 483.4 1411.8 483.4 1412.2 483.4 1412.6 483.4 1413 483.4 1413.4 483.4 1413.8 483.4 1414.2 483.4 1414.6 483.4 1415 483.4 1415.4 483.4 1415.8 483.3 1416.2 483.3 1416.6 483.3 1417 483.3 1417.4 483.3 1417.8 483.3 1418 483.3 1418.2 483.3 1418.6 483.2 1419 483 1419.4 482.7 1419.8 482.5 1420.2 482.2 1420.6 482.1 1421 482 1421.4 482.1 1421.8 482.2 1422.2 482.5 1422.6 482.8 1423 483 1423.4 483.3 1423.8 483.4 1424 483.4 1424.2 483.4 1424.6 483.4 1425 483.4 1425.4 483.4 1425.8 483.4 1426.2 483.4 1426.6 483.4 1427 483.4 1427.4 483.4 1427.8 483.4 1428.2 483.4 1428.6 483.4 1429 483.4 1429.4 483.4 1429.8 483.4 1430.2 483.4 1430.6 483.4 1431 483.4 1431.4 483.4 1431.8 483.4 1432.2 483.4 1432.6 483.4 1433 483.4 1433.4 483.4 1433.8 483.4 1434.2 483.4 1434.6 483.4 1435 483.4 1435.4 483.4 1435.8 483.4 1436.2 483.4 1436.6 483.3 1437 483.3 1437.4 483.3 1437.8 483.3 1438.2 483.3 1438.6 483.3 1439 483.3 1439.4 483.3 1439.8 483.3 1440.2 483.3 1440.6 483.3 1441 483.3 1441.4 483.3 1441.8 483.3 1442.2 483.3 1442.6 483.3 1443 483.3 1443.4 483.3 1443.8 483.3 1444.2 483.3 1444.6 483.3 1445 483.3 1445.4 483.3 1445.8 483.3 1446.2 483.3 1446.6 483.3 1447 483.3 1447.4 483.2 1447.8 483.2 1448.2 483.2 1448.6 483.2 1449 483.2 1449.4 483.2 1449.8 483.2 1450.2 483.2 1450.6 483.2 1451 483.2 1451.4 483.2 1451.8 483.2 1452.2 483.2 1452.6 483.2 1453 483.2 1453.4 483.2 1453.8 483.2 1454.2 483.2 1454.6 483.2 1455 483.2 1455.4 483.2 1455.8 483.2 1456.2 483.2 1456.6 483.2 1457 483.1 1457.4 483.1 1457.8 483.1 1458.2 483.1 1458.6 483.1 1459 483.1 1459.4 483.1 1459.8 483.1 1460.2 483.1 1460.6 483.1 1461 483.1 1461.4 483.1 1461.8 483.1 1462.2 483.1 1462.6 483.1 1463 483.1 1463.4 483.1 1463.8 483.1 1464.2 483.1 1464.6 483.1 1465 483.1 1465.4 483.1 1465.8 483.1 1466.2 483.1 1466.6 483.1 1467 483.1 1467.4 483.1 1467.8 483 1468.2 483 1468.6 483 1469 483 1469.4 483 1469.8 483 1470.2 483 1470.6 483 1471 483 1471.4 483 1471.8 483 1472.2 483 1472.6 483 1473 483 1473.4 483 1473.8 483 1474.2 483 1474.6 483 1475 483 1475.4 483 1475.8 483 1476.2 483 1476.6 483 1477 483 1477.4 483 1477.8 483 1478.2 483 1478.6 483 1479 483 1479.4 483 1479.8 483 1480 483 1480.2 483 1480.6 483 1481 483 1481.4 483 1481.8 483 1482.2 483 1482.6 483 1483 483 1483.4 483 1483.8 483 1484.2 483 1484.6 483 1485 483 1485.4 483 1485.8 483 1486.2 483 1486.6 483 1487 483 1487.4 483 1487.8 483 1488.2 483 1488.6 483 1489 483 1489.4 483 1489.8 483 1490.2 483 1490.6 483 1491 483 1491.4 483 1491.8 483 1492.2 483 1492.6 483 1493 483 1493.4 483 1493.8 483 1494.2 483 1494.6 483 1495 483 1495.4 483 1495.8 483 1496.2 483 1496.6 483 1497 483 1497.4 483 1497.8 483 1498.2 483 1498.6 483 1499 483 1499.4 483 1499.8 483 1500.2 483 1500.6 483 1501 483 1501.4 483 1501.8 483 1502.2 483 1502.6 483 1503 483 1503.4 483 1503.8 483 1504.2 483 1504.6 483 1505 483 1505.4 483 1505.8 483 1506.2 483 1506.6 483 1507 483 1507.4 483 1507.8 483 1508 483 1508.2 483 1508.6 482.9 1509 482.8 1509.4 482.6 1509.8 482.3 1510.2 481.9 1510.6 481.5 1511 481 1511.4 479.3 1511.8 475.5 1512.2 470.3 1512.6 464.2 1513 457.7 1513.4 451.5 1513.8 445 1514.2 437.1 1514.6 429.7 1515 425 1515.4 422.5 1515.8 420.5 1516.2 419.8 1516.6 420.4 1517 422 1517.4 424.4 1517.8 428.5 1518.2 436.8 1518.6 446.5 1519 455 1519.4 462.5 1519.8 469.9 1520.2 475.7 1520.5 478 1521 479.7 1521.4 480.7 1521.8 481.5 1522.2 481.9 1522.5 482 1523 481.5 1523.4 480.5 1523.8 479.2 1524.2 477.9 1524.5 477 1525 475.3 1525.4 473.9 1525.8 472.6 1526.2 471.9 1526.6 472.3 1527 473.7 1527.4 475.6 1527.8 477.3 1528 478 1528.2 478.6 1528.6 479.8 1529 480.9 1529.4 481.9 1529.8 482.4 1530 482.5 1530.2 482.5 1530.6 482.5 1531 482.5 1531.4 482.5 1531.8 482.5 1532.2 482.5 1532.6 482.5 1533 482.5 1533.4 482.5 1533.8 482.5 1534.2 482.5 1534.6 482.5 1535 482.5 1535.4 482.5 1535.8 482.5 1536.2 482.5 1536.6 482.5 1537 482.5 1537.4 482.5 1537.8 482.5 1538.2 482.5 1538.6 482.5 1539 482.5 1539.4 482.5 1539.8 482.5 1540.2 482.5 1540.6 482.5 1541 482.5 1541.4 482.5 1541.8 482.5 1542.2 482.5 1542.6 482.5 1543 482.5 1543.4 482.5 1543.8 482.5 1544.2 482.5 1544.6 482.5 1545 482.5 1545.4 482.5 1545.8 482.5 1546.2 482.5 1546.6 482.5 1547 482.5 1547.4 482.5 1547.8 482.5 1548.2 482.5 1548.6 482.5 1549 482.5 1549.4 482.5 1549.8 482.5 1550 482.5 1550.2 482.5 1550.6 482.4 1551 482.3 1551.4 482.1 1551.8 481.8 1552.2 481.6 1552.6 481.3 1553 481.1 1553.4 480.9 1553.8 480.7 1554.2 480.6 1554.6 480.5 1555 480.5 1555.4 480.7 1555.8 481 1556.2 481.4 1556.6 481.7 1557 482.1 1557.4 482.3 1557.8 482.5 1558 482.5 1558.2 482.5 1558.6 482.5 1559 482.5 1559.4 482.5 1559.8 482.5 1560.2 482.5 1560.6 482.5 1561 482.5 1561.4 482.5 1561.8 482.5 1562.2 482.5 1562.6 482.5 1563 482.4 1563.4 482.4 1563.8 482.4 1564.2 482.4 1564.6 482.4 1565 482.4 1565.4 482.4 1565.8 482.4 1566.2 482.3 1566.6 482.3 1567 482.3 1567.4 482.3 1567.8 482.2 1568.2 482.2 1568.6 482.2 1569 482.2 1569.4 482.1 1569.8 482.1 1570.2 482.1 1570.6 482 1571 482 1571.4 482 1571.8 481.9 1572.2 481.9 1572.6 481.8 1573 481.8 1573.4 481.7 1573.8 481.7 1574.2 481.6 1574.6 481.6 1575 481.5 1575.4 481.5 1575.8 481.4 1576.2 481.3 1576.6 481.3 1577 481.2 1577.4 481.1 1577.8 481 1578 481 1578.2 480.9 1578.6 480.3 1579 479.4 1579.4 478.4 1579.8 477.4 1580 477 1580.2 476.6 1580.6 476 1581 475.4 1581.4 474.8 1581.8 474.2 1582.2 473.4 1582.6 472.5 1582.8 471.9 1583 471.1 1583.4 468.8 1583.8 465.6 1584.2 462 1584.6 458.3 1585 455 1585.4 451.4 1585.8 447.5 1586.2 444.3 1586.6 443 1587 443.9 1587.4 446.2 1587.8 448.8 1588 450 1588.2 451.2 1588.6 454.3 1589 457.2 1589.4 458.8 1589.8 458.3 1590.2 456 1590.6 452.9 1591 450 1591.4 446.7 1591.8 443.4 1592.1 442.4 1592.6 443.4 1593 445.4 1593.4 447.9 1593.8 450.7 1594 452 1594.2 453.5 1594.6 457.2 1595 461.4 1595.4 465.5 1595.8 468.8 1596 470 1596.2 471 1596.6 472.8 1597 474.4 1597.4 475.9 1597.8 477.1 1598.2 478.1 1598.6 478.8 1599 479.4 1599.4 480 1599.8 480.4 1600.2 480.9 1600.6 481.2 1601 481.6 1601.4 481.8 1601.8 482 1602 482 1602.2 482 1602.6 482.1 1603 482.2 1603.4 482.3 1603.8 482.3 1604.2 482.4 1604.6 482.4 1605 482.5 1605.4 482.6 1605.8 482.6 1606.2 482.7 1606.6 482.7 1607 482.8 1607.4 482.8 1607.8 482.9 1608.2 482.9 1608.6 483 1609 483 1609.4 483 1609.8 483.1 1610.2 483.1 1610.6 483.1 1611 483.2 1611.4 483.2 1611.8 483.2 1612.2 483.3 1612.6 483.3 1613 483.3 1613.4 483.3 1613.8 483.4 1614.2 483.4 1614.6 483.4 1615 483.4 1615.4 483.4 1615.8 483.4 1616.2 483.4 1616.6 483.5 1617 483.5 1617.4 483.5 1617.8 483.5 1618.2 483.5 1618.6 483.5 1619 483.5 1619.4 483.5 1619.8 483.5 1620 483.5 1620.2 483.5 1620.6 483.5 1621 483.5 1621.4 483.5 1621.8 483.5 1622.2 483.5 1622.6 483.5 1623 483.5 1623.4 483.5 1623.8 483.5 1624.2 483.5 1624.6 483.5 1625 483.5 1625.4 483.5 1625.8 483.5 1626.2 483.5 1626.6 483.5 1627 483.5 1627.4 483.5 1627.8 483.5 1628.2 483.5 1628.6 483.5 1629 483.5 1629.4 483.5 1629.8 483.5 1630.2 483.5 1630.6 483.5 1631 483.5 1631.4 483.5 1631.8 483.5 1632.2 483.5 1632.6 483.5 1633 483.5 1633.4 483.5 1633.8 483.5 1634.2 483.5 1634.6 483.5 1635 483.5 1635.4 483.5 1635.8 483.5 1636.2 483.5 1636.6 483.5 1637 483.5 1637.4 483.5 1637.8 483.5 1638.2 483.5 1638.6 483.5 1639 483.5 1639.4 483.5 1639.8 483.5 1640.2 483.5 1640.6 483.5 1641 483.5 1641.4 483.5 1641.8 483.5 1642.2 483.5 1642.6 483.5 1643 483.5 1643.4 483.5 1643.8 483.5 1644.2 483.5 1644.6 483.5 1645 483.5 1645.4 483.5 1645.8 483.5 1646.2 483.5 1646.6 483.5 1647 483.5 1647.4 483.5 1647.8 483.5 1648.2 483.5 1648.6 483.5 1649 483.5 1649.4 483.5 1649.8 483.4 1650.2 483.4 1650.6 483.4 1651 483.4 1651.4 483.4 1651.8 483.4 1652.2 483.4 1652.6 483.4 1653 483.4 1653.4 483.4 1653.8 483.4 1654.2 483.4 1654.6 483.4 1655 483.4 1655.4 483.4 1655.8 483.4 1656.2 483.4 1656.6 483.4 1657 483.4 1657.4 483.4 1657.8 483.4 1658.2 483.4 1658.6 483.4 1659 483.4 1659.4 483.4 1659.8 483.4 1660.2 483.4 1660.6 483.4 1661 483.4 1661.4 483.4 1661.8 483.4 1662.2 483.4 1662.6 483.4 1663 483.4 1663.4 483.4 1663.8 483.4 1664.2 483.4 1664.6 483.4 1665 483.4 1665.4 483.3 1665.8 483.3 1666.2 483.3 1666.6 483.3 1667 483.3 1667.4 483.3 1667.8 483.3 1668.2 483.3 1668.6 483.3 1669 483.3 1669.4 483.3 1669.8 483.3 1670.2 483.3 1670.6 483.3 1671 483.3 1671.4 483.3 1671.8 483.3 1672.2 483.3 1672.6 483.3 1673 483.3 1673.4 483.3 1673.8 483.3 1674.2 483.3 1674.6 483.2 1675 483.2 1675.4 483.2 1675.8 483.2 1676.2 483.2 1676.6 483.2 1677 483.2 1677.4 483.2 1677.8 483.2 1678.2 483.2 1678.6 483.2 1679 483.2 1679.4 483.2 1679.8 483.2 1680.2 483.2 1680.6 483.2 1681 483.2 1681.4 483.2 1681.8 483.1 1682.2 483.1 1682.6 483.1 1683 483.1 1683.4 483.1 1683.8 483.1 1684.2 483.1 1684.6 483.1 1685 483.1 1685.4 483.1 1685.8 483.1 1686.2 483.1 1686.6 483.1 1687 483.1 1687.4 483 1687.8 483 1688.2 483 1688.6 483 1689 483 1689.4 483 1689.8 483 1690 483 1690.2 483 1690.6 482.9 1691 482.6 1691.4 482.4 1691.8 482 1692.2 481.7 1692.6 481.4 1693 481 1693.4 480.8 1693.8 480.6 1694.2 480.5 1694.6 480.6 1695 480.9 1695.4 481.4 1695.8 482 1696.2 482.5 1696.6 482.9 1697 483 1697.4 483 1697.8 483 1698.2 483 1698.6 483 1699 483 1699.4 483 1699.8 483 1700.2 483 1700.6 483 1701 482.9 1701.4 482.9 1701.8 482.9 1702.2 482.9 1702.6 482.9 1703 482.9 1703.4 482.9 1703.8 482.8 1704.2 482.8 1704.6 482.8 1705 482.8 1705.4 482.7 1705.8 482.7 1706.2 482.7 1706.6 482.6 1707 482.6 1707.4 482.6 1707.8 482.5 1708 482.5 1708.2 482.5 1708.6 482.2 1709 481.8 1709.4 481.4 1709.8 480.9 1710.2 480.5 1710.6 480.2 1711 480 1711.4 480.1 1711.8 480.4 1712.2 480.8 1712.6 481.3 1713 481.8 1713.4 482.2 1713.8 482.5 1714 482.5 1714.2 482.5 1714.6 482.5 1715 482.5 1715.4 482.5 1715.8 482.5 1716.2 482.5 1716.6 482.5 1717 482.5 1717.4 482.5 1717.8 482.5 1718.2 482.5 1718.6 482.5 1719 482.5 1719.4 482.5 1719.8 482.5 1720.2 482.5 1720.6 482.5 1721 482.5 1721.4 482.4 1721.8 482.4 1722.2 482.4 1722.6 482.4 1723 482.4 1723.4 482.4 1723.8 482.4 1724.2 482.4 1724.6 482.4 1725 482.4 1725.4 482.4 1725.8 482.4 1726.2 482.4 1726.6 482.3 1727 482.3 1727.4 482.3 1727.8 482.3 1728.2 482.3 1728.6 482.3 1729 482.3 1729.4 482.3 1729.8 482.2 1730.2 482.2 1730.6 482.2 1731 482.2 1731.4 482.2 1731.8 482.2 1732.2 482.1 1732.6 482.1 1733 482.1 1733.4 482.1 1733.8 482.1 1734.2 482 1734.6 482 1735 482 1735.4 482 1735.8 481.9 1736.2 481.8 1736.6 481.6 1737 481.4 1737.4 481.2 1737.8 480.9 1738.2 480.6 1738.6 480.3 1739 480 1739.4 479.7 1739.8 479.3 1740.2 478.9 1740.6 478.5 1741 478.1 1741.4 477.7 1741.8 477.2 1742 477 1742.2 476.8 1742.6 476.2 1743 475.6 1743.4 474.9 1743.8 474.1 1744.2 473.3 1744.6 472.4 1745 471.4 1745.4 470.5 1745.8 469.5 1746 469 1746.2 468.5 1746.6 467.5 1747 466.5 1747.4 465.2 1747.8 463.7 1748.2 461.5 1748.6 458.2 1749 454 1749.4 449 1749.8 443.2 1750 440 1750.2 436.1 1750.6 425.2 1751 411.8 1751.4 397.8 1751.8 385.2 1752 380 1752.2 375.1 1752.6 364.7 1753 355.9 1753.4 351.1 1753.8 352.2 1754.2 357.2 1754.6 364.8 1755 373.5 1755.3 380 1755.8 393.2 1756.2 406.5 1756.6 420.4 1757 433.2 1757.4 443.2 1757.8 450 1758.2 456.2 1758.6 461.6 1759 465.9 1759.4 468.6 1759.8 470 1760.2 471.2 1760.6 472.3 1761 473.2 1761.4 474.1 1761.8 474.9 1762.2 475.5 1762.6 476.1 1763 476.7 1763.4 477.1 1763.8 477.5 1764.2 477.9 1764.6 478.2 1765 478.5 1765.4 478.8 1765.8 479 1766.2 479.3 1766.6 479.5 1767 479.8 1767.4 480 1767.8 480.2 1768.2 480.4 1768.6 480.6 1769 480.8 1769.4 481 1769.8 481.2 1770.2 481.3 1770.6 481.5 1771 481.6 1771.4 481.8 1771.8 481.9 1772.2 482 1772.6 482.1 1773 482.2 1773.4 482.3 1773.8 482.4 1774.2 482.4 1774.6 482.5 1775 482.5 1775.4 482.5 1775.8 482.6 1776.2 482.6 1776.6 482.6 1777 482.7 1777.4 482.7 1777.8 482.7 1778.2 482.7 1778.6 482.8 1779 482.8 1779.4 482.8 1779.8 482.9 1780.2 482.9 1780.6 482.9 1781 482.9 1781.4 483 1781.8 483 1782.2 483 1782.6 483 1783 483 1783.4 483.1 1783.8 483.1 1784.2 483.1 1784.6 483.1 1785 483.1 1785.4 483.2 1785.8 483.2 1786.2 483.2 1786.6 483.2 1787 483.2 1787.4 483.3 1787.8 483.3 1788.2 483.3 1788.6 483.3 1789 483.3 1789.4 483.3 1789.8 483.3 1790.2 483.4 1790.6 483.4 1791 483.4 1791.4 483.4 1791.8 483.4 1792.2 483.4 1792.6 483.4 1793 483.4 1793.4 483.4 1793.8 483.4 1794.2 483.4 1794.6 483.5 1795 483.5 1795.4 483.5 1795.8 483.5 1796.2 483.5 1796.6 483.5 1797 483.5 1797.4 483.5 1797.8 483.5 1798.2 483.5 1798.6 483.5 1799 483.5 1799.4 483.5 1799.8 483.5 1800 483.5 1800.2 483.5 1800.6 483.5 1801 483.5 1801.4 483.5 1801.8 483.5 1802.2 483.5 1802.6 483.5 1803 483.5 1803.4 483.5 1803.8 483.5 1804.2 483.5 1804.6 483.5 1805 483.5 1805.4 483.5 1805.8 483.5 1806.2 483.5 1806.6 483.5 1807 483.5 1807.4 483.5 1807.8 483.5 1808.2 483.5 1808.6 483.5 1809 483.5 1809.4 483.5 1809.8 483.5 1810.2 483.5 1810.6 483.5 1811 483.5 1811.4 483.5 1811.8 483.5 1812.2 483.5 1812.6 483.5 1813 483.5 1813.4 483.5 1813.8 483.5 1814.2 483.5 1814.6 483.5 1815 483.5 1815.4 483.5 1815.8 483.5 1816.2 483.5 1816.6 483.5 1817 483.5 1817.4 483.5 1817.8 483.5 1818.2 483.5 1818.6 483.5 1819 483.5 1819.4 483.5 1819.8 483.5 1820.2 483.5 1820.6 483.5 1821 483.5 1821.4 483.5 1821.8 483.5 1822.2 483.5 1822.6 483.5 1823 483.5 1823.4 483.5 1823.8 483.5 1824.2 483.5 1824.6 483.5 1825 483.5 1825.4 483.5 1825.8 483.5 1826.2 483.5 1826.6 483.5 1827 483.5 1827.4 483.5 1827.8 483.5 1828.2 483.5 1828.6 483.5 1829 483.5 1829.4 483.5 1829.8 483.5 1830.2 483.5 1830.6 483.5 1831 483.5 1831.4 483.5 1831.8 483.5 1832.2 483.5 1832.6 483.5 1833 483.5 1833.4 483.5 1833.8 483.5 1834.2 483.5 1834.6 483.5 1835 483.5 1835.4 483.5 1835.8 483.5 1836.2 483.5 1836.6 483.5 1837 483.5 1837.4 483.5 1837.8 483.5 1838.2 483.5 1838.6 483.5 1839 483.5 1839.4 483.5 1839.8 483.5 1840.2 483.5 1840.6 483.5 1841 483.5 1841.4 483.5 1841.8 483.5 1842.2 483.5 1842.6 483.5 1843 483.5 1843.4 483.5 1843.8 483.5 1844.2 483.5 1844.6 483.5 1845 483.5 1845.4 483.5 1845.8 483.5 1846.2 483.5 1846.6 483.5 1847 483.5 1847.4 483.5 1847.8 483.5 1848.2 483.5 1848.6 483.5 1849 483.5 1849.4 483.5 1849.8 483.5 1850.2 483.5 1850.6 483.5 1851 483.5 1851.4 483.5 1851.8 483.5 1852.2 483.5 1852.6 483.5 1853 483.5 1853.4 483.5 1853.8 483.5 1854.2 483.5 1854.6 483.5 1855 483.5 1855.4 483.5 1855.8 483.5 1856.2 483.5 1856.6 483.5 1857 483.5 1857.4 483.5 1857.8 483.5 1858.2 483.5 1858.6 483.5 1859 483.5 1859.4 483.5 1859.8 483.5 1860.2 483.5 1860.6 483.5 1861 483.5 1861.4 483.5 1861.8 483.5 1862.2 483.5 1862.6 483.5 1863 483.5 1863.4 483.5 1863.8 483.5 1864.2 483.5 1864.6 483.5 1865 483.5 1865.4 483.5 1865.8 483.5 1866.2 483.5 1866.6 483.5 1867 483.5 1867.4 483.5 1867.8 483.5 1868.2 483.5 1868.6 483.5 1869 483.5 1869.4 483.5 1869.8 483.5 1870.2 483.5 1870.6 483.5 1871 483.5 1871.4 483.5 1871.8 483.5 1872.2 483.5 1872.6 483.5 1873 483.5 1873.4 483.5 1873.8 483.5 1874.2 483.5 1874.6 483.5 1875 483.5 1875.4 483.5 1875.8 483.5 1876.2 483.5 1876.6 483.5 1877 483.5 1877.4 483.5 1877.8 483.5 1878.2 483.5 1878.6 483.5 1879 483.5 1879.4 483.5 1879.8 483.5 1880.2 483.5 1880.6 483.5 1881 483.5 1881.4 483.5 1881.8 483.5 1882.2 483.5 1882.6 483.5 1883 483.5 1883.4 483.5 1883.8 483.5 1884.2 483.5 1884.6 483.5 1885 483.5 1885.4 483.5 1885.8 483.5 1886.2 483.5 1886.6 483.5 1887 483.5 1887.4 483.5 1887.8 483.5 1888.2 483.5 1888.6 483.5 1889 483.5 1889.4 483.5 1889.8 483.5 1890.2 483.5 1890.6 483.5 1891 483.5 1891.4 483.5 1891.8 483.5 1892.2 483.5 1892.6 483.5 1893 483.5 1893.4 483.5 1893.8 483.5 1894.2 483.5 1894.6 483.5 1895 483.5 1895.4 483.5 1895.8 483.5 1896.2 483.5 1896.6 483.5 1897 483.5 1897.4 483.5 1897.8 483.5 1898.2 483.5 1898.6 483.5 1899 483.5 1899.4 483.5 1899.8 483.5 1900.2 483.5 1900.6 483.5 1901 483.5 1901.4 483.5 1901.8 483.5 1902.2 483.5 1902.6 483.5 1903 483.5 1903.4 483.5 1903.8 483.5 1904.2 483.5 1904.6 483.5 1905 483.5 1905.4 483.5 1905.8 483.5 1906.2 483.5 1906.6 483.5 1907 483.5 1907.4 483.5 1907.8 483.5 1908.2 483.5 1908.6 483.5 1909 483.5 1909.4 483.5 1909.8 483.5 1910.2 483.5 1910.6 483.5 1911 483.5 1911.4 483.5 1911.8 483.5 1912.2 483.5 1912.6 483.5 1913 483.5 1913.4 483.5 1913.8 483.5 1914.2 483.5 1914.6 483.5 1915 483.5 1915.4 483.5 1915.8 483.5 1916.2 483.5 1916.6 483.5 1917 483.5 1917.4 483.5 1917.8 483.5 1918.2 483.5 1918.6 483.5 1919 483.5 1919.4 483.5 1919.8 483.5 1920.2 483.5 1920.6 483.5 1921 483.5 1921.4 483.5 1921.8 483.5 1922.2 483.5 1922.6 483.5 1923 483.5 1923.4 483.5 1923.8 483.5 1924.2 483.5 1924.6 483.5 1925 483.5 1925.4 483.5 1925.8 483.5 1926.2 483.5 1926.6 483.5 1927 483.5 1927.4 483.5 1927.8 483.5 1928.2 483.5 1928.6 483.5 1929 483.5 1929.4 483.5 1929.8 483.5 1930.2 483.5 1930.6 483.5 1931 483.5 1931.4 483.5 1931.8 483.5 1932.2 483.5 1932.6 483.5 1933 483.5 1933.4 483.5 1933.8 483.5 1934.2 483.5 1934.6 483.5 1935 483.5 1935.4 483.5 1935.8 483.5 1936.2 483.5 1936.6 483.5 1937 483.5 1937.4 483.5 1937.8 483.5 1938.2 483.5 1938.6 483.5 1939 483.5 1939.4 483.5 1939.8 483.5 1940.2 483.5 1940.6 483.5 1941 483.5 1941.4 483.5 1941.8 483.5 1942.2 483.5 1942.6 483.5 1943 483.5 1943.4 483.5 1943.8 483.5 1944.2 483.5 1944.6 483.5 1945 483.5 1945.4 483.5 1945.8 483.5 1946.2 483.5 1946.6 483.5 1947 483.5 1947.4 483.5 1947.8 483.5 1948.2 483.5 1948.6 483.5 1949 483.5 1949.4 483.5 1949.8 483.5 1950.2 483.5 1950.6 483.5 1951 483.5 1951.4 483.5 1951.8 483.5 1952.2 483.5 1952.6 483.5 1953 483.5 1953.4 483.5 1953.8 483.5 1954.2 483.5 1954.6 483.5 1955 483.5 1955.4 483.5 1955.8 483.5 1956.2 483.5 1956.6 483.5 1957 483.5 1957.4 483.5 1957.8 483.5 1958.2 483.5 1958.6 483.5 1959 483.5 1959.4 483.5 1959.8 483.5 1960.2 483.5 1960.6 483.5 1961 483.5 1961.4 483.5 1961.8 483.5 1962.2 483.5 1962.6 483.5 1963 483.5 1963.4 483.5 1963.8 483.5 1964.2 483.5 1964.6 483.5 1965 483.5 1965.4 483.5 1965.8 483.5 1966.2 483.5 1966.6 483.5 1967 483.5 1967.4 483.5 1967.8 483.5 1968.2 483.5 1968.6 483.5 1969 483.5 1969.4 483.5 1969.8 483.5 1970.2 483.5 1970.6 483.5 1971 483.5 1971.4 483.5 1971.8 483.5 1972.2 483.5 1972.6 483.5 1973 483.5 1973.4 483.5 1973.8 483.5 1974.2 483.5 1974.6 483.5 1975 483.5 1975.4 483.5 1975.8 483.5 1976.2 483.5 1976.6 483.5 1977 483.5 1977.4 483.5 1977.8 483.5 1978.2 483.5 1978.6 483.5 1979 483.5 1979.4 483.5 1979.8 483.5 1980.2 483.5 1980.6 483.5 1981 483.5 1981.4 483.5 1981.8 483.5 1982.2 483.5 1982.6 483.5 1983 483.5 1983.4 483.5 1983.8 483.5 1984.2 483.5 1984.6 483.5 1985 483.5 1985.4 483.5 1985.8 483.5 1986.2 483.5 1986.6 483.5 1987 483.5 1987.4 483.5 1987.8 483.5 1988.2 483.5 1988.6 483.5 1989 483.5 1989.4 483.5 1989.8 483.5 1990 483.5 1990.2 483.5 1990.6 483.5 1991 483.5 1991.4 483.4 1991.8 483.3 1992.2 483.3 1992.6 483.2 1993 483.1 1993.4 482.9 1993.8 482.8 1994.2 482.6 1994.6 482.4 1995 482.2 1995.4 482 1995.8 481.8 1996.2 481.5 1996.6 481.3 1997 481 1997.4 480.5 1997.8 479.5 1998.2 478.3 1998.6 476.7 1999 474.9 1999.4 473 1999.8 471 2000 470 2000.2 468.9 2000.6 465.9 2001 462.4 2001.4 459 2001.8 456.1 2002 455 2002.2 454 2002.6 452 2003 450.4 2003.4 449.3 2003.6 449.2 2003.8 449.3 2004.2 450.2 2004.6 451.7 2005 453.6 2005.3 455 2005.8 458.2 2006.2 461.6 2006.6 465.2 2007 468.3 2007.3 470 2007.8 472.2 2008.2 473.9 2008.6 475.4 2009 476.7 2009.4 477.9 2009.8 478.9 2010.2 479.6 2010.5 480 2011 480.5 2011.4 480.9 2011.8 481.3 2012.2 481.6 2012.6 481.9 2013 482.2 2013.4 482.5 2013.8 482.7 2014.2 482.9 2014.6 483 2015 483.2 2015.4 483.3 2015.8 483.3 2016 483.3 2016.2 483.3 2016.6 483.3 2017 483.3 2017.4 483.3 2017.8 483.3 2018.2 483.3 2018.6 483.3 2019 483.3 2019.4 483.3 2019.8 483.3 2020.2 483.3 2020.6 483.3 2021 483.3 2021.4 483.3 2021.8 483.3 2022.2 483.3 2022.6 483.3 2023 483.3 2023.4 483.3 2023.8 483.3 2024.2 483.3 2024.6 483.3 2025 483.3 2025.4 483.4 2025.8 483.4 2026.2 483.4 2026.6 483.4 2027 483.4 2027.4 483.4 2027.8 483.4 2028.2 483.4 2028.6 483.4 2029 483.4 2029.4 483.4 2029.8 483.4 2030.2 483.4 2030.6 483.4 2031 483.4 2031.4 483.4 2031.8 483.4 2032.2 483.4 2032.6 483.4 2033 483.4 2033.4 483.4 2033.8 483.4 2034.2 483.4 2034.6 483.4 2035 483.4 2035.4 483.4 2035.8 483.4 2036.2 483.4 2036.6 483.4 2037 483.4 2037.4 483.4 2037.8 483.4 2038.2 483.4 2038.6 483.4 2039 483.4 2039.4 483.4 2039.8 483.4 2040.2 483.4 2040.6 483.4 2041 483.4 2041.4 483.4 2041.8 483.4 2042.2 483.4 2042.6 483.4 2043 483.4 2043.4 483.4 2043.8 483.4 2044.2 483.4 2044.6 483.4 2045 483.4 2045.4 483.4 2045.8 483.4 2046.2 483.4 2046.6 483.4 2047 483.4 2047.4 483.4 2047.8 483.4 2048.2 483.4 2048.6 483.4 2049 483.4 2049.4 483.4 2049.8 483.4 2050.2 483.4 2050.6 483.4 2051 483.4 2051.4 483.4 2051.8 483.4 2052.2 483.4 2052.6 483.4 2053 483.4 2053.4 483.4 2053.8 483.5 2054.2 483.5 2054.6 483.5 2055 483.5 2055.4 483.5 2055.8 483.5 2056.2 483.5 2056.6 483.5 2057 483.5 2057.4 483.5 2057.8 483.5 2058.2 483.5 2058.6 483.5 2059 483.5 2059.4 483.5 2059.8 483.5 2060.2 483.5 2060.6 483.5 2061 483.5 2061.4 483.5 2061.8 483.5 2062.2 483.5 2062.6 483.5 2063 483.5 2063.4 483.5 2063.8 483.5 2064.2 483.5 2064.6 483.5 2065 483.5 2065.4 483.5 2065.8 483.5 2066.2 483.5 2066.6 483.5 2067 483.5 2067.4 483.5 2067.8 483.5 2068.2 483.5 2068.6 483.5 2069 483.5 2069.4 483.5 2069.8 483.5 2070.2 483.5 2070.6 483.5 2071 483.5 2071.4 483.5 2071.8 483.5 2072.2 483.5 2072.6 483.5 2073 483.5 2073.4 483.5 2073.8 483.5 2074.2 483.5 2074.6 483.5 2075 483.5 2075.4 483.5 2075.8 483.5 2076.2 483.5 2076.6 483.5 2077 483.5 2077.4 483.5 2077.8 483.5 2078.2 483.5 2078.6 483.5 2079 483.5 2079.4 483.5 2079.8 483.5 2080.2 483.5 2080.6 483.5 2081 483.5 2081.4 483.5 2081.8 483.5 2082.2 483.5 2082.6 483.5 2083 483.5 2083.4 483.5 2083.8 483.5 2084.2 483.5 2084.6 483.5 2085 483.5 2085.4 483.5 2085.8 483.5 2086.2 483.5 2086.6 483.5 2087 483.5 2087.4 483.5 2087.8 483.5 2088.2 483.5 2088.6 483.5 2089 483.5 2089.4 483.5 2089.8 483.5 2090.2 483.5 2090.6 483.5 2091 483.5 2091.4 483.5 2091.8 483.5 2092.2 483.5 2092.6 483.5 2093 483.5 2093.4 483.5 2093.8 483.5 2094.2 483.5 2094.6 483.5 2095 483.5 2095.4 483.5 2095.8 483.5 2096.2 483.5 2096.6 483.5 2097 483.5 2097.4 483.5 2097.8 483.5 2098.2 483.5 2098.6 483.5 2099 483.5 2099.4 483.5 2099.8 483.5 2100.2 483.5 2100.6 483.5 2101 483.5 2101.4 483.5 2101.8 483.5 2102.2 483.5 2102.6 483.5 2103 483.5 2103.4 483.5 2103.8 483.5 2104.2 483.5 2104.6 483.5 2105 483.5 2105.4 483.5 2105.8 483.5 2106.2 483.5 2106.6 483.5 2107 483.5 2107.4 483.5 2107.8 483.5 2108.2 483.5 2108.6 483.5 2109 483.5 2109.4 483.5 2109.8 483.5 2110.2 483.5 2110.6 483.5 2111 483.5 2111.4 483.5 2111.8 483.5" fill="none" stroke="#2b3192" stroke-width="2.6" stroke-linejoin="round" clip-path="url(#clipBot)"/>
<rect x="1157.6" y="21.3" width="954.2" height="483.7" fill="none" stroke="#231f20" stroke-width="2.5"/>
<line x1="1157.6" y1="156.5" x2="2111.8" y2="156.5" stroke="#231f20" stroke-width="2.5"/>
<path d="M1316.6 21.3L1316.6 29.3 M1316.6 156.5L1316.6 167.5 M1316.6 505L1316.6 494.5 M1515.2 21.3L1515.2 29.3 M1515.2 156.5L1515.2 167.5 M1515.2 505L1515.2 494.5 M1713.8 21.3L1713.8 29.3 M1713.8 156.5L1713.8 167.5 M1713.8 505L1713.8 494.5 M1913.3 21.3L1913.3 29.3 M1913.3 156.5L1913.3 167.5 M1913.3 505L1913.3 494.5 M1157.6 65.7L1168.1 65.7 M2111.8 65.7L2101.8 65.7 M1157.6 137.4L1168.1 137.4 M2111.8 137.4L2101.8 137.4 M1157.6 238.9L1168.1 238.9 M2111.8 238.9L2101.8 238.9 M1157.6 320.2L1168.1 320.2 M2111.8 320.2L2101.8 320.2 M1157.6 401.8L1168.1 401.8 M2111.8 401.8L2101.8 401.8 M1157.6 484.2L1168.1 484.2 M2111.8 484.2L2101.8 484.2" stroke="#231f20" stroke-width="2.5" fill="none"/>
<text x="1150.5" y="75.6" font-size="33.5" fill="#231f20" text-anchor="end">1</text>
<text x="1154" y="144.5" font-size="33.5" fill="#231f20" text-anchor="end">0</text>
<text x="1153.2" y="174" font-size="33.5" fill="#231f20" text-anchor="end">8</text>
<text x="1153" y="255.5" font-size="33.5" fill="#231f20" text-anchor="end">6</text>
<text x="1152.5" y="336.6" font-size="33.5" fill="#231f20" text-anchor="end">4</text>
<text x="1153.5" y="417.6" font-size="33.5" fill="#231f20" text-anchor="end">2</text>
<text x="1153.8" y="498.2" font-size="33.5" fill="#231f20" text-anchor="end">0</text>
<text x="1141.5" y="539.6" font-size="33.5" fill="#231f20">100</text>
<text x="1298" y="539.6" font-size="33.5" fill="#231f20">500</text>
<text x="1484.2" y="539.6" font-size="33.5" fill="#231f20">1000</text>
<text x="1678" y="539.6" font-size="33.5" fill="#231f20">1500</text>
<text x="1868.6" y="539.6" font-size="33.5" fill="#231f20">2000</text>
<text x="2063.2" y="539.6" font-size="33.5" fill="#231f20">2500</text>
<text x="1425.3" y="577.4" font-size="41.3" font-weight="bold" fill="#231f20">Wavenumber (cm<tspan font-size="24" dy="-12.5">-1</tspan><tspan dy="12.5">)</tspan></text>
<text transform="translate(1119.5 399.2) rotate(-90)" font-size="41.8" font-weight="bold" fill="#231f20">Intensity a.u.</text>
<text x="1727" y="59.1" font-size="33.6" fill="#231f20">Spontaneous Raman</text>
<text x="1810" y="231.4" font-size="33.9" fill="#231f20">Benzonitrile</text>
<text x="1171" y="383.4" font-size="30" fill="#d9383a">6&#215;</text>
<text x="1171" y="424.6" font-size="33.4" fill="#e05a28">Intraband &amp; Interband</text>
<text x="1793" y="443.1" font-size="33.45" fill="#2b3192">Interband interaction</text>
<line x1="1190.3" y1="348.9" x2="1205.8" y2="321.5" stroke="#231f20" stroke-width="2"/>
<line x1="1765.1" y1="472.2" x2="1785.4" y2="436.2" stroke="#231f20" stroke-width="2"/>
<polygon points="1895.1,248.15 1914.15,258.65 1914.15,279.65 1895.1,290.15 1876.05,279.65 1876.05,258.65" fill="none" stroke="#231f20" stroke-width="2.5" stroke-linejoin="miter"/>
<line x1="1895.7" y1="255.56" x2="1907.13" y2="261.86" stroke="#231f20" stroke-width="2.4"/>
<line x1="1907.13" y1="276.44" x2="1895.7" y2="282.74" stroke="#231f20" stroke-width="2.4"/>
<line x1="1882.25" y1="275.45" x2="1882.25" y2="262.85" stroke="#231f20" stroke-width="2.4"/>
<line x1="1895.1" y1="290.15" x2="1895.1" y2="303.6" stroke="#231f20" stroke-width="2.2"/>
<text x="1895.1" y="320.8" font-size="19.5" fill="#231f20" text-anchor="middle">C</text>
<line x1="1889.9" y1="325.8" x2="1889.9" y2="338" stroke="#231f20" stroke-width="1.8"/>
<line x1="1895.1" y1="325.8" x2="1895.1" y2="338" stroke="#231f20" stroke-width="1.8"/>
<line x1="1900.7" y1="325.8" x2="1900.7" y2="338" stroke="#231f20" stroke-width="1.8"/>
<text x="1895.1" y="356.7" font-size="19.5" fill="#231f20" text-anchor="middle">N</text>
</svg></body></html>
